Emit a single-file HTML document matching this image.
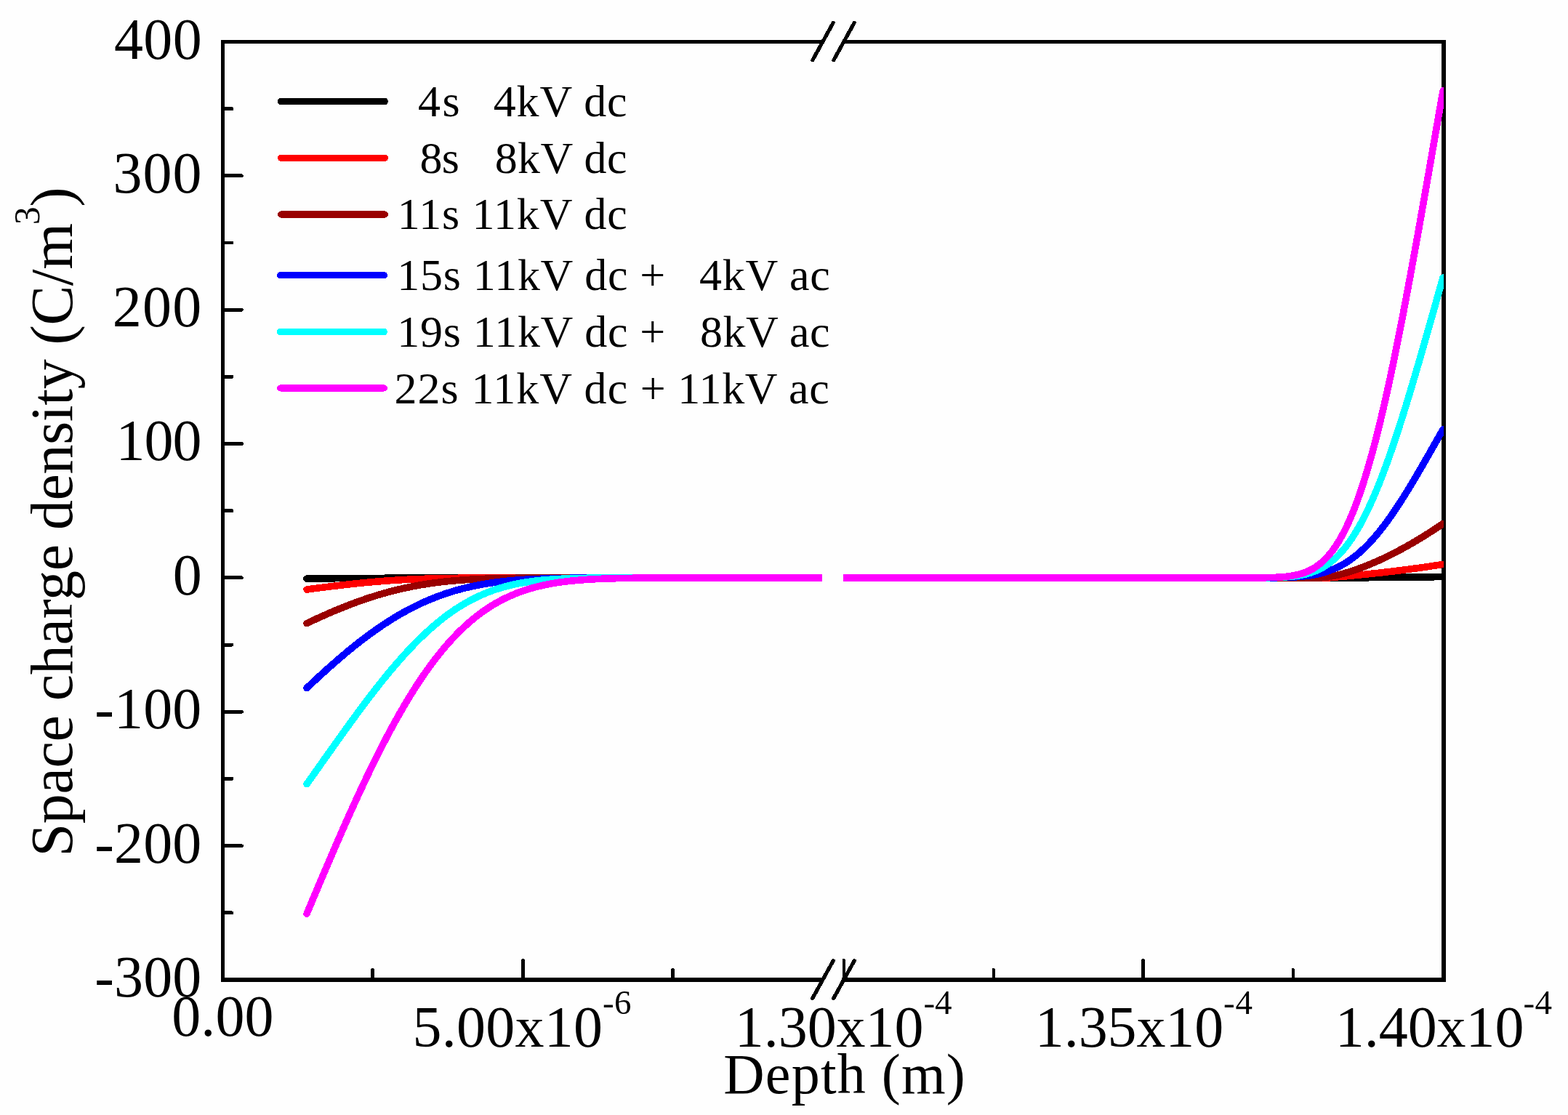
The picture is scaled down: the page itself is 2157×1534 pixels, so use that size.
<!DOCTYPE html>
<html><head><meta charset="utf-8"><title>Space charge density vs depth</title><style>
html,body{margin:0;padding:0;background:#fefefe;}
svg{display:block;}
text{font-family:"Liberation Serif","Times New Roman",serif;fill:#000;white-space:pre;}
</style></head><body>
<svg width="2157" height="1534" viewBox="0 0 2157 1534">
<rect x="0" y="0" width="2157" height="1534" fill="#fefefe"/>
<defs><clipPath id="cl"><rect x="300" y="0" width="831" height="1534"/></clipPath><clipPath id="cr"><rect x="1160" y="0" width="826" height="1534"/></clipPath></defs>
<g fill="#000" shape-rendering="crispEdges">
<rect x="304" y="55" width="5" height="1296"/>
<rect x="1983" y="55" width="6" height="1296"/>
<rect x="304" y="55" width="828" height="5"/>
<rect x="1160" y="55" width="829" height="5"/>
<rect x="304" y="1345" width="828" height="6"/>
<rect x="1158" y="1345" width="831" height="6"/>
</g>
<g stroke="#000" stroke-width="4.9" stroke-linecap="round" fill="none" shape-rendering="crispEdges">
<path d="M306.5 1255.82 H319.0"/>
<path d="M306.5 1163.64 H332.5"/>
<path d="M306.5 1071.46 H319.0"/>
<path d="M306.5 979.29 H332.5"/>
<path d="M306.5 887.11 H319.0"/>
<path d="M306.5 794.93 H332.5"/>
<path d="M306.5 702.75 H319.0"/>
<path d="M306.5 610.57 H332.5"/>
<path d="M306.5 518.39 H319.0"/>
<path d="M306.5 426.21 H332.5"/>
<path d="M306.5 334.04 H319.0"/>
<path d="M306.5 241.86 H332.5"/>
<path d="M306.5 149.68 H319.0"/>
<path d="M512.6 1348 V1334.5"/>
<path d="M719.6 1348 V1321.5"/>
<path d="M925.4 1348 V1334.5"/>
<path d="M1161 1348 V1321.5"/>
<path d="M1367 1348 V1334.5"/>
<path d="M1572.8 1348 V1321.5"/>
<path d="M1779 1348 V1334.5"/>
</g>
<g stroke="#000" stroke-width="5.2" stroke-linecap="round" fill="none" shape-rendering="crispEdges">
<path d="M1117.8 82.8 L1146.2 31.3 M1146.8 82.8 L1175.2 31.3"/>
<path d="M1117.8 1373.3 L1146.2 1321.8 M1146.8 1373.3 L1175.2 1321.8"/>
</g>
<g fill="none" stroke-width="9.6" stroke-linejoin="round" stroke-linecap="round" shape-rendering="crispEdges">
<path clip-path="url(#cl)" stroke="#000000" d="M422.0 796.13 L423.0 796.12 L424.0 796.10 L425.0 796.09 L426.0 796.08 L427.0 796.07 L428.0 796.05 L429.0 796.04 L430.0 796.03 L431.0 796.02 L432.0 796.00 L433.0 795.99 L434.0 795.98 L435.0 795.97 L436.0 795.96 L437.0 795.95 L438.0 795.93 L439.0 795.92 L440.0 795.91 L441.0 795.90 L442.0 795.89 L443.0 795.88 L444.0 795.87 L445.0 795.86 L446.0 795.85 L447.0 795.84 L448.0 795.83 L449.0 795.82 L450.0 795.81 L451.0 795.80 L452.0 795.79 L453.0 795.78 L454.0 795.77 L455.0 795.76 L456.0 795.75 L457.0 795.74 L458.0 795.73 L459.0 795.73 L460.0 795.72 L461.0 795.71 L462.0 795.70 L463.0 795.69 L464.0 795.68 L465.0 795.67 L466.0 795.67 L467.0 795.66 L468.0 795.65 L469.0 795.64 L470.0 795.63 L471.0 795.63 L472.0 795.62 L473.0 795.61 L474.0 795.60 L475.0 795.60 L476.0 795.59 L477.0 795.58 L478.0 795.57 L479.0 795.57 L480.0 795.56 L481.0 795.55 L482.0 795.55 L483.0 795.54 L484.0 795.53 L485.0 795.53 L486.0 795.52 L487.0 795.51 L488.0 795.51 L489.0 795.50 L490.0 795.49 L491.0 795.49 L492.0 795.48 L493.0 795.48 L494.0 795.47 L495.0 795.46 L496.0 795.46 L497.0 795.45 L498.0 795.45 L499.0 795.44 L500.0 795.43 L501.0 795.43 L502.0 795.42 L503.0 795.42 L504.0 795.41 L505.0 795.41 L506.0 795.40 L507.0 795.40 L508.0 795.39 L509.0 795.39 L510.0 795.38 L511.0 795.38 L512.0 795.37 L513.0 795.37 L514.0 795.36 L515.0 795.36 L516.0 795.35 L517.0 795.35 L518.0 795.34 L519.0 795.34 L520.0 795.33 L521.0 795.33 L522.0 795.33 L523.0 795.32 L524.0 795.32 L525.0 795.31 L526.0 795.31 L527.0 795.30 L528.0 795.30 L529.0 795.30 L530.0 795.29 L531.0 795.29 L532.0 795.28 L533.0 795.28 L534.0 795.28 L535.0 795.27 L536.0 795.27 L537.0 795.26 L538.0 795.26 L539.0 795.26 L540.0 795.25 L541.0 795.25 L542.0 795.25 L543.0 795.24 L544.0 795.24 L545.0 795.24 L546.0 795.23 L547.0 795.23 L548.0 795.23 L549.0 795.22 L550.0 795.22 L551.0 795.22 L552.0 795.21 L553.0 795.21 L554.0 795.21 L555.0 795.20 L556.0 795.20 L557.0 795.20 L558.0 795.19 L559.0 795.19 L560.0 795.19 L561.0 795.19 L562.0 795.18 L563.0 795.18 L564.0 795.18 L565.0 795.17 L566.0 795.17 L567.0 795.17 L568.0 795.17 L569.0 795.16 L570.0 795.16 L571.0 795.16 L572.0 795.16 L573.0 795.15 L574.0 795.15 L575.0 795.15 L576.0 795.15 L577.0 795.14 L578.0 795.14 L579.0 795.14 L580.0 795.14 L581.0 795.14 L582.0 795.13 L583.0 795.13 L584.0 795.13 L585.0 795.13 L586.0 795.12 L587.0 795.12 L588.0 795.12 L589.0 795.12 L590.0 795.12 L591.0 795.11 L592.0 795.11 L593.0 795.11 L594.0 795.11 L595.0 795.11 L596.0 795.10 L597.0 795.10 L598.0 795.10 L599.0 795.10 L600.0 795.10 L601.0 795.09 L602.0 795.09 L603.0 795.09 L604.0 795.09 L605.0 795.09 L606.0 795.09 L607.0 795.08 L608.0 795.08 L609.0 795.08 L610.0 795.08 L611.0 795.08 L612.0 795.08 L613.0 795.07 L614.0 795.07 L615.0 795.07 L616.0 795.07 L617.0 795.07 L618.0 795.07 L619.0 795.06 L620.0 795.06 L621.0 795.06 L622.0 795.06 L623.0 795.06 L624.0 795.06 L625.0 795.06 L626.0 795.05 L627.0 795.05 L628.0 795.05 L629.0 795.05 L630.0 795.05 L631.0 795.05 L632.0 795.05 L633.0 795.05 L634.0 795.04 L635.0 795.04 L636.0 795.04 L637.0 795.04 L638.0 795.04 L639.0 795.04 L640.0 795.04 L641.0 795.04 L642.0 795.03 L643.0 795.03 L644.0 795.03 L645.0 795.03 L646.0 795.03 L647.0 795.03 L648.0 795.03 L649.0 795.03 L650.0 795.03 L651.0 795.02 L652.0 795.02 L653.0 795.02 L654.0 795.02 L655.0 795.02 L656.0 795.02 L657.0 795.02 L658.0 795.02 L659.0 795.02 L660.0 795.02 L661.0 795.01 L662.0 795.01 L663.0 795.01 L664.0 795.01 L665.0 795.01 L666.0 795.01 L667.0 795.01 L668.0 795.01 L669.0 795.01 L670.0 795.01 L671.0 795.01 L672.0 795.00 L673.0 795.00 L674.0 795.00 L675.0 795.00 L676.0 795.00 L677.0 795.00 L678.0 795.00 L679.0 795.00 L680.0 795.00 L681.0 795.00 L682.0 795.00 L683.0 795.00 L684.0 795.00 L685.0 794.99 L686.0 794.99 L687.0 794.99 L688.0 794.99 L689.0 794.99 L690.0 794.99 L691.0 794.99 L692.0 794.99 L693.0 794.99 L694.0 794.99 L695.0 794.99 L696.0 794.99 L697.0 794.99 L698.0 794.99 L699.0 794.99 L700.0 794.98 L701.0 794.98 L702.0 794.98 L703.0 794.98 L704.0 794.98 L705.0 794.98 L706.0 794.98 L707.0 794.98 L708.0 794.98 L709.0 794.98 L710.0 794.98 L711.0 794.98 L712.0 794.98 L713.0 794.98 L714.0 794.98 L715.0 794.98 L716.0 794.98 L717.0 794.98 L718.0 794.97 L719.0 794.97 L720.0 794.97 L721.0 794.97 L722.0 794.97 L723.0 794.97 L724.0 794.97 L725.0 794.97 L726.0 794.97 L727.0 794.97 L728.0 794.97 L729.0 794.97 L730.0 794.97 L731.0 794.97 L732.0 794.97 L733.0 794.97 L734.0 794.97 L735.0 794.97 L736.0 794.97 L737.0 794.97 L738.0 794.97 L739.0 794.97 L740.0 794.97 L741.0 794.96 L742.0 794.96 L743.0 794.96 L744.0 794.96 L745.0 794.96 L746.0 794.96 L747.0 794.96 L748.0 794.96 L749.0 794.96 L750.0 794.96 L751.0 794.96 L752.0 794.96 L753.0 794.96 L754.0 794.96 L755.0 794.96 L756.0 794.96 L757.0 794.96 L758.0 794.96 L759.0 794.96 L760.0 794.96 L761.0 794.96 L762.0 794.96 L763.0 794.96 L764.0 794.96 L765.0 794.96 L766.0 794.96 L767.0 794.96 L768.0 794.96 L769.0 794.96 L770.0 794.96 L771.0 794.95 L772.0 794.95 L773.0 794.95 L774.0 794.95 L775.0 794.95 L776.0 794.95 L777.0 794.95 L778.0 794.95 L779.0 794.95 L780.0 794.95 L781.0 794.95 L782.0 794.95 L783.0 794.95 L784.0 794.95 L785.0 794.95 L786.0 794.95 L787.0 794.95 L788.0 794.95 L789.0 794.95 L790.0 794.95 L791.0 794.95 L792.0 794.95 L793.0 794.95 L794.0 794.95 L795.0 794.95 L796.0 794.95 L797.0 794.95 L798.0 794.95 L799.0 794.95 L800.0 794.95 L801.0 794.95 L802.0 794.95 L803.0 794.95 L804.0 794.95 L805.0 794.95 L806.0 794.95 L807.0 794.95 L808.0 794.95 L809.0 794.95 L810.0 794.95 L811.0 794.95 L812.0 794.95 L813.0 794.95 L814.0 794.95 L815.0 794.95 L816.0 794.95 L817.0 794.94 L818.0 794.94 L819.0 794.94 L820.0 794.94 L821.0 794.94 L822.0 794.94 L823.0 794.94 L824.0 794.94 L825.0 794.94 L826.0 794.94 L827.0 794.94 L828.0 794.94 L829.0 794.94 L830.0 794.94 L831.0 794.94 L832.0 794.94 L833.0 794.94 L834.0 794.94 L835.0 794.94 L836.0 794.94 L837.0 794.94 L838.0 794.94 L839.0 794.94 L840.0 794.94 L841.0 794.94 L842.0 794.94 L843.0 794.94 L844.0 794.94 L845.0 794.94 L846.0 794.94 L847.0 794.94 L848.0 794.94 L849.0 794.94 L850.0 794.94 L851.0 794.94 L852.0 794.94 L853.0 794.94 L854.0 794.94 L855.0 794.94 L856.0 794.94 L857.0 794.94 L858.0 794.94 L859.0 794.94 L860.0 794.94 L861.0 794.94 L862.0 794.94 L863.0 794.94 L864.0 794.94 L865.0 794.94 L866.0 794.94 L867.0 794.94 L868.0 794.94 L869.0 794.94 L870.0 794.94 L871.0 794.94 L872.0 794.94 L873.0 794.94 L874.0 794.94 L875.0 794.94 L876.0 794.94 L877.0 794.94 L878.0 794.94 L879.0 794.94 L880.0 794.94 L881.0 794.94 L882.0 794.94 L883.0 794.94 L884.0 794.94 L885.0 794.94 L886.0 794.94 L887.0 794.94 L888.0 794.94 L889.0 794.94 L890.0 794.94 L891.0 794.94 L892.0 794.94 L893.0 794.94 L894.0 794.94 L895.0 794.94 L896.0 794.94 L897.0 794.94 L898.0 794.94 L899.0 794.94 L900.0 794.94 L901.0 794.94 L902.0 794.94 L903.0 794.94 L904.0 794.94 L905.0 794.94 L906.0 794.94 L907.0 794.94 L908.0 794.94 L909.0 794.94 L910.0 794.94 L911.0 794.94 L912.0 794.94 L913.0 794.94 L914.0 794.94 L915.0 794.94 L916.0 794.93 L917.0 794.93 L918.0 794.93 L919.0 794.93 L920.0 794.93 L921.0 794.93 L922.0 794.93 L923.0 794.93 L924.0 794.93 L925.0 794.93 L926.0 794.93 L927.0 794.93 L928.0 794.93 L929.0 794.93 L930.0 794.93 L931.0 794.93 L932.0 794.93 L933.0 794.93 L934.0 794.93 L935.0 794.93 L936.0 794.93 L937.0 794.93 L938.0 794.93 L939.0 794.93 L940.0 794.93 L941.0 794.93 L942.0 794.93 L943.0 794.93 L944.0 794.93 L945.0 794.93 L946.0 794.93 L947.0 794.93 L948.0 794.93 L949.0 794.93 L950.0 794.93 L951.0 794.93 L952.0 794.93 L953.0 794.93 L954.0 794.93 L955.0 794.93 L956.0 794.93 L957.0 794.93 L958.0 794.93 L959.0 794.93 L960.0 794.93 L961.0 794.93 L962.0 794.93 L963.0 794.93 L964.0 794.93 L965.0 794.93 L966.0 794.93 L967.0 794.93 L968.0 794.93 L969.0 794.93 L970.0 794.93 L971.0 794.93 L972.0 794.93 L973.0 794.93 L974.0 794.93 L975.0 794.93 L976.0 794.93 L977.0 794.93 L978.0 794.93 L979.0 794.93 L980.0 794.93 L981.0 794.93 L982.0 794.93 L983.0 794.93 L984.0 794.93 L985.0 794.93 L986.0 794.93 L987.0 794.93 L988.0 794.93 L989.0 794.93 L990.0 794.93 L991.0 794.93 L992.0 794.93 L993.0 794.93 L994.0 794.93 L995.0 794.93 L996.0 794.93 L997.0 794.93 L998.0 794.93 L999.0 794.93 L1000.0 794.93 L1001.0 794.93 L1002.0 794.93 L1003.0 794.93 L1004.0 794.93 L1005.0 794.93 L1006.0 794.93 L1007.0 794.93 L1008.0 794.93 L1009.0 794.93 L1010.0 794.93 L1011.0 794.93 L1012.0 794.93 L1013.0 794.93 L1014.0 794.93 L1015.0 794.93 L1016.0 794.93 L1017.0 794.93 L1018.0 794.93 L1019.0 794.93 L1020.0 794.93 L1021.0 794.93 L1022.0 794.93 L1023.0 794.93 L1024.0 794.93 L1025.0 794.93 L1026.0 794.93 L1027.0 794.93 L1028.0 794.93 L1029.0 794.93 L1030.0 794.93 L1031.0 794.93 L1032.0 794.93 L1033.0 794.93 L1034.0 794.93 L1035.0 794.93 L1036.0 794.93 L1037.0 794.93 L1038.0 794.93 L1039.0 794.93 L1040.0 794.93 L1041.0 794.93 L1042.0 794.93 L1043.0 794.93 L1044.0 794.93 L1045.0 794.93 L1046.0 794.93 L1047.0 794.93 L1048.0 794.93 L1049.0 794.93 L1050.0 794.93 L1051.0 794.93 L1052.0 794.93 L1053.0 794.93 L1054.0 794.93 L1055.0 794.93 L1056.0 794.93 L1057.0 794.93 L1058.0 794.93 L1059.0 794.93 L1060.0 794.93 L1061.0 794.93 L1062.0 794.93 L1063.0 794.93 L1064.0 794.93 L1065.0 794.93 L1066.0 794.93 L1067.0 794.93 L1068.0 794.93 L1069.0 794.93 L1070.0 794.93 L1071.0 794.93 L1072.0 794.93 L1073.0 794.93 L1074.0 794.93 L1075.0 794.93 L1076.0 794.93 L1077.0 794.93 L1078.0 794.93 L1079.0 794.93 L1080.0 794.93 L1081.0 794.93 L1082.0 794.93 L1083.0 794.93 L1084.0 794.93 L1085.0 794.93 L1086.0 794.93 L1087.0 794.93 L1088.0 794.93 L1089.0 794.93 L1090.0 794.93 L1091.0 794.93 L1092.0 794.93 L1093.0 794.93 L1094.0 794.93 L1095.0 794.93 L1096.0 794.93 L1097.0 794.93 L1098.0 794.93 L1099.0 794.93 L1100.0 794.93 L1101.0 794.93 L1102.0 794.93 L1103.0 794.93 L1104.0 794.93 L1105.0 794.93 L1106.0 794.93 L1107.0 794.93 L1108.0 794.93 L1109.0 794.93 L1110.0 794.93 L1111.0 794.93 L1112.0 794.93 L1113.0 794.93 L1114.0 794.93 L1115.0 794.93 L1116.0 794.93 L1117.0 794.93 L1118.0 794.93 L1119.0 794.93 L1120.0 794.93 L1121.0 794.93 L1122.0 794.93 L1123.0 794.93 L1124.0 794.93 L1125.0 794.93 L1126.0 794.93 L1127.0 794.93 L1128.0 794.93 L1129.0 794.93 L1130.0 794.93 L1131.0 794.93 L1132.0 794.93 L1133.0 794.93 L1134.0 794.93 L1135.0 794.93 L1136.0 794.93 L1137.0 794.93 L1138.0 794.93 L1139.0 794.93 L1140.0 794.93"/>
<path clip-path="url(#cr)" stroke="#000000" d="M1150.0 794.93 L1151.0 794.93 L1152.0 794.93 L1153.0 794.93 L1154.0 794.93 L1155.0 794.93 L1156.0 794.93 L1157.0 794.93 L1158.0 794.93 L1159.0 794.93 L1160.0 794.93 L1161.0 794.93 L1162.0 794.93 L1163.0 794.93 L1164.0 794.93 L1165.0 794.93 L1166.0 794.93 L1167.0 794.93 L1168.0 794.93 L1169.0 794.93 L1170.0 794.93 L1171.0 794.93 L1172.0 794.93 L1173.0 794.93 L1174.0 794.93 L1175.0 794.93 L1176.0 794.93 L1177.0 794.93 L1178.0 794.93 L1179.0 794.93 L1180.0 794.93 L1181.0 794.93 L1182.0 794.93 L1183.0 794.93 L1184.0 794.93 L1185.0 794.93 L1186.0 794.93 L1187.0 794.93 L1188.0 794.93 L1189.0 794.93 L1190.0 794.93 L1191.0 794.93 L1192.0 794.93 L1193.0 794.93 L1194.0 794.93 L1195.0 794.93 L1196.0 794.93 L1197.0 794.93 L1198.0 794.93 L1199.0 794.93 L1200.0 794.93 L1201.0 794.93 L1202.0 794.93 L1203.0 794.93 L1204.0 794.93 L1205.0 794.93 L1206.0 794.93 L1207.0 794.93 L1208.0 794.93 L1209.0 794.93 L1210.0 794.93 L1211.0 794.93 L1212.0 794.93 L1213.0 794.93 L1214.0 794.93 L1215.0 794.93 L1216.0 794.93 L1217.0 794.93 L1218.0 794.93 L1219.0 794.93 L1220.0 794.93 L1221.0 794.93 L1222.0 794.93 L1223.0 794.93 L1224.0 794.93 L1225.0 794.93 L1226.0 794.93 L1227.0 794.93 L1228.0 794.93 L1229.0 794.93 L1230.0 794.93 L1231.0 794.93 L1232.0 794.93 L1233.0 794.93 L1234.0 794.93 L1235.0 794.93 L1236.0 794.93 L1237.0 794.93 L1238.0 794.93 L1239.0 794.93 L1240.0 794.93 L1241.0 794.93 L1242.0 794.93 L1243.0 794.93 L1244.0 794.93 L1245.0 794.93 L1246.0 794.93 L1247.0 794.93 L1248.0 794.93 L1249.0 794.93 L1250.0 794.93 L1251.0 794.93 L1252.0 794.93 L1253.0 794.93 L1254.0 794.93 L1255.0 794.93 L1256.0 794.93 L1257.0 794.93 L1258.0 794.93 L1259.0 794.93 L1260.0 794.93 L1261.0 794.93 L1262.0 794.93 L1263.0 794.93 L1264.0 794.93 L1265.0 794.93 L1266.0 794.93 L1267.0 794.93 L1268.0 794.93 L1269.0 794.93 L1270.0 794.93 L1271.0 794.93 L1272.0 794.93 L1273.0 794.93 L1274.0 794.93 L1275.0 794.93 L1276.0 794.93 L1277.0 794.93 L1278.0 794.93 L1279.0 794.93 L1280.0 794.93 L1281.0 794.93 L1282.0 794.93 L1283.0 794.93 L1284.0 794.93 L1285.0 794.93 L1286.0 794.93 L1287.0 794.93 L1288.0 794.93 L1289.0 794.93 L1290.0 794.93 L1291.0 794.93 L1292.0 794.93 L1293.0 794.93 L1294.0 794.93 L1295.0 794.93 L1296.0 794.93 L1297.0 794.93 L1298.0 794.93 L1299.0 794.93 L1300.0 794.93 L1301.0 794.93 L1302.0 794.93 L1303.0 794.93 L1304.0 794.93 L1305.0 794.93 L1306.0 794.93 L1307.0 794.93 L1308.0 794.93 L1309.0 794.93 L1310.0 794.93 L1311.0 794.93 L1312.0 794.93 L1313.0 794.93 L1314.0 794.93 L1315.0 794.93 L1316.0 794.93 L1317.0 794.93 L1318.0 794.93 L1319.0 794.93 L1320.0 794.93 L1321.0 794.93 L1322.0 794.93 L1323.0 794.93 L1324.0 794.93 L1325.0 794.93 L1326.0 794.93 L1327.0 794.93 L1328.0 794.93 L1329.0 794.93 L1330.0 794.93 L1331.0 794.93 L1332.0 794.93 L1333.0 794.93 L1334.0 794.93 L1335.0 794.93 L1336.0 794.93 L1337.0 794.93 L1338.0 794.93 L1339.0 794.93 L1340.0 794.93 L1341.0 794.93 L1342.0 794.93 L1343.0 794.93 L1344.0 794.93 L1345.0 794.93 L1346.0 794.93 L1347.0 794.93 L1348.0 794.93 L1349.0 794.93 L1350.0 794.93 L1351.0 794.93 L1352.0 794.93 L1353.0 794.93 L1354.0 794.93 L1355.0 794.93 L1356.0 794.93 L1357.0 794.93 L1358.0 794.93 L1359.0 794.93 L1360.0 794.93 L1361.0 794.93 L1362.0 794.93 L1363.0 794.93 L1364.0 794.93 L1365.0 794.93 L1366.0 794.93 L1367.0 794.93 L1368.0 794.93 L1369.0 794.93 L1370.0 794.93 L1371.0 794.93 L1372.0 794.93 L1373.0 794.93 L1374.0 794.93 L1375.0 794.93 L1376.0 794.93 L1377.0 794.93 L1378.0 794.93 L1379.0 794.93 L1380.0 794.93 L1381.0 794.93 L1382.0 794.93 L1383.0 794.93 L1384.0 794.93 L1385.0 794.93 L1386.0 794.93 L1387.0 794.93 L1388.0 794.93 L1389.0 794.93 L1390.0 794.93 L1391.0 794.93 L1392.0 794.93 L1393.0 794.93 L1394.0 794.93 L1395.0 794.93 L1396.0 794.93 L1397.0 794.93 L1398.0 794.93 L1399.0 794.93 L1400.0 794.93 L1401.0 794.93 L1402.0 794.93 L1403.0 794.93 L1404.0 794.93 L1405.0 794.93 L1406.0 794.93 L1407.0 794.93 L1408.0 794.93 L1409.0 794.93 L1410.0 794.93 L1411.0 794.93 L1412.0 794.93 L1413.0 794.93 L1414.0 794.93 L1415.0 794.93 L1416.0 794.93 L1417.0 794.93 L1418.0 794.93 L1419.0 794.93 L1420.0 794.93 L1421.0 794.93 L1422.0 794.93 L1423.0 794.93 L1424.0 794.93 L1425.0 794.93 L1426.0 794.93 L1427.0 794.93 L1428.0 794.93 L1429.0 794.93 L1430.0 794.93 L1431.0 794.93 L1432.0 794.93 L1433.0 794.93 L1434.0 794.93 L1435.0 794.93 L1436.0 794.93 L1437.0 794.93 L1438.0 794.93 L1439.0 794.93 L1440.0 794.93 L1441.0 794.93 L1442.0 794.93 L1443.0 794.93 L1444.0 794.93 L1445.0 794.93 L1446.0 794.93 L1447.0 794.93 L1448.0 794.93 L1449.0 794.93 L1450.0 794.93 L1451.0 794.93 L1452.0 794.93 L1453.0 794.93 L1454.0 794.93 L1455.0 794.93 L1456.0 794.93 L1457.0 794.93 L1458.0 794.93 L1459.0 794.93 L1460.0 794.93 L1461.0 794.93 L1462.0 794.93 L1463.0 794.93 L1464.0 794.93 L1465.0 794.93 L1466.0 794.93 L1467.0 794.93 L1468.0 794.93 L1469.0 794.93 L1470.0 794.93 L1471.0 794.93 L1472.0 794.93 L1473.0 794.93 L1474.0 794.93 L1475.0 794.93 L1476.0 794.93 L1477.0 794.93 L1478.0 794.93 L1479.0 794.93 L1480.0 794.93 L1481.0 794.93 L1482.0 794.93 L1483.0 794.93 L1484.0 794.93 L1485.0 794.93 L1486.0 794.93 L1487.0 794.93 L1488.0 794.93 L1489.0 794.93 L1490.0 794.93 L1491.0 794.93 L1492.0 794.93 L1493.0 794.93 L1494.0 794.93 L1495.0 794.93 L1496.0 794.93 L1497.0 794.93 L1498.0 794.93 L1499.0 794.93 L1500.0 794.93 L1501.0 794.93 L1502.0 794.93 L1503.0 794.93 L1504.0 794.93 L1505.0 794.93 L1506.0 794.93 L1507.0 794.93 L1508.0 794.93 L1509.0 794.93 L1510.0 794.93 L1511.0 794.93 L1512.0 794.93 L1513.0 794.93 L1514.0 794.93 L1515.0 794.93 L1516.0 794.93 L1517.0 794.93 L1518.0 794.93 L1519.0 794.93 L1520.0 794.93 L1521.0 794.93 L1522.0 794.93 L1523.0 794.93 L1524.0 794.93 L1525.0 794.93 L1526.0 794.93 L1527.0 794.93 L1528.0 794.93 L1529.0 794.93 L1530.0 794.93 L1531.0 794.93 L1532.0 794.93 L1533.0 794.93 L1534.0 794.93 L1535.0 794.93 L1536.0 794.93 L1537.0 794.93 L1538.0 794.93 L1539.0 794.93 L1540.0 794.93 L1541.0 794.93 L1542.0 794.93 L1543.0 794.93 L1544.0 794.93 L1545.0 794.93 L1546.0 794.93 L1547.0 794.93 L1548.0 794.93 L1549.0 794.93 L1550.0 794.93 L1551.0 794.93 L1552.0 794.93 L1553.0 794.93 L1554.0 794.93 L1555.0 794.93 L1556.0 794.93 L1557.0 794.93 L1558.0 794.93 L1559.0 794.93 L1560.0 794.93 L1561.0 794.93 L1562.0 794.93 L1563.0 794.93 L1564.0 794.93 L1565.0 794.93 L1566.0 794.93 L1567.0 794.93 L1568.0 794.93 L1569.0 794.93 L1570.0 794.93 L1571.0 794.93 L1572.0 794.93 L1573.0 794.93 L1574.0 794.93 L1575.0 794.93 L1576.0 794.93 L1577.0 794.93 L1578.0 794.93 L1579.0 794.93 L1580.0 794.93 L1581.0 794.93 L1582.0 794.93 L1583.0 794.93 L1584.0 794.93 L1585.0 794.93 L1586.0 794.93 L1587.0 794.93 L1588.0 794.93 L1589.0 794.93 L1590.0 794.93 L1591.0 794.93 L1592.0 794.93 L1593.0 794.93 L1594.0 794.93 L1595.0 794.93 L1596.0 794.93 L1597.0 794.93 L1598.0 794.93 L1599.0 794.93 L1600.0 794.93 L1601.0 794.93 L1602.0 794.93 L1603.0 794.93 L1604.0 794.93 L1605.0 794.93 L1606.0 794.93 L1607.0 794.93 L1608.0 794.93 L1609.0 794.93 L1610.0 794.93 L1611.0 794.93 L1612.0 794.93 L1613.0 794.93 L1614.0 794.93 L1615.0 794.93 L1616.0 794.93 L1617.0 794.93 L1618.0 794.93 L1619.0 794.93 L1620.0 794.93 L1621.0 794.93 L1622.0 794.93 L1623.0 794.93 L1624.0 794.93 L1625.0 794.93 L1626.0 794.93 L1627.0 794.93 L1628.0 794.93 L1629.0 794.93 L1630.0 794.93 L1631.0 794.93 L1632.0 794.93 L1633.0 794.93 L1634.0 794.93 L1635.0 794.93 L1636.0 794.93 L1637.0 794.93 L1638.0 794.93 L1639.0 794.93 L1640.0 794.93 L1641.0 794.93 L1642.0 794.93 L1643.0 794.93 L1644.0 794.93 L1645.0 794.93 L1646.0 794.93 L1647.0 794.93 L1648.0 794.93 L1649.0 794.93 L1650.0 794.93 L1651.0 794.93 L1652.0 794.93 L1653.0 794.93 L1654.0 794.93 L1655.0 794.93 L1656.0 794.93 L1657.0 794.93 L1658.0 794.93 L1659.0 794.93 L1660.0 794.93 L1661.0 794.93 L1662.0 794.93 L1663.0 794.93 L1664.0 794.93 L1665.0 794.93 L1666.0 794.93 L1667.0 794.93 L1668.0 794.93 L1669.0 794.93 L1670.0 794.93 L1671.0 794.93 L1672.0 794.93 L1673.0 794.93 L1674.0 794.93 L1675.0 794.93 L1676.0 794.93 L1677.0 794.93 L1678.0 794.93 L1679.0 794.93 L1680.0 794.93 L1681.0 794.93 L1682.0 794.93 L1683.0 794.93 L1684.0 794.93 L1685.0 794.93 L1686.0 794.93 L1687.0 794.93 L1688.0 794.93 L1689.0 794.93 L1690.0 794.93 L1691.0 794.93 L1692.0 794.93 L1693.0 794.93 L1694.0 794.93 L1695.0 794.93 L1696.0 794.93 L1697.0 794.93 L1698.0 794.93 L1699.0 794.93 L1700.0 794.93 L1701.0 794.93 L1702.0 794.93 L1703.0 794.93 L1704.0 794.93 L1705.0 794.93 L1706.0 794.93 L1707.0 794.93 L1708.0 794.93 L1709.0 794.93 L1710.0 794.93 L1711.0 794.93 L1712.0 794.93 L1713.0 794.93 L1714.0 794.93 L1715.0 794.93 L1716.0 794.93 L1717.0 794.93 L1718.0 794.93 L1719.0 794.93 L1720.0 794.93 L1721.0 794.93 L1722.0 794.93 L1723.0 794.93 L1724.0 794.93 L1725.0 794.93 L1726.0 794.93 L1727.0 794.93 L1728.0 794.93 L1729.0 794.93 L1730.0 794.93 L1731.0 794.93 L1732.0 794.93 L1733.0 794.93 L1734.0 794.93 L1735.0 794.93 L1736.0 794.93 L1737.0 794.93 L1738.0 794.93 L1739.0 794.93 L1740.0 794.93 L1741.0 794.93 L1742.0 794.93 L1743.0 794.93 L1744.0 794.93 L1745.0 794.93 L1746.0 794.93 L1747.0 794.93 L1748.0 794.93 L1749.0 794.93 L1750.0 794.93 L1751.0 794.93 L1752.0 794.93 L1753.0 794.93 L1754.0 794.93 L1755.0 794.93 L1756.0 794.93 L1757.0 794.93 L1758.0 794.93 L1759.0 794.93 L1760.0 794.93 L1761.0 794.93 L1762.0 794.93 L1763.0 794.93 L1764.0 794.93 L1765.0 794.93 L1766.0 794.93 L1767.0 794.93 L1768.0 794.93 L1769.0 794.93 L1770.0 794.93 L1771.0 794.93 L1772.0 794.93 L1773.0 794.93 L1774.0 794.93 L1775.0 794.93 L1776.0 794.93 L1777.0 794.93 L1778.0 794.93 L1779.0 794.93 L1780.0 794.93 L1781.0 794.93 L1782.0 794.93 L1783.0 794.93 L1784.0 794.93 L1785.0 794.93 L1786.0 794.93 L1787.0 794.93 L1788.0 794.93 L1789.0 794.93 L1790.0 794.93 L1791.0 794.93 L1792.0 794.93 L1793.0 794.93 L1794.0 794.93 L1795.0 794.93 L1796.0 794.93 L1797.0 794.93 L1798.0 794.93 L1799.0 794.93 L1800.0 794.93 L1801.0 794.93 L1802.0 794.93 L1803.0 794.93 L1804.0 794.93 L1805.0 794.93 L1806.0 794.93 L1807.0 794.93 L1808.0 794.93 L1809.0 794.93 L1810.0 794.93 L1811.0 794.93 L1812.0 794.93 L1813.0 794.93 L1814.0 794.93 L1815.0 794.93 L1816.0 794.93 L1817.0 794.93 L1818.0 794.93 L1819.0 794.93 L1820.0 794.93 L1821.0 794.93 L1822.0 794.93 L1823.0 794.93 L1824.0 794.93 L1825.0 794.93 L1826.0 794.93 L1827.0 794.93 L1828.0 794.93 L1829.0 794.93 L1830.0 794.93 L1831.0 794.93 L1832.0 794.93 L1833.0 794.93 L1834.0 794.93 L1835.0 794.93 L1836.0 794.93 L1837.0 794.93 L1838.0 794.93 L1839.0 794.93 L1840.0 794.93 L1841.0 794.93 L1842.0 794.93 L1843.0 794.93 L1844.0 794.92 L1845.0 794.92 L1846.0 794.92 L1847.0 794.92 L1848.0 794.91 L1849.0 794.91 L1850.0 794.90 L1851.0 794.90 L1852.0 794.90 L1853.0 794.89 L1854.0 794.89 L1855.0 794.88 L1856.0 794.88 L1857.0 794.87 L1858.0 794.87 L1859.0 794.86 L1860.0 794.86 L1861.0 794.85 L1862.0 794.85 L1863.0 794.84 L1864.0 794.84 L1865.0 794.83 L1866.0 794.82 L1867.0 794.82 L1868.0 794.81 L1869.0 794.81 L1870.0 794.80 L1871.0 794.79 L1872.0 794.79 L1873.0 794.78 L1874.0 794.77 L1875.0 794.77 L1876.0 794.76 L1877.0 794.75 L1878.0 794.74 L1879.0 794.74 L1880.0 794.73 L1881.0 794.72 L1882.0 794.71 L1883.0 794.71 L1884.0 794.70 L1885.0 794.69 L1886.0 794.68 L1887.0 794.67 L1888.0 794.67 L1889.0 794.66 L1890.0 794.65 L1891.0 794.64 L1892.0 794.63 L1893.0 794.62 L1894.0 794.62 L1895.0 794.61 L1896.0 794.60 L1897.0 794.59 L1898.0 794.58 L1899.0 794.57 L1900.0 794.56 L1901.0 794.55 L1902.0 794.54 L1903.0 794.53 L1904.0 794.52 L1905.0 794.51 L1906.0 794.50 L1907.0 794.49 L1908.0 794.48 L1909.0 794.48 L1910.0 794.47 L1911.0 794.46 L1912.0 794.45 L1913.0 794.44 L1914.0 794.42 L1915.0 794.41 L1916.0 794.40 L1917.0 794.39 L1918.0 794.38 L1919.0 794.37 L1920.0 794.36 L1921.0 794.35 L1922.0 794.34 L1923.0 794.33 L1924.0 794.32 L1925.0 794.31 L1926.0 794.30 L1927.0 794.29 L1928.0 794.27 L1929.0 794.26 L1930.0 794.25 L1931.0 794.24 L1932.0 794.23 L1933.0 794.22 L1934.0 794.21 L1935.0 794.20 L1936.0 794.18 L1937.0 794.17 L1938.0 794.16 L1939.0 794.15 L1940.0 794.14 L1941.0 794.12 L1942.0 794.11 L1943.0 794.10 L1944.0 794.09 L1945.0 794.08 L1946.0 794.06 L1947.0 794.05 L1948.0 794.04 L1949.0 794.03 L1950.0 794.01 L1951.0 794.00 L1952.0 793.99 L1953.0 793.98 L1954.0 793.96 L1955.0 793.95 L1956.0 793.94 L1957.0 793.93 L1958.0 793.91 L1959.0 793.90 L1960.0 793.89 L1961.0 793.87 L1962.0 793.86 L1963.0 793.85 L1964.0 793.83 L1965.0 793.82 L1966.0 793.81 L1967.0 793.79 L1968.0 793.78 L1969.0 793.77 L1970.0 793.75 L1971.0 793.74 L1972.0 793.73 L1973.0 793.71 L1974.0 793.70 L1975.0 793.69 L1976.0 793.67 L1977.0 793.66 L1978.0 793.64 L1979.0 793.63 L1980.0 793.62 L1981.0 793.60 L1982.0 793.59 L1983.0 793.57 L1984.0 793.56 L1985.0 793.54"/>
<path clip-path="url(#cl)" stroke="#ff0000" d="M422.0 811.01 L423.0 810.88 L424.0 810.75 L425.0 810.62 L426.0 810.50 L427.0 810.37 L428.0 810.24 L429.0 810.11 L430.0 809.98 L431.0 809.86 L432.0 809.73 L433.0 809.60 L434.0 809.47 L435.0 809.35 L436.0 809.22 L437.0 809.09 L438.0 808.97 L439.0 808.84 L440.0 808.71 L441.0 808.59 L442.0 808.46 L443.0 808.33 L444.0 808.21 L445.0 808.08 L446.0 807.96 L447.0 807.83 L448.0 807.71 L449.0 807.58 L450.0 807.46 L451.0 807.33 L452.0 807.21 L453.0 807.09 L454.0 806.96 L455.0 806.84 L456.0 806.72 L457.0 806.60 L458.0 806.48 L459.0 806.35 L460.0 806.23 L461.0 806.11 L462.0 805.99 L463.0 805.87 L464.0 805.75 L465.0 805.63 L466.0 805.51 L467.0 805.40 L468.0 805.28 L469.0 805.16 L470.0 805.05 L471.0 804.93 L472.0 804.81 L473.0 804.70 L474.0 804.58 L475.0 804.47 L476.0 804.36 L477.0 804.24 L478.0 804.13 L479.0 804.02 L480.0 803.91 L481.0 803.79 L482.0 803.68 L483.0 803.57 L484.0 803.47 L485.0 803.36 L486.0 803.25 L487.0 803.14 L488.0 803.03 L489.0 802.93 L490.0 802.82 L491.0 802.72 L492.0 802.61 L493.0 802.51 L494.0 802.41 L495.0 802.31 L496.0 802.20 L497.0 802.10 L498.0 802.00 L499.0 801.90 L500.0 801.81 L501.0 801.71 L502.0 801.61 L503.0 801.51 L504.0 801.42 L505.0 801.32 L506.0 801.23 L507.0 801.14 L508.0 801.04 L509.0 800.95 L510.0 800.86 L511.0 800.77 L512.0 800.68 L513.0 800.59 L514.0 800.50 L515.0 800.41 L516.0 800.33 L517.0 800.24 L518.0 800.16 L519.0 800.07 L520.0 799.99 L521.0 799.91 L522.0 799.82 L523.0 799.74 L524.0 799.66 L525.0 799.58 L526.0 799.51 L527.0 799.43 L528.0 799.35 L529.0 799.27 L530.0 799.20 L531.0 799.12 L532.0 799.05 L533.0 798.98 L534.0 798.91 L535.0 798.83 L536.0 798.76 L537.0 798.69 L538.0 798.63 L539.0 798.56 L540.0 798.49 L541.0 798.42 L542.0 798.36 L543.0 798.29 L544.0 798.23 L545.0 798.17 L546.0 798.10 L547.0 798.04 L548.0 797.98 L549.0 797.92 L550.0 797.86 L551.0 797.80 L552.0 797.75 L553.0 797.69 L554.0 797.63 L555.0 797.58 L556.0 797.52 L557.0 797.47 L558.0 797.42 L559.0 797.36 L560.0 797.31 L561.0 797.26 L562.0 797.21 L563.0 797.16 L564.0 797.12 L565.0 797.07 L566.0 797.02 L567.0 796.98 L568.0 796.93 L569.0 796.89 L570.0 796.84 L571.0 796.80 L572.0 796.76 L573.0 796.71 L574.0 796.67 L575.0 796.63 L576.0 796.59 L577.0 796.55 L578.0 796.52 L579.0 796.48 L580.0 796.44 L581.0 796.40 L582.0 796.37 L583.0 796.33 L584.0 796.30 L585.0 796.27 L586.0 796.23 L587.0 796.20 L588.0 796.17 L589.0 796.14 L590.0 796.11 L591.0 796.08 L592.0 796.05 L593.0 796.02 L594.0 795.99 L595.0 795.96 L596.0 795.93 L597.0 795.91 L598.0 795.88 L599.0 795.86 L600.0 795.83 L601.0 795.81 L602.0 795.78 L603.0 795.76 L604.0 795.74 L605.0 795.71 L606.0 795.69 L607.0 795.67 L608.0 795.65 L609.0 795.63 L610.0 795.61 L611.0 795.59 L612.0 795.57 L613.0 795.55 L614.0 795.53 L615.0 795.52 L616.0 795.50 L617.0 795.48 L618.0 795.47 L619.0 795.45 L620.0 795.43 L621.0 795.42 L622.0 795.40 L623.0 795.39 L624.0 795.37 L625.0 795.36 L626.0 795.35 L627.0 795.33 L628.0 795.32 L629.0 795.31 L630.0 795.30 L631.0 795.28 L632.0 795.27 L633.0 795.26 L634.0 795.25 L635.0 795.24 L636.0 795.23 L637.0 795.22 L638.0 795.21 L639.0 795.20 L640.0 795.19 L641.0 795.18 L642.0 795.17 L643.0 795.17 L644.0 795.16 L645.0 795.15 L646.0 795.14 L647.0 795.13 L648.0 795.13 L649.0 795.12 L650.0 795.11 L651.0 795.11 L652.0 795.10 L653.0 795.09 L654.0 795.09 L655.0 795.08 L656.0 795.08 L657.0 795.07 L658.0 795.07 L659.0 795.06 L660.0 795.06 L661.0 795.05 L662.0 795.05 L663.0 795.04 L664.0 795.04 L665.0 795.03 L666.0 795.03 L667.0 795.02 L668.0 795.02 L669.0 795.02 L670.0 795.01 L671.0 795.01 L672.0 795.01 L673.0 795.00 L674.0 795.00 L675.0 795.00 L676.0 795.00 L677.0 794.99 L678.0 794.99 L679.0 794.99 L680.0 794.98 L681.0 794.98 L682.0 794.98 L683.0 794.98 L684.0 794.98 L685.0 794.97 L686.0 794.97 L687.0 794.97 L688.0 794.97 L689.0 794.97 L690.0 794.97 L691.0 794.96 L692.0 794.96 L693.0 794.96 L694.0 794.96 L695.0 794.96 L696.0 794.96 L697.0 794.96 L698.0 794.95 L699.0 794.95 L700.0 794.95 L701.0 794.95 L702.0 794.95 L703.0 794.95 L704.0 794.95 L705.0 794.95 L706.0 794.95 L707.0 794.95 L708.0 794.94 L709.0 794.94 L710.0 794.94 L711.0 794.94 L712.0 794.94 L713.0 794.94 L714.0 794.94 L715.0 794.94 L716.0 794.94 L717.0 794.94 L718.0 794.94 L719.0 794.94 L720.0 794.94 L721.0 794.94 L722.0 794.94 L723.0 794.94 L724.0 794.94 L725.0 794.94 L726.0 794.94 L727.0 794.94 L728.0 794.94 L729.0 794.93 L730.0 794.93 L731.0 794.93 L732.0 794.93 L733.0 794.93 L734.0 794.93 L735.0 794.93 L736.0 794.93 L737.0 794.93 L738.0 794.93 L739.0 794.93 L740.0 794.93 L741.0 794.93 L742.0 794.93 L743.0 794.93 L744.0 794.93 L745.0 794.93 L746.0 794.93 L747.0 794.93 L748.0 794.93 L749.0 794.93 L750.0 794.93 L751.0 794.93 L752.0 794.93 L753.0 794.93 L754.0 794.93 L755.0 794.93 L756.0 794.93 L757.0 794.93 L758.0 794.93 L759.0 794.93 L760.0 794.93 L761.0 794.93 L762.0 794.93 L763.0 794.93 L764.0 794.93 L765.0 794.93 L766.0 794.93 L767.0 794.93 L768.0 794.93 L769.0 794.93 L770.0 794.93 L771.0 794.93 L772.0 794.93 L773.0 794.93 L774.0 794.93 L775.0 794.93 L776.0 794.93 L777.0 794.93 L778.0 794.93 L779.0 794.93 L780.0 794.93 L781.0 794.93 L782.0 794.93 L783.0 794.93 L784.0 794.93 L785.0 794.93 L786.0 794.93 L787.0 794.93 L788.0 794.93 L789.0 794.93 L790.0 794.93 L791.0 794.93 L792.0 794.93 L793.0 794.93 L794.0 794.93 L795.0 794.93 L796.0 794.93 L797.0 794.93 L798.0 794.93 L799.0 794.93 L800.0 794.93 L801.0 794.93 L802.0 794.93 L803.0 794.93 L804.0 794.93 L805.0 794.93 L806.0 794.93 L807.0 794.93 L808.0 794.93 L809.0 794.93 L810.0 794.93 L811.0 794.93 L812.0 794.93 L813.0 794.93 L814.0 794.93 L815.0 794.93 L816.0 794.93 L817.0 794.93 L818.0 794.93 L819.0 794.93 L820.0 794.93 L821.0 794.93 L822.0 794.93 L823.0 794.93 L824.0 794.93 L825.0 794.93 L826.0 794.93 L827.0 794.93 L828.0 794.93 L829.0 794.93 L830.0 794.93 L831.0 794.93 L832.0 794.93 L833.0 794.93 L834.0 794.93 L835.0 794.93 L836.0 794.93 L837.0 794.93 L838.0 794.93 L839.0 794.93 L840.0 794.93 L841.0 794.93 L842.0 794.93 L843.0 794.93 L844.0 794.93 L845.0 794.93 L846.0 794.93 L847.0 794.93 L848.0 794.93 L849.0 794.93 L850.0 794.93 L851.0 794.93 L852.0 794.93 L853.0 794.93 L854.0 794.93 L855.0 794.93 L856.0 794.93 L857.0 794.93 L858.0 794.93 L859.0 794.93 L860.0 794.93 L861.0 794.93 L862.0 794.93 L863.0 794.93 L864.0 794.93 L865.0 794.93 L866.0 794.93 L867.0 794.93 L868.0 794.93 L869.0 794.93 L870.0 794.93 L871.0 794.93 L872.0 794.93 L873.0 794.93 L874.0 794.93 L875.0 794.93 L876.0 794.93 L877.0 794.93 L878.0 794.93 L879.0 794.93 L880.0 794.93 L881.0 794.93 L882.0 794.93 L883.0 794.93 L884.0 794.93 L885.0 794.93 L886.0 794.93 L887.0 794.93 L888.0 794.93 L889.0 794.93 L890.0 794.93 L891.0 794.93 L892.0 794.93 L893.0 794.93 L894.0 794.93 L895.0 794.93 L896.0 794.93 L897.0 794.93 L898.0 794.93 L899.0 794.93 L900.0 794.93 L901.0 794.93 L902.0 794.93 L903.0 794.93 L904.0 794.93 L905.0 794.93 L906.0 794.93 L907.0 794.93 L908.0 794.93 L909.0 794.93 L910.0 794.93 L911.0 794.93 L912.0 794.93 L913.0 794.93 L914.0 794.93 L915.0 794.93 L916.0 794.93 L917.0 794.93 L918.0 794.93 L919.0 794.93 L920.0 794.93 L921.0 794.93 L922.0 794.93 L923.0 794.93 L924.0 794.93 L925.0 794.93 L926.0 794.93 L927.0 794.93 L928.0 794.93 L929.0 794.93 L930.0 794.93 L931.0 794.93 L932.0 794.93 L933.0 794.93 L934.0 794.93 L935.0 794.93 L936.0 794.93 L937.0 794.93 L938.0 794.93 L939.0 794.93 L940.0 794.93 L941.0 794.93 L942.0 794.93 L943.0 794.93 L944.0 794.93 L945.0 794.93 L946.0 794.93 L947.0 794.93 L948.0 794.93 L949.0 794.93 L950.0 794.93 L951.0 794.93 L952.0 794.93 L953.0 794.93 L954.0 794.93 L955.0 794.93 L956.0 794.93 L957.0 794.93 L958.0 794.93 L959.0 794.93 L960.0 794.93 L961.0 794.93 L962.0 794.93 L963.0 794.93 L964.0 794.93 L965.0 794.93 L966.0 794.93 L967.0 794.93 L968.0 794.93 L969.0 794.93 L970.0 794.93 L971.0 794.93 L972.0 794.93 L973.0 794.93 L974.0 794.93 L975.0 794.93 L976.0 794.93 L977.0 794.93 L978.0 794.93 L979.0 794.93 L980.0 794.93 L981.0 794.93 L982.0 794.93 L983.0 794.93 L984.0 794.93 L985.0 794.93 L986.0 794.93 L987.0 794.93 L988.0 794.93 L989.0 794.93 L990.0 794.93 L991.0 794.93 L992.0 794.93 L993.0 794.93 L994.0 794.93 L995.0 794.93 L996.0 794.93 L997.0 794.93 L998.0 794.93 L999.0 794.93 L1000.0 794.93 L1001.0 794.93 L1002.0 794.93 L1003.0 794.93 L1004.0 794.93 L1005.0 794.93 L1006.0 794.93 L1007.0 794.93 L1008.0 794.93 L1009.0 794.93 L1010.0 794.93 L1011.0 794.93 L1012.0 794.93 L1013.0 794.93 L1014.0 794.93 L1015.0 794.93 L1016.0 794.93 L1017.0 794.93 L1018.0 794.93 L1019.0 794.93 L1020.0 794.93 L1021.0 794.93 L1022.0 794.93 L1023.0 794.93 L1024.0 794.93 L1025.0 794.93 L1026.0 794.93 L1027.0 794.93 L1028.0 794.93 L1029.0 794.93 L1030.0 794.93 L1031.0 794.93 L1032.0 794.93 L1033.0 794.93 L1034.0 794.93 L1035.0 794.93 L1036.0 794.93 L1037.0 794.93 L1038.0 794.93 L1039.0 794.93 L1040.0 794.93 L1041.0 794.93 L1042.0 794.93 L1043.0 794.93 L1044.0 794.93 L1045.0 794.93 L1046.0 794.93 L1047.0 794.93 L1048.0 794.93 L1049.0 794.93 L1050.0 794.93 L1051.0 794.93 L1052.0 794.93 L1053.0 794.93 L1054.0 794.93 L1055.0 794.93 L1056.0 794.93 L1057.0 794.93 L1058.0 794.93 L1059.0 794.93 L1060.0 794.93 L1061.0 794.93 L1062.0 794.93 L1063.0 794.93 L1064.0 794.93 L1065.0 794.93 L1066.0 794.93 L1067.0 794.93 L1068.0 794.93 L1069.0 794.93 L1070.0 794.93 L1071.0 794.93 L1072.0 794.93 L1073.0 794.93 L1074.0 794.93 L1075.0 794.93 L1076.0 794.93 L1077.0 794.93 L1078.0 794.93 L1079.0 794.93 L1080.0 794.93 L1081.0 794.93 L1082.0 794.93 L1083.0 794.93 L1084.0 794.93 L1085.0 794.93 L1086.0 794.93 L1087.0 794.93 L1088.0 794.93 L1089.0 794.93 L1090.0 794.93 L1091.0 794.93 L1092.0 794.93 L1093.0 794.93 L1094.0 794.93 L1095.0 794.93 L1096.0 794.93 L1097.0 794.93 L1098.0 794.93 L1099.0 794.93 L1100.0 794.93 L1101.0 794.93 L1102.0 794.93 L1103.0 794.93 L1104.0 794.93 L1105.0 794.93 L1106.0 794.93 L1107.0 794.93 L1108.0 794.93 L1109.0 794.93 L1110.0 794.93 L1111.0 794.93 L1112.0 794.93 L1113.0 794.93 L1114.0 794.93 L1115.0 794.93 L1116.0 794.93 L1117.0 794.93 L1118.0 794.93 L1119.0 794.93 L1120.0 794.93 L1121.0 794.93 L1122.0 794.93 L1123.0 794.93 L1124.0 794.93 L1125.0 794.93 L1126.0 794.93 L1127.0 794.93 L1128.0 794.93 L1129.0 794.93 L1130.0 794.93 L1131.0 794.93 L1132.0 794.93 L1133.0 794.93 L1134.0 794.93 L1135.0 794.93 L1136.0 794.93 L1137.0 794.93 L1138.0 794.93 L1139.0 794.93 L1140.0 794.93"/>
<path clip-path="url(#cr)" stroke="#ff0000" d="M1150.0 794.93 L1151.0 794.93 L1152.0 794.93 L1153.0 794.93 L1154.0 794.93 L1155.0 794.93 L1156.0 794.93 L1157.0 794.93 L1158.0 794.93 L1159.0 794.93 L1160.0 794.93 L1161.0 794.93 L1162.0 794.93 L1163.0 794.93 L1164.0 794.93 L1165.0 794.93 L1166.0 794.93 L1167.0 794.93 L1168.0 794.93 L1169.0 794.93 L1170.0 794.93 L1171.0 794.93 L1172.0 794.93 L1173.0 794.93 L1174.0 794.93 L1175.0 794.93 L1176.0 794.93 L1177.0 794.93 L1178.0 794.93 L1179.0 794.93 L1180.0 794.93 L1181.0 794.93 L1182.0 794.93 L1183.0 794.93 L1184.0 794.93 L1185.0 794.93 L1186.0 794.93 L1187.0 794.93 L1188.0 794.93 L1189.0 794.93 L1190.0 794.93 L1191.0 794.93 L1192.0 794.93 L1193.0 794.93 L1194.0 794.93 L1195.0 794.93 L1196.0 794.93 L1197.0 794.93 L1198.0 794.93 L1199.0 794.93 L1200.0 794.93 L1201.0 794.93 L1202.0 794.93 L1203.0 794.93 L1204.0 794.93 L1205.0 794.93 L1206.0 794.93 L1207.0 794.93 L1208.0 794.93 L1209.0 794.93 L1210.0 794.93 L1211.0 794.93 L1212.0 794.93 L1213.0 794.93 L1214.0 794.93 L1215.0 794.93 L1216.0 794.93 L1217.0 794.93 L1218.0 794.93 L1219.0 794.93 L1220.0 794.93 L1221.0 794.93 L1222.0 794.93 L1223.0 794.93 L1224.0 794.93 L1225.0 794.93 L1226.0 794.93 L1227.0 794.93 L1228.0 794.93 L1229.0 794.93 L1230.0 794.93 L1231.0 794.93 L1232.0 794.93 L1233.0 794.93 L1234.0 794.93 L1235.0 794.93 L1236.0 794.93 L1237.0 794.93 L1238.0 794.93 L1239.0 794.93 L1240.0 794.93 L1241.0 794.93 L1242.0 794.93 L1243.0 794.93 L1244.0 794.93 L1245.0 794.93 L1246.0 794.93 L1247.0 794.93 L1248.0 794.93 L1249.0 794.93 L1250.0 794.93 L1251.0 794.93 L1252.0 794.93 L1253.0 794.93 L1254.0 794.93 L1255.0 794.93 L1256.0 794.93 L1257.0 794.93 L1258.0 794.93 L1259.0 794.93 L1260.0 794.93 L1261.0 794.93 L1262.0 794.93 L1263.0 794.93 L1264.0 794.93 L1265.0 794.93 L1266.0 794.93 L1267.0 794.93 L1268.0 794.93 L1269.0 794.93 L1270.0 794.93 L1271.0 794.93 L1272.0 794.93 L1273.0 794.93 L1274.0 794.93 L1275.0 794.93 L1276.0 794.93 L1277.0 794.93 L1278.0 794.93 L1279.0 794.93 L1280.0 794.93 L1281.0 794.93 L1282.0 794.93 L1283.0 794.93 L1284.0 794.93 L1285.0 794.93 L1286.0 794.93 L1287.0 794.93 L1288.0 794.93 L1289.0 794.93 L1290.0 794.93 L1291.0 794.93 L1292.0 794.93 L1293.0 794.93 L1294.0 794.93 L1295.0 794.93 L1296.0 794.93 L1297.0 794.93 L1298.0 794.93 L1299.0 794.93 L1300.0 794.93 L1301.0 794.93 L1302.0 794.93 L1303.0 794.93 L1304.0 794.93 L1305.0 794.93 L1306.0 794.93 L1307.0 794.93 L1308.0 794.93 L1309.0 794.93 L1310.0 794.93 L1311.0 794.93 L1312.0 794.93 L1313.0 794.93 L1314.0 794.93 L1315.0 794.93 L1316.0 794.93 L1317.0 794.93 L1318.0 794.93 L1319.0 794.93 L1320.0 794.93 L1321.0 794.93 L1322.0 794.93 L1323.0 794.93 L1324.0 794.93 L1325.0 794.93 L1326.0 794.93 L1327.0 794.93 L1328.0 794.93 L1329.0 794.93 L1330.0 794.93 L1331.0 794.93 L1332.0 794.93 L1333.0 794.93 L1334.0 794.93 L1335.0 794.93 L1336.0 794.93 L1337.0 794.93 L1338.0 794.93 L1339.0 794.93 L1340.0 794.93 L1341.0 794.93 L1342.0 794.93 L1343.0 794.93 L1344.0 794.93 L1345.0 794.93 L1346.0 794.93 L1347.0 794.93 L1348.0 794.93 L1349.0 794.93 L1350.0 794.93 L1351.0 794.93 L1352.0 794.93 L1353.0 794.93 L1354.0 794.93 L1355.0 794.93 L1356.0 794.93 L1357.0 794.93 L1358.0 794.93 L1359.0 794.93 L1360.0 794.93 L1361.0 794.93 L1362.0 794.93 L1363.0 794.93 L1364.0 794.93 L1365.0 794.93 L1366.0 794.93 L1367.0 794.93 L1368.0 794.93 L1369.0 794.93 L1370.0 794.93 L1371.0 794.93 L1372.0 794.93 L1373.0 794.93 L1374.0 794.93 L1375.0 794.93 L1376.0 794.93 L1377.0 794.93 L1378.0 794.93 L1379.0 794.93 L1380.0 794.93 L1381.0 794.93 L1382.0 794.93 L1383.0 794.93 L1384.0 794.93 L1385.0 794.93 L1386.0 794.93 L1387.0 794.93 L1388.0 794.93 L1389.0 794.93 L1390.0 794.93 L1391.0 794.93 L1392.0 794.93 L1393.0 794.93 L1394.0 794.93 L1395.0 794.93 L1396.0 794.93 L1397.0 794.93 L1398.0 794.93 L1399.0 794.93 L1400.0 794.93 L1401.0 794.93 L1402.0 794.93 L1403.0 794.93 L1404.0 794.93 L1405.0 794.93 L1406.0 794.93 L1407.0 794.93 L1408.0 794.93 L1409.0 794.93 L1410.0 794.93 L1411.0 794.93 L1412.0 794.93 L1413.0 794.93 L1414.0 794.93 L1415.0 794.93 L1416.0 794.93 L1417.0 794.93 L1418.0 794.93 L1419.0 794.93 L1420.0 794.93 L1421.0 794.93 L1422.0 794.93 L1423.0 794.93 L1424.0 794.93 L1425.0 794.93 L1426.0 794.93 L1427.0 794.93 L1428.0 794.93 L1429.0 794.93 L1430.0 794.93 L1431.0 794.93 L1432.0 794.93 L1433.0 794.93 L1434.0 794.93 L1435.0 794.93 L1436.0 794.93 L1437.0 794.93 L1438.0 794.93 L1439.0 794.93 L1440.0 794.93 L1441.0 794.93 L1442.0 794.93 L1443.0 794.93 L1444.0 794.93 L1445.0 794.93 L1446.0 794.93 L1447.0 794.93 L1448.0 794.93 L1449.0 794.93 L1450.0 794.93 L1451.0 794.93 L1452.0 794.93 L1453.0 794.93 L1454.0 794.93 L1455.0 794.93 L1456.0 794.93 L1457.0 794.93 L1458.0 794.93 L1459.0 794.93 L1460.0 794.93 L1461.0 794.93 L1462.0 794.93 L1463.0 794.93 L1464.0 794.93 L1465.0 794.93 L1466.0 794.93 L1467.0 794.93 L1468.0 794.93 L1469.0 794.93 L1470.0 794.93 L1471.0 794.93 L1472.0 794.93 L1473.0 794.93 L1474.0 794.93 L1475.0 794.93 L1476.0 794.93 L1477.0 794.93 L1478.0 794.93 L1479.0 794.93 L1480.0 794.93 L1481.0 794.93 L1482.0 794.93 L1483.0 794.93 L1484.0 794.93 L1485.0 794.93 L1486.0 794.93 L1487.0 794.93 L1488.0 794.93 L1489.0 794.93 L1490.0 794.93 L1491.0 794.93 L1492.0 794.93 L1493.0 794.93 L1494.0 794.93 L1495.0 794.93 L1496.0 794.93 L1497.0 794.93 L1498.0 794.93 L1499.0 794.93 L1500.0 794.93 L1501.0 794.93 L1502.0 794.93 L1503.0 794.93 L1504.0 794.93 L1505.0 794.93 L1506.0 794.93 L1507.0 794.93 L1508.0 794.93 L1509.0 794.93 L1510.0 794.93 L1511.0 794.93 L1512.0 794.93 L1513.0 794.93 L1514.0 794.93 L1515.0 794.93 L1516.0 794.93 L1517.0 794.93 L1518.0 794.93 L1519.0 794.93 L1520.0 794.93 L1521.0 794.93 L1522.0 794.93 L1523.0 794.93 L1524.0 794.93 L1525.0 794.93 L1526.0 794.93 L1527.0 794.93 L1528.0 794.93 L1529.0 794.93 L1530.0 794.93 L1531.0 794.93 L1532.0 794.93 L1533.0 794.93 L1534.0 794.93 L1535.0 794.93 L1536.0 794.93 L1537.0 794.93 L1538.0 794.93 L1539.0 794.93 L1540.0 794.93 L1541.0 794.93 L1542.0 794.93 L1543.0 794.93 L1544.0 794.93 L1545.0 794.93 L1546.0 794.93 L1547.0 794.93 L1548.0 794.93 L1549.0 794.93 L1550.0 794.93 L1551.0 794.93 L1552.0 794.93 L1553.0 794.93 L1554.0 794.93 L1555.0 794.93 L1556.0 794.93 L1557.0 794.93 L1558.0 794.93 L1559.0 794.93 L1560.0 794.93 L1561.0 794.93 L1562.0 794.93 L1563.0 794.93 L1564.0 794.93 L1565.0 794.93 L1566.0 794.93 L1567.0 794.93 L1568.0 794.93 L1569.0 794.93 L1570.0 794.93 L1571.0 794.93 L1572.0 794.93 L1573.0 794.93 L1574.0 794.93 L1575.0 794.93 L1576.0 794.93 L1577.0 794.93 L1578.0 794.93 L1579.0 794.93 L1580.0 794.93 L1581.0 794.93 L1582.0 794.93 L1583.0 794.93 L1584.0 794.93 L1585.0 794.93 L1586.0 794.93 L1587.0 794.93 L1588.0 794.93 L1589.0 794.93 L1590.0 794.93 L1591.0 794.93 L1592.0 794.93 L1593.0 794.93 L1594.0 794.93 L1595.0 794.93 L1596.0 794.93 L1597.0 794.93 L1598.0 794.93 L1599.0 794.93 L1600.0 794.93 L1601.0 794.93 L1602.0 794.93 L1603.0 794.93 L1604.0 794.93 L1605.0 794.93 L1606.0 794.93 L1607.0 794.93 L1608.0 794.93 L1609.0 794.93 L1610.0 794.93 L1611.0 794.93 L1612.0 794.93 L1613.0 794.93 L1614.0 794.93 L1615.0 794.93 L1616.0 794.93 L1617.0 794.93 L1618.0 794.93 L1619.0 794.93 L1620.0 794.93 L1621.0 794.93 L1622.0 794.93 L1623.0 794.93 L1624.0 794.93 L1625.0 794.93 L1626.0 794.93 L1627.0 794.93 L1628.0 794.93 L1629.0 794.93 L1630.0 794.93 L1631.0 794.93 L1632.0 794.93 L1633.0 794.93 L1634.0 794.93 L1635.0 794.93 L1636.0 794.93 L1637.0 794.93 L1638.0 794.93 L1639.0 794.93 L1640.0 794.93 L1641.0 794.93 L1642.0 794.93 L1643.0 794.93 L1644.0 794.93 L1645.0 794.93 L1646.0 794.93 L1647.0 794.93 L1648.0 794.93 L1649.0 794.93 L1650.0 794.93 L1651.0 794.93 L1652.0 794.93 L1653.0 794.93 L1654.0 794.93 L1655.0 794.93 L1656.0 794.93 L1657.0 794.93 L1658.0 794.93 L1659.0 794.93 L1660.0 794.93 L1661.0 794.93 L1662.0 794.93 L1663.0 794.93 L1664.0 794.93 L1665.0 794.93 L1666.0 794.93 L1667.0 794.93 L1668.0 794.93 L1669.0 794.93 L1670.0 794.93 L1671.0 794.93 L1672.0 794.93 L1673.0 794.93 L1674.0 794.93 L1675.0 794.93 L1676.0 794.93 L1677.0 794.93 L1678.0 794.93 L1679.0 794.93 L1680.0 794.93 L1681.0 794.93 L1682.0 794.93 L1683.0 794.93 L1684.0 794.93 L1685.0 794.93 L1686.0 794.93 L1687.0 794.93 L1688.0 794.93 L1689.0 794.93 L1690.0 794.93 L1691.0 794.93 L1692.0 794.93 L1693.0 794.93 L1694.0 794.93 L1695.0 794.93 L1696.0 794.93 L1697.0 794.93 L1698.0 794.93 L1699.0 794.93 L1700.0 794.93 L1701.0 794.93 L1702.0 794.93 L1703.0 794.93 L1704.0 794.93 L1705.0 794.93 L1706.0 794.93 L1707.0 794.93 L1708.0 794.93 L1709.0 794.93 L1710.0 794.93 L1711.0 794.93 L1712.0 794.93 L1713.0 794.93 L1714.0 794.93 L1715.0 794.93 L1716.0 794.93 L1717.0 794.93 L1718.0 794.93 L1719.0 794.93 L1720.0 794.93 L1721.0 794.93 L1722.0 794.93 L1723.0 794.93 L1724.0 794.93 L1725.0 794.93 L1726.0 794.93 L1727.0 794.93 L1728.0 794.93 L1729.0 794.93 L1730.0 794.93 L1731.0 794.93 L1732.0 794.93 L1733.0 794.93 L1734.0 794.93 L1735.0 794.93 L1736.0 794.93 L1737.0 794.93 L1738.0 794.93 L1739.0 794.93 L1740.0 794.93 L1741.0 794.93 L1742.0 794.93 L1743.0 794.93 L1744.0 794.93 L1745.0 794.93 L1746.0 794.93 L1747.0 794.93 L1748.0 794.93 L1749.0 794.93 L1750.0 794.93 L1751.0 794.93 L1752.0 794.93 L1753.0 794.93 L1754.0 794.93 L1755.0 794.93 L1756.0 794.93 L1757.0 794.93 L1758.0 794.93 L1759.0 794.93 L1760.0 794.93 L1761.0 794.93 L1762.0 794.93 L1763.0 794.93 L1764.0 794.93 L1765.0 794.93 L1766.0 794.93 L1767.0 794.93 L1768.0 794.93 L1769.0 794.93 L1770.0 794.93 L1771.0 794.93 L1772.0 794.93 L1773.0 794.93 L1774.0 794.93 L1775.0 794.93 L1776.0 794.93 L1777.0 794.93 L1778.0 794.93 L1779.0 794.93 L1780.0 794.93 L1781.0 794.93 L1782.0 794.93 L1783.0 794.93 L1784.0 794.93 L1785.0 794.93 L1786.0 794.93 L1787.0 794.93 L1788.0 794.93 L1789.0 794.93 L1790.0 794.93 L1791.0 794.93 L1792.0 794.93 L1793.0 794.93 L1794.0 794.93 L1795.0 794.93 L1796.0 794.93 L1797.0 794.93 L1798.0 794.93 L1799.0 794.93 L1800.0 794.93 L1801.0 794.93 L1802.0 794.93 L1803.0 794.93 L1804.0 794.93 L1805.0 794.93 L1806.0 794.93 L1807.0 794.93 L1808.0 794.93 L1809.0 794.93 L1810.0 794.93 L1811.0 794.93 L1812.0 794.93 L1813.0 794.93 L1814.0 794.93 L1815.0 794.93 L1816.0 794.93 L1817.0 794.93 L1818.0 794.93 L1819.0 794.93 L1820.0 794.93 L1821.0 794.93 L1822.0 794.93 L1823.0 794.93 L1824.0 794.93 L1825.0 794.93 L1826.0 794.93 L1827.0 794.93 L1828.0 794.85 L1829.0 794.76 L1830.0 794.68 L1831.0 794.60 L1832.0 794.51 L1833.0 794.43 L1834.0 794.34 L1835.0 794.25 L1836.0 794.17 L1837.0 794.08 L1838.0 793.99 L1839.0 793.91 L1840.0 793.82 L1841.0 793.73 L1842.0 793.64 L1843.0 793.55 L1844.0 793.46 L1845.0 793.38 L1846.0 793.29 L1847.0 793.20 L1848.0 793.10 L1849.0 793.01 L1850.0 792.92 L1851.0 792.83 L1852.0 792.74 L1853.0 792.65 L1854.0 792.55 L1855.0 792.46 L1856.0 792.37 L1857.0 792.27 L1858.0 792.18 L1859.0 792.08 L1860.0 791.99 L1861.0 791.89 L1862.0 791.80 L1863.0 791.70 L1864.0 791.60 L1865.0 791.51 L1866.0 791.41 L1867.0 791.31 L1868.0 791.21 L1869.0 791.11 L1870.0 791.01 L1871.0 790.91 L1872.0 790.81 L1873.0 790.71 L1874.0 790.61 L1875.0 790.51 L1876.0 790.41 L1877.0 790.31 L1878.0 790.21 L1879.0 790.10 L1880.0 790.00 L1881.0 789.90 L1882.0 789.79 L1883.0 789.69 L1884.0 789.58 L1885.0 789.48 L1886.0 789.37 L1887.0 789.26 L1888.0 789.16 L1889.0 789.05 L1890.0 788.94 L1891.0 788.83 L1892.0 788.73 L1893.0 788.62 L1894.0 788.51 L1895.0 788.40 L1896.0 788.29 L1897.0 788.18 L1898.0 788.07 L1899.0 787.95 L1900.0 787.84 L1901.0 787.73 L1902.0 787.62 L1903.0 787.50 L1904.0 787.39 L1905.0 787.27 L1906.0 787.16 L1907.0 787.04 L1908.0 786.93 L1909.0 786.81 L1910.0 786.69 L1911.0 786.58 L1912.0 786.46 L1913.0 786.34 L1914.0 786.22 L1915.0 786.10 L1916.0 785.98 L1917.0 785.86 L1918.0 785.74 L1919.0 785.62 L1920.0 785.50 L1921.0 785.38 L1922.0 785.25 L1923.0 785.13 L1924.0 785.01 L1925.0 784.88 L1926.0 784.76 L1927.0 784.63 L1928.0 784.51 L1929.0 784.38 L1930.0 784.25 L1931.0 784.12 L1932.0 784.00 L1933.0 783.87 L1934.0 783.74 L1935.0 783.61 L1936.0 783.48 L1937.0 783.35 L1938.0 783.22 L1939.0 783.09 L1940.0 782.95 L1941.0 782.82 L1942.0 782.69 L1943.0 782.55 L1944.0 782.42 L1945.0 782.28 L1946.0 782.15 L1947.0 782.01 L1948.0 781.88 L1949.0 781.74 L1950.0 781.60 L1951.0 781.46 L1952.0 781.32 L1953.0 781.18 L1954.0 781.04 L1955.0 780.90 L1956.0 780.76 L1957.0 780.62 L1958.0 780.48 L1959.0 780.34 L1960.0 780.19 L1961.0 780.05 L1962.0 779.90 L1963.0 779.76 L1964.0 779.61 L1965.0 779.47 L1966.0 779.32 L1967.0 779.17 L1968.0 779.02 L1969.0 778.87 L1970.0 778.72 L1971.0 778.57 L1972.0 778.42 L1973.0 778.27 L1974.0 778.12 L1975.0 777.97 L1976.0 777.81 L1977.0 777.66 L1978.0 777.51 L1979.0 777.35 L1980.0 777.19 L1981.0 777.04 L1982.0 776.88 L1983.0 776.72 L1984.0 776.56 L1985.0 776.41"/>
<path clip-path="url(#cl)" stroke="#990000" d="M422.0 857.59 L423.0 857.12 L424.0 856.65 L425.0 856.17 L426.0 855.70 L427.0 855.24 L428.0 854.77 L429.0 854.30 L430.0 853.84 L431.0 853.37 L432.0 852.91 L433.0 852.45 L434.0 851.99 L435.0 851.53 L436.0 851.07 L437.0 850.61 L438.0 850.16 L439.0 849.70 L440.0 849.25 L441.0 848.80 L442.0 848.35 L443.0 847.90 L444.0 847.45 L445.0 847.01 L446.0 846.56 L447.0 846.12 L448.0 845.68 L449.0 845.24 L450.0 844.80 L451.0 844.36 L452.0 843.92 L453.0 843.49 L454.0 843.06 L455.0 842.63 L456.0 842.20 L457.0 841.77 L458.0 841.34 L459.0 840.92 L460.0 840.50 L461.0 840.08 L462.0 839.66 L463.0 839.24 L464.0 838.82 L465.0 838.41 L466.0 838.00 L467.0 837.58 L468.0 837.18 L469.0 836.77 L470.0 836.36 L471.0 835.96 L472.0 835.56 L473.0 835.16 L474.0 834.76 L475.0 834.36 L476.0 833.97 L477.0 833.57 L478.0 833.18 L479.0 832.79 L480.0 832.41 L481.0 832.02 L482.0 831.64 L483.0 831.26 L484.0 830.88 L485.0 830.50 L486.0 830.12 L487.0 829.75 L488.0 829.38 L489.0 829.01 L490.0 828.64 L491.0 828.28 L492.0 827.91 L493.0 827.55 L494.0 827.19 L495.0 826.84 L496.0 826.48 L497.0 826.13 L498.0 825.78 L499.0 825.43 L500.0 825.08 L501.0 824.74 L502.0 824.40 L503.0 824.06 L504.0 823.72 L505.0 823.38 L506.0 823.05 L507.0 822.72 L508.0 822.39 L509.0 822.06 L510.0 821.73 L511.0 821.41 L512.0 821.09 L513.0 820.77 L514.0 820.46 L515.0 820.14 L516.0 819.83 L517.0 819.52 L518.0 819.21 L519.0 818.91 L520.0 818.60 L521.0 818.30 L522.0 818.00 L523.0 817.71 L524.0 817.41 L525.0 817.12 L526.0 816.83 L527.0 816.55 L528.0 816.26 L529.0 815.98 L530.0 815.70 L531.0 815.42 L532.0 815.14 L533.0 814.87 L534.0 814.60 L535.0 814.33 L536.0 814.06 L537.0 813.80 L538.0 813.54 L539.0 813.28 L540.0 813.02 L541.0 812.76 L542.0 812.51 L543.0 812.26 L544.0 812.01 L545.0 811.76 L546.0 811.52 L547.0 811.28 L548.0 811.04 L549.0 810.80 L550.0 810.57 L551.0 810.33 L552.0 810.10 L553.0 809.88 L554.0 809.65 L555.0 809.43 L556.0 809.20 L557.0 808.98 L558.0 808.77 L559.0 808.55 L560.0 808.34 L561.0 808.13 L562.0 807.92 L563.0 807.72 L564.0 807.51 L565.0 807.31 L566.0 807.11 L567.0 806.91 L568.0 806.72 L569.0 806.53 L570.0 806.33 L571.0 806.15 L572.0 805.96 L573.0 805.77 L574.0 805.59 L575.0 805.41 L576.0 805.23 L577.0 805.06 L578.0 804.88 L579.0 804.71 L580.0 804.54 L581.0 804.38 L582.0 804.21 L583.0 804.05 L584.0 803.88 L585.0 803.73 L586.0 803.57 L587.0 803.41 L588.0 803.26 L589.0 803.11 L590.0 802.96 L591.0 802.81 L592.0 802.66 L593.0 802.52 L594.0 802.38 L595.0 802.24 L596.0 802.10 L597.0 801.97 L598.0 801.83 L599.0 801.70 L600.0 801.57 L601.0 801.44 L602.0 801.31 L603.0 801.19 L604.0 801.07 L605.0 800.94 L606.0 800.82 L607.0 800.71 L608.0 800.59 L609.0 800.48 L610.0 800.36 L611.0 800.25 L612.0 800.14 L613.0 800.04 L614.0 799.93 L615.0 799.83 L616.0 799.72 L617.0 799.62 L618.0 799.52 L619.0 799.42 L620.0 799.33 L621.0 799.23 L622.0 799.14 L623.0 799.05 L624.0 798.96 L625.0 798.87 L626.0 798.78 L627.0 798.70 L628.0 798.61 L629.0 798.53 L630.0 798.45 L631.0 798.37 L632.0 798.29 L633.0 798.21 L634.0 798.14 L635.0 798.06 L636.0 797.99 L637.0 797.92 L638.0 797.85 L639.0 797.78 L640.0 797.71 L641.0 797.65 L642.0 797.58 L643.0 797.52 L644.0 797.45 L645.0 797.39 L646.0 797.33 L647.0 797.27 L648.0 797.21 L649.0 797.16 L650.0 797.10 L651.0 797.05 L652.0 796.99 L653.0 796.94 L654.0 796.89 L655.0 796.84 L656.0 796.79 L657.0 796.74 L658.0 796.69 L659.0 796.65 L660.0 796.60 L661.0 796.56 L662.0 796.51 L663.0 796.47 L664.0 796.43 L665.0 796.39 L666.0 796.35 L667.0 796.31 L668.0 796.27 L669.0 796.24 L670.0 796.20 L671.0 796.16 L672.0 796.13 L673.0 796.10 L674.0 796.06 L675.0 796.03 L676.0 796.00 L677.0 795.97 L678.0 795.94 L679.0 795.91 L680.0 795.88 L681.0 795.85 L682.0 795.82 L683.0 795.80 L684.0 795.77 L685.0 795.75 L686.0 795.72 L687.0 795.70 L688.0 795.67 L689.0 795.65 L690.0 795.63 L691.0 795.61 L692.0 795.59 L693.0 795.57 L694.0 795.55 L695.0 795.53 L696.0 795.51 L697.0 795.49 L698.0 795.47 L699.0 795.45 L700.0 795.44 L701.0 795.42 L702.0 795.40 L703.0 795.39 L704.0 795.37 L705.0 795.36 L706.0 795.34 L707.0 795.33 L708.0 795.32 L709.0 795.30 L710.0 795.29 L711.0 795.28 L712.0 795.27 L713.0 795.25 L714.0 795.24 L715.0 795.23 L716.0 795.22 L717.0 795.21 L718.0 795.20 L719.0 795.19 L720.0 795.18 L721.0 795.17 L722.0 795.16 L723.0 795.15 L724.0 795.15 L725.0 795.14 L726.0 795.13 L727.0 795.12 L728.0 795.12 L729.0 795.11 L730.0 795.10 L731.0 795.10 L732.0 795.09 L733.0 795.08 L734.0 795.08 L735.0 795.07 L736.0 795.07 L737.0 795.06 L738.0 795.06 L739.0 795.05 L740.0 795.05 L741.0 795.04 L742.0 795.04 L743.0 795.03 L744.0 795.03 L745.0 795.02 L746.0 795.02 L747.0 795.02 L748.0 795.01 L749.0 795.01 L750.0 795.01 L751.0 795.00 L752.0 795.00 L753.0 795.00 L754.0 794.99 L755.0 794.99 L756.0 794.99 L757.0 794.99 L758.0 794.98 L759.0 794.98 L760.0 794.98 L761.0 794.98 L762.0 794.97 L763.0 794.97 L764.0 794.97 L765.0 794.97 L766.0 794.97 L767.0 794.97 L768.0 794.96 L769.0 794.96 L770.0 794.96 L771.0 794.96 L772.0 794.96 L773.0 794.96 L774.0 794.96 L775.0 794.95 L776.0 794.95 L777.0 794.95 L778.0 794.95 L779.0 794.95 L780.0 794.95 L781.0 794.95 L782.0 794.95 L783.0 794.95 L784.0 794.95 L785.0 794.94 L786.0 794.94 L787.0 794.94 L788.0 794.94 L789.0 794.94 L790.0 794.94 L791.0 794.94 L792.0 794.94 L793.0 794.94 L794.0 794.94 L795.0 794.94 L796.0 794.94 L797.0 794.94 L798.0 794.94 L799.0 794.94 L800.0 794.94 L801.0 794.94 L802.0 794.94 L803.0 794.94 L804.0 794.94 L805.0 794.93 L806.0 794.93 L807.0 794.93 L808.0 794.93 L809.0 794.93 L810.0 794.93 L811.0 794.93 L812.0 794.93 L813.0 794.93 L814.0 794.93 L815.0 794.93 L816.0 794.93 L817.0 794.93 L818.0 794.93 L819.0 794.93 L820.0 794.93 L821.0 794.93 L822.0 794.93 L823.0 794.93 L824.0 794.93 L825.0 794.93 L826.0 794.93 L827.0 794.93 L828.0 794.93 L829.0 794.93 L830.0 794.93 L831.0 794.93 L832.0 794.93 L833.0 794.93 L834.0 794.93 L835.0 794.93 L836.0 794.93 L837.0 794.93 L838.0 794.93 L839.0 794.93 L840.0 794.93 L841.0 794.93 L842.0 794.93 L843.0 794.93 L844.0 794.93 L845.0 794.93 L846.0 794.93 L847.0 794.93 L848.0 794.93 L849.0 794.93 L850.0 794.93 L851.0 794.93 L852.0 794.93 L853.0 794.93 L854.0 794.93 L855.0 794.93 L856.0 794.93 L857.0 794.93 L858.0 794.93 L859.0 794.93 L860.0 794.93 L861.0 794.93 L862.0 794.93 L863.0 794.93 L864.0 794.93 L865.0 794.93 L866.0 794.93 L867.0 794.93 L868.0 794.93 L869.0 794.93 L870.0 794.93 L871.0 794.93 L872.0 794.93 L873.0 794.93 L874.0 794.93 L875.0 794.93 L876.0 794.93 L877.0 794.93 L878.0 794.93 L879.0 794.93 L880.0 794.93 L881.0 794.93 L882.0 794.93 L883.0 794.93 L884.0 794.93 L885.0 794.93 L886.0 794.93 L887.0 794.93 L888.0 794.93 L889.0 794.93 L890.0 794.93 L891.0 794.93 L892.0 794.93 L893.0 794.93 L894.0 794.93 L895.0 794.93 L896.0 794.93 L897.0 794.93 L898.0 794.93 L899.0 794.93 L900.0 794.93 L901.0 794.93 L902.0 794.93 L903.0 794.93 L904.0 794.93 L905.0 794.93 L906.0 794.93 L907.0 794.93 L908.0 794.93 L909.0 794.93 L910.0 794.93 L911.0 794.93 L912.0 794.93 L913.0 794.93 L914.0 794.93 L915.0 794.93 L916.0 794.93 L917.0 794.93 L918.0 794.93 L919.0 794.93 L920.0 794.93 L921.0 794.93 L922.0 794.93 L923.0 794.93 L924.0 794.93 L925.0 794.93 L926.0 794.93 L927.0 794.93 L928.0 794.93 L929.0 794.93 L930.0 794.93 L931.0 794.93 L932.0 794.93 L933.0 794.93 L934.0 794.93 L935.0 794.93 L936.0 794.93 L937.0 794.93 L938.0 794.93 L939.0 794.93 L940.0 794.93 L941.0 794.93 L942.0 794.93 L943.0 794.93 L944.0 794.93 L945.0 794.93 L946.0 794.93 L947.0 794.93 L948.0 794.93 L949.0 794.93 L950.0 794.93 L951.0 794.93 L952.0 794.93 L953.0 794.93 L954.0 794.93 L955.0 794.93 L956.0 794.93 L957.0 794.93 L958.0 794.93 L959.0 794.93 L960.0 794.93 L961.0 794.93 L962.0 794.93 L963.0 794.93 L964.0 794.93 L965.0 794.93 L966.0 794.93 L967.0 794.93 L968.0 794.93 L969.0 794.93 L970.0 794.93 L971.0 794.93 L972.0 794.93 L973.0 794.93 L974.0 794.93 L975.0 794.93 L976.0 794.93 L977.0 794.93 L978.0 794.93 L979.0 794.93 L980.0 794.93 L981.0 794.93 L982.0 794.93 L983.0 794.93 L984.0 794.93 L985.0 794.93 L986.0 794.93 L987.0 794.93 L988.0 794.93 L989.0 794.93 L990.0 794.93 L991.0 794.93 L992.0 794.93 L993.0 794.93 L994.0 794.93 L995.0 794.93 L996.0 794.93 L997.0 794.93 L998.0 794.93 L999.0 794.93 L1000.0 794.93 L1001.0 794.93 L1002.0 794.93 L1003.0 794.93 L1004.0 794.93 L1005.0 794.93 L1006.0 794.93 L1007.0 794.93 L1008.0 794.93 L1009.0 794.93 L1010.0 794.93 L1011.0 794.93 L1012.0 794.93 L1013.0 794.93 L1014.0 794.93 L1015.0 794.93 L1016.0 794.93 L1017.0 794.93 L1018.0 794.93 L1019.0 794.93 L1020.0 794.93 L1021.0 794.93 L1022.0 794.93 L1023.0 794.93 L1024.0 794.93 L1025.0 794.93 L1026.0 794.93 L1027.0 794.93 L1028.0 794.93 L1029.0 794.93 L1030.0 794.93 L1031.0 794.93 L1032.0 794.93 L1033.0 794.93 L1034.0 794.93 L1035.0 794.93 L1036.0 794.93 L1037.0 794.93 L1038.0 794.93 L1039.0 794.93 L1040.0 794.93 L1041.0 794.93 L1042.0 794.93 L1043.0 794.93 L1044.0 794.93 L1045.0 794.93 L1046.0 794.93 L1047.0 794.93 L1048.0 794.93 L1049.0 794.93 L1050.0 794.93 L1051.0 794.93 L1052.0 794.93 L1053.0 794.93 L1054.0 794.93 L1055.0 794.93 L1056.0 794.93 L1057.0 794.93 L1058.0 794.93 L1059.0 794.93 L1060.0 794.93 L1061.0 794.93 L1062.0 794.93 L1063.0 794.93 L1064.0 794.93 L1065.0 794.93 L1066.0 794.93 L1067.0 794.93 L1068.0 794.93 L1069.0 794.93 L1070.0 794.93 L1071.0 794.93 L1072.0 794.93 L1073.0 794.93 L1074.0 794.93 L1075.0 794.93 L1076.0 794.93 L1077.0 794.93 L1078.0 794.93 L1079.0 794.93 L1080.0 794.93 L1081.0 794.93 L1082.0 794.93 L1083.0 794.93 L1084.0 794.93 L1085.0 794.93 L1086.0 794.93 L1087.0 794.93 L1088.0 794.93 L1089.0 794.93 L1090.0 794.93 L1091.0 794.93 L1092.0 794.93 L1093.0 794.93 L1094.0 794.93 L1095.0 794.93 L1096.0 794.93 L1097.0 794.93 L1098.0 794.93 L1099.0 794.93 L1100.0 794.93 L1101.0 794.93 L1102.0 794.93 L1103.0 794.93 L1104.0 794.93 L1105.0 794.93 L1106.0 794.93 L1107.0 794.93 L1108.0 794.93 L1109.0 794.93 L1110.0 794.93 L1111.0 794.93 L1112.0 794.93 L1113.0 794.93 L1114.0 794.93 L1115.0 794.93 L1116.0 794.93 L1117.0 794.93 L1118.0 794.93 L1119.0 794.93 L1120.0 794.93 L1121.0 794.93 L1122.0 794.93 L1123.0 794.93 L1124.0 794.93 L1125.0 794.93 L1126.0 794.93 L1127.0 794.93 L1128.0 794.93 L1129.0 794.93 L1130.0 794.93 L1131.0 794.93 L1132.0 794.93 L1133.0 794.93 L1134.0 794.93 L1135.0 794.93 L1136.0 794.93 L1137.0 794.93 L1138.0 794.93 L1139.0 794.93 L1140.0 794.93"/>
<path clip-path="url(#cr)" stroke="#990000" d="M1150.0 794.93 L1151.0 794.93 L1152.0 794.93 L1153.0 794.93 L1154.0 794.93 L1155.0 794.93 L1156.0 794.93 L1157.0 794.93 L1158.0 794.93 L1159.0 794.93 L1160.0 794.93 L1161.0 794.93 L1162.0 794.93 L1163.0 794.93 L1164.0 794.93 L1165.0 794.93 L1166.0 794.93 L1167.0 794.93 L1168.0 794.93 L1169.0 794.93 L1170.0 794.93 L1171.0 794.93 L1172.0 794.93 L1173.0 794.93 L1174.0 794.93 L1175.0 794.93 L1176.0 794.93 L1177.0 794.93 L1178.0 794.93 L1179.0 794.93 L1180.0 794.93 L1181.0 794.93 L1182.0 794.93 L1183.0 794.93 L1184.0 794.93 L1185.0 794.93 L1186.0 794.93 L1187.0 794.93 L1188.0 794.93 L1189.0 794.93 L1190.0 794.93 L1191.0 794.93 L1192.0 794.93 L1193.0 794.93 L1194.0 794.93 L1195.0 794.93 L1196.0 794.93 L1197.0 794.93 L1198.0 794.93 L1199.0 794.93 L1200.0 794.93 L1201.0 794.93 L1202.0 794.93 L1203.0 794.93 L1204.0 794.93 L1205.0 794.93 L1206.0 794.93 L1207.0 794.93 L1208.0 794.93 L1209.0 794.93 L1210.0 794.93 L1211.0 794.93 L1212.0 794.93 L1213.0 794.93 L1214.0 794.93 L1215.0 794.93 L1216.0 794.93 L1217.0 794.93 L1218.0 794.93 L1219.0 794.93 L1220.0 794.93 L1221.0 794.93 L1222.0 794.93 L1223.0 794.93 L1224.0 794.93 L1225.0 794.93 L1226.0 794.93 L1227.0 794.93 L1228.0 794.93 L1229.0 794.93 L1230.0 794.93 L1231.0 794.93 L1232.0 794.93 L1233.0 794.93 L1234.0 794.93 L1235.0 794.93 L1236.0 794.93 L1237.0 794.93 L1238.0 794.93 L1239.0 794.93 L1240.0 794.93 L1241.0 794.93 L1242.0 794.93 L1243.0 794.93 L1244.0 794.93 L1245.0 794.93 L1246.0 794.93 L1247.0 794.93 L1248.0 794.93 L1249.0 794.93 L1250.0 794.93 L1251.0 794.93 L1252.0 794.93 L1253.0 794.93 L1254.0 794.93 L1255.0 794.93 L1256.0 794.93 L1257.0 794.93 L1258.0 794.93 L1259.0 794.93 L1260.0 794.93 L1261.0 794.93 L1262.0 794.93 L1263.0 794.93 L1264.0 794.93 L1265.0 794.93 L1266.0 794.93 L1267.0 794.93 L1268.0 794.93 L1269.0 794.93 L1270.0 794.93 L1271.0 794.93 L1272.0 794.93 L1273.0 794.93 L1274.0 794.93 L1275.0 794.93 L1276.0 794.93 L1277.0 794.93 L1278.0 794.93 L1279.0 794.93 L1280.0 794.93 L1281.0 794.93 L1282.0 794.93 L1283.0 794.93 L1284.0 794.93 L1285.0 794.93 L1286.0 794.93 L1287.0 794.93 L1288.0 794.93 L1289.0 794.93 L1290.0 794.93 L1291.0 794.93 L1292.0 794.93 L1293.0 794.93 L1294.0 794.93 L1295.0 794.93 L1296.0 794.93 L1297.0 794.93 L1298.0 794.93 L1299.0 794.93 L1300.0 794.93 L1301.0 794.93 L1302.0 794.93 L1303.0 794.93 L1304.0 794.93 L1305.0 794.93 L1306.0 794.93 L1307.0 794.93 L1308.0 794.93 L1309.0 794.93 L1310.0 794.93 L1311.0 794.93 L1312.0 794.93 L1313.0 794.93 L1314.0 794.93 L1315.0 794.93 L1316.0 794.93 L1317.0 794.93 L1318.0 794.93 L1319.0 794.93 L1320.0 794.93 L1321.0 794.93 L1322.0 794.93 L1323.0 794.93 L1324.0 794.93 L1325.0 794.93 L1326.0 794.93 L1327.0 794.93 L1328.0 794.93 L1329.0 794.93 L1330.0 794.93 L1331.0 794.93 L1332.0 794.93 L1333.0 794.93 L1334.0 794.93 L1335.0 794.93 L1336.0 794.93 L1337.0 794.93 L1338.0 794.93 L1339.0 794.93 L1340.0 794.93 L1341.0 794.93 L1342.0 794.93 L1343.0 794.93 L1344.0 794.93 L1345.0 794.93 L1346.0 794.93 L1347.0 794.93 L1348.0 794.93 L1349.0 794.93 L1350.0 794.93 L1351.0 794.93 L1352.0 794.93 L1353.0 794.93 L1354.0 794.93 L1355.0 794.93 L1356.0 794.93 L1357.0 794.93 L1358.0 794.93 L1359.0 794.93 L1360.0 794.93 L1361.0 794.93 L1362.0 794.93 L1363.0 794.93 L1364.0 794.93 L1365.0 794.93 L1366.0 794.93 L1367.0 794.93 L1368.0 794.93 L1369.0 794.93 L1370.0 794.93 L1371.0 794.93 L1372.0 794.93 L1373.0 794.93 L1374.0 794.93 L1375.0 794.93 L1376.0 794.93 L1377.0 794.93 L1378.0 794.93 L1379.0 794.93 L1380.0 794.93 L1381.0 794.93 L1382.0 794.93 L1383.0 794.93 L1384.0 794.93 L1385.0 794.93 L1386.0 794.93 L1387.0 794.93 L1388.0 794.93 L1389.0 794.93 L1390.0 794.93 L1391.0 794.93 L1392.0 794.93 L1393.0 794.93 L1394.0 794.93 L1395.0 794.93 L1396.0 794.93 L1397.0 794.93 L1398.0 794.93 L1399.0 794.93 L1400.0 794.93 L1401.0 794.93 L1402.0 794.93 L1403.0 794.93 L1404.0 794.93 L1405.0 794.93 L1406.0 794.93 L1407.0 794.93 L1408.0 794.93 L1409.0 794.93 L1410.0 794.93 L1411.0 794.93 L1412.0 794.93 L1413.0 794.93 L1414.0 794.93 L1415.0 794.93 L1416.0 794.93 L1417.0 794.93 L1418.0 794.93 L1419.0 794.93 L1420.0 794.93 L1421.0 794.93 L1422.0 794.93 L1423.0 794.93 L1424.0 794.93 L1425.0 794.93 L1426.0 794.93 L1427.0 794.93 L1428.0 794.93 L1429.0 794.93 L1430.0 794.93 L1431.0 794.93 L1432.0 794.93 L1433.0 794.93 L1434.0 794.93 L1435.0 794.93 L1436.0 794.93 L1437.0 794.93 L1438.0 794.93 L1439.0 794.93 L1440.0 794.93 L1441.0 794.93 L1442.0 794.93 L1443.0 794.93 L1444.0 794.93 L1445.0 794.93 L1446.0 794.93 L1447.0 794.93 L1448.0 794.93 L1449.0 794.93 L1450.0 794.93 L1451.0 794.93 L1452.0 794.93 L1453.0 794.93 L1454.0 794.93 L1455.0 794.93 L1456.0 794.93 L1457.0 794.93 L1458.0 794.93 L1459.0 794.93 L1460.0 794.93 L1461.0 794.93 L1462.0 794.93 L1463.0 794.93 L1464.0 794.93 L1465.0 794.93 L1466.0 794.93 L1467.0 794.93 L1468.0 794.93 L1469.0 794.93 L1470.0 794.93 L1471.0 794.93 L1472.0 794.93 L1473.0 794.93 L1474.0 794.93 L1475.0 794.93 L1476.0 794.93 L1477.0 794.93 L1478.0 794.93 L1479.0 794.93 L1480.0 794.93 L1481.0 794.93 L1482.0 794.93 L1483.0 794.93 L1484.0 794.93 L1485.0 794.93 L1486.0 794.93 L1487.0 794.93 L1488.0 794.93 L1489.0 794.93 L1490.0 794.93 L1491.0 794.93 L1492.0 794.93 L1493.0 794.93 L1494.0 794.93 L1495.0 794.93 L1496.0 794.93 L1497.0 794.93 L1498.0 794.93 L1499.0 794.93 L1500.0 794.93 L1501.0 794.93 L1502.0 794.93 L1503.0 794.93 L1504.0 794.93 L1505.0 794.93 L1506.0 794.93 L1507.0 794.93 L1508.0 794.93 L1509.0 794.93 L1510.0 794.93 L1511.0 794.93 L1512.0 794.93 L1513.0 794.93 L1514.0 794.93 L1515.0 794.93 L1516.0 794.93 L1517.0 794.93 L1518.0 794.93 L1519.0 794.93 L1520.0 794.93 L1521.0 794.93 L1522.0 794.93 L1523.0 794.93 L1524.0 794.93 L1525.0 794.93 L1526.0 794.93 L1527.0 794.93 L1528.0 794.93 L1529.0 794.93 L1530.0 794.93 L1531.0 794.93 L1532.0 794.93 L1533.0 794.93 L1534.0 794.93 L1535.0 794.93 L1536.0 794.93 L1537.0 794.93 L1538.0 794.93 L1539.0 794.93 L1540.0 794.93 L1541.0 794.93 L1542.0 794.93 L1543.0 794.93 L1544.0 794.93 L1545.0 794.93 L1546.0 794.93 L1547.0 794.93 L1548.0 794.93 L1549.0 794.93 L1550.0 794.93 L1551.0 794.93 L1552.0 794.93 L1553.0 794.93 L1554.0 794.93 L1555.0 794.93 L1556.0 794.93 L1557.0 794.93 L1558.0 794.93 L1559.0 794.93 L1560.0 794.93 L1561.0 794.93 L1562.0 794.93 L1563.0 794.93 L1564.0 794.93 L1565.0 794.93 L1566.0 794.93 L1567.0 794.93 L1568.0 794.93 L1569.0 794.93 L1570.0 794.93 L1571.0 794.93 L1572.0 794.93 L1573.0 794.93 L1574.0 794.93 L1575.0 794.93 L1576.0 794.93 L1577.0 794.93 L1578.0 794.93 L1579.0 794.93 L1580.0 794.93 L1581.0 794.93 L1582.0 794.93 L1583.0 794.93 L1584.0 794.93 L1585.0 794.93 L1586.0 794.93 L1587.0 794.93 L1588.0 794.93 L1589.0 794.93 L1590.0 794.93 L1591.0 794.93 L1592.0 794.93 L1593.0 794.93 L1594.0 794.93 L1595.0 794.93 L1596.0 794.93 L1597.0 794.93 L1598.0 794.93 L1599.0 794.93 L1600.0 794.93 L1601.0 794.93 L1602.0 794.93 L1603.0 794.93 L1604.0 794.93 L1605.0 794.93 L1606.0 794.93 L1607.0 794.93 L1608.0 794.93 L1609.0 794.93 L1610.0 794.93 L1611.0 794.93 L1612.0 794.93 L1613.0 794.93 L1614.0 794.93 L1615.0 794.93 L1616.0 794.93 L1617.0 794.93 L1618.0 794.93 L1619.0 794.93 L1620.0 794.93 L1621.0 794.93 L1622.0 794.93 L1623.0 794.93 L1624.0 794.93 L1625.0 794.93 L1626.0 794.93 L1627.0 794.93 L1628.0 794.93 L1629.0 794.93 L1630.0 794.93 L1631.0 794.93 L1632.0 794.93 L1633.0 794.93 L1634.0 794.93 L1635.0 794.93 L1636.0 794.93 L1637.0 794.93 L1638.0 794.93 L1639.0 794.93 L1640.0 794.93 L1641.0 794.93 L1642.0 794.93 L1643.0 794.93 L1644.0 794.93 L1645.0 794.93 L1646.0 794.93 L1647.0 794.93 L1648.0 794.93 L1649.0 794.93 L1650.0 794.93 L1651.0 794.93 L1652.0 794.93 L1653.0 794.93 L1654.0 794.93 L1655.0 794.93 L1656.0 794.93 L1657.0 794.93 L1658.0 794.93 L1659.0 794.93 L1660.0 794.93 L1661.0 794.93 L1662.0 794.93 L1663.0 794.93 L1664.0 794.93 L1665.0 794.93 L1666.0 794.93 L1667.0 794.93 L1668.0 794.93 L1669.0 794.93 L1670.0 794.93 L1671.0 794.93 L1672.0 794.93 L1673.0 794.93 L1674.0 794.93 L1675.0 794.93 L1676.0 794.93 L1677.0 794.93 L1678.0 794.93 L1679.0 794.93 L1680.0 794.93 L1681.0 794.93 L1682.0 794.93 L1683.0 794.93 L1684.0 794.93 L1685.0 794.93 L1686.0 794.93 L1687.0 794.93 L1688.0 794.93 L1689.0 794.93 L1690.0 794.93 L1691.0 794.93 L1692.0 794.93 L1693.0 794.93 L1694.0 794.93 L1695.0 794.93 L1696.0 794.93 L1697.0 794.93 L1698.0 794.93 L1699.0 794.93 L1700.0 794.93 L1701.0 794.93 L1702.0 794.93 L1703.0 794.93 L1704.0 794.93 L1705.0 794.93 L1706.0 794.93 L1707.0 794.93 L1708.0 794.93 L1709.0 794.93 L1710.0 794.93 L1711.0 794.93 L1712.0 794.93 L1713.0 794.93 L1714.0 794.93 L1715.0 794.93 L1716.0 794.93 L1717.0 794.93 L1718.0 794.93 L1719.0 794.93 L1720.0 794.93 L1721.0 794.93 L1722.0 794.93 L1723.0 794.93 L1724.0 794.93 L1725.0 794.93 L1726.0 794.93 L1727.0 794.93 L1728.0 794.93 L1729.0 794.93 L1730.0 794.93 L1731.0 794.93 L1732.0 794.93 L1733.0 794.93 L1734.0 794.93 L1735.0 794.93 L1736.0 794.93 L1737.0 794.93 L1738.0 794.93 L1739.0 794.93 L1740.0 794.93 L1741.0 794.93 L1742.0 794.93 L1743.0 794.93 L1744.0 794.93 L1745.0 794.93 L1746.0 794.93 L1747.0 794.93 L1748.0 794.93 L1749.0 794.93 L1750.0 794.93 L1751.0 794.93 L1752.0 794.93 L1753.0 794.93 L1754.0 794.93 L1755.0 794.93 L1756.0 794.93 L1757.0 794.93 L1758.0 794.93 L1759.0 794.93 L1760.0 794.93 L1761.0 794.93 L1762.0 794.93 L1763.0 794.93 L1764.0 794.93 L1765.0 794.93 L1766.0 794.93 L1767.0 794.93 L1768.0 794.93 L1769.0 794.93 L1770.0 794.93 L1771.0 794.93 L1772.0 794.93 L1773.0 794.93 L1774.0 794.93 L1775.0 794.93 L1776.0 794.93 L1777.0 794.93 L1778.0 794.93 L1779.0 794.93 L1780.0 794.93 L1781.0 794.93 L1782.0 794.93 L1783.0 794.93 L1784.0 794.93 L1785.0 794.93 L1786.0 794.93 L1787.0 794.93 L1788.0 794.93 L1789.0 794.93 L1790.0 794.93 L1791.0 794.93 L1792.0 794.93 L1793.0 794.93 L1794.0 794.93 L1795.0 794.93 L1796.0 794.93 L1797.0 794.93 L1798.0 794.93 L1799.0 794.93 L1800.0 794.93 L1801.0 794.93 L1802.0 794.93 L1803.0 794.93 L1804.0 794.93 L1805.0 794.93 L1806.0 794.93 L1807.0 794.93 L1808.0 794.93 L1809.0 794.93 L1810.0 794.93 L1811.0 794.93 L1812.0 794.93 L1813.0 794.93 L1814.0 794.93 L1815.0 794.93 L1816.0 794.92 L1817.0 794.87 L1818.0 794.81 L1819.0 794.73 L1820.0 794.65 L1821.0 794.55 L1822.0 794.44 L1823.0 794.32 L1824.0 794.19 L1825.0 794.05 L1826.0 793.91 L1827.0 793.75 L1828.0 793.60 L1829.0 793.43 L1830.0 793.25 L1831.0 793.07 L1832.0 792.89 L1833.0 792.69 L1834.0 792.50 L1835.0 792.29 L1836.0 792.08 L1837.0 791.86 L1838.0 791.64 L1839.0 791.41 L1840.0 791.18 L1841.0 790.94 L1842.0 790.70 L1843.0 790.45 L1844.0 790.20 L1845.0 789.94 L1846.0 789.68 L1847.0 789.41 L1848.0 789.14 L1849.0 788.86 L1850.0 788.58 L1851.0 788.29 L1852.0 788.00 L1853.0 787.70 L1854.0 787.41 L1855.0 787.10 L1856.0 786.79 L1857.0 786.48 L1858.0 786.17 L1859.0 785.84 L1860.0 785.52 L1861.0 785.19 L1862.0 784.86 L1863.0 784.52 L1864.0 784.18 L1865.0 783.84 L1866.0 783.49 L1867.0 783.14 L1868.0 782.78 L1869.0 782.43 L1870.0 782.06 L1871.0 781.70 L1872.0 781.33 L1873.0 780.95 L1874.0 780.57 L1875.0 780.19 L1876.0 779.81 L1877.0 779.42 L1878.0 779.03 L1879.0 778.64 L1880.0 778.24 L1881.0 777.84 L1882.0 777.43 L1883.0 777.02 L1884.0 776.61 L1885.0 776.20 L1886.0 775.78 L1887.0 775.36 L1888.0 774.93 L1889.0 774.50 L1890.0 774.07 L1891.0 773.64 L1892.0 773.20 L1893.0 772.76 L1894.0 772.32 L1895.0 771.87 L1896.0 771.42 L1897.0 770.97 L1898.0 770.51 L1899.0 770.05 L1900.0 769.59 L1901.0 769.12 L1902.0 768.66 L1903.0 768.18 L1904.0 767.71 L1905.0 767.23 L1906.0 766.75 L1907.0 766.27 L1908.0 765.79 L1909.0 765.30 L1910.0 764.80 L1911.0 764.31 L1912.0 763.81 L1913.0 763.31 L1914.0 762.81 L1915.0 762.30 L1916.0 761.80 L1917.0 761.28 L1918.0 760.77 L1919.0 760.25 L1920.0 759.73 L1921.0 759.21 L1922.0 758.69 L1923.0 758.16 L1924.0 757.63 L1925.0 757.10 L1926.0 756.56 L1927.0 756.02 L1928.0 755.48 L1929.0 754.94 L1930.0 754.39 L1931.0 753.84 L1932.0 753.29 L1933.0 752.74 L1934.0 752.18 L1935.0 751.62 L1936.0 751.06 L1937.0 750.49 L1938.0 749.93 L1939.0 749.36 L1940.0 748.78 L1941.0 748.21 L1942.0 747.63 L1943.0 747.05 L1944.0 746.47 L1945.0 745.89 L1946.0 745.30 L1947.0 744.71 L1948.0 744.12 L1949.0 743.52 L1950.0 742.93 L1951.0 742.33 L1952.0 741.72 L1953.0 741.12 L1954.0 740.51 L1955.0 739.90 L1956.0 739.29 L1957.0 738.68 L1958.0 738.06 L1959.0 737.44 L1960.0 736.82 L1961.0 736.20 L1962.0 735.57 L1963.0 734.95 L1964.0 734.32 L1965.0 733.68 L1966.0 733.05 L1967.0 732.41 L1968.0 731.77 L1969.0 731.13 L1970.0 730.48 L1971.0 729.84 L1972.0 729.19 L1973.0 728.54 L1974.0 727.88 L1975.0 727.23 L1976.0 726.57 L1977.0 725.91 L1978.0 725.25 L1979.0 724.58 L1980.0 723.92 L1981.0 723.25 L1982.0 722.58 L1983.0 721.90 L1984.0 721.23 L1985.0 720.55"/>
<path clip-path="url(#cl)" stroke="#0000ff" d="M422.0 946.60 L423.0 945.66 L424.0 944.71 L425.0 943.76 L426.0 942.82 L427.0 941.88 L428.0 940.94 L429.0 940.00 L430.0 939.06 L431.0 938.13 L432.0 937.20 L433.0 936.26 L434.0 935.33 L435.0 934.40 L436.0 933.48 L437.0 932.55 L438.0 931.63 L439.0 930.71 L440.0 929.79 L441.0 928.87 L442.0 927.96 L443.0 927.04 L444.0 926.13 L445.0 925.22 L446.0 924.32 L447.0 923.41 L448.0 922.51 L449.0 921.61 L450.0 920.71 L451.0 919.81 L452.0 918.91 L453.0 918.02 L454.0 917.13 L455.0 916.24 L456.0 915.36 L457.0 914.47 L458.0 913.59 L459.0 912.72 L460.0 911.84 L461.0 910.97 L462.0 910.09 L463.0 909.22 L464.0 908.36 L465.0 907.49 L466.0 906.63 L467.0 905.77 L468.0 904.92 L469.0 904.06 L470.0 903.21 L471.0 902.36 L472.0 901.52 L473.0 900.68 L474.0 899.83 L475.0 899.00 L476.0 898.16 L477.0 897.33 L478.0 896.50 L479.0 895.67 L480.0 894.85 L481.0 894.03 L482.0 893.21 L483.0 892.40 L484.0 891.59 L485.0 890.78 L486.0 889.97 L487.0 889.17 L488.0 888.37 L489.0 887.57 L490.0 886.78 L491.0 885.99 L492.0 885.20 L493.0 884.41 L494.0 883.63 L495.0 882.85 L496.0 882.08 L497.0 881.31 L498.0 880.54 L499.0 879.77 L500.0 879.01 L501.0 878.25 L502.0 877.50 L503.0 876.74 L504.0 876.00 L505.0 875.25 L506.0 874.51 L507.0 873.77 L508.0 873.03 L509.0 872.30 L510.0 871.57 L511.0 870.85 L512.0 870.13 L513.0 869.41 L514.0 868.69 L515.0 867.98 L516.0 867.28 L517.0 866.57 L518.0 865.87 L519.0 865.17 L520.0 864.48 L521.0 863.79 L522.0 863.11 L523.0 862.42 L524.0 861.74 L525.0 861.07 L526.0 860.40 L527.0 859.73 L528.0 859.07 L529.0 858.41 L530.0 857.75 L531.0 857.10 L532.0 856.45 L533.0 855.80 L534.0 855.16 L535.0 854.52 L536.0 853.89 L537.0 853.26 L538.0 852.63 L539.0 852.01 L540.0 851.39 L541.0 850.78 L542.0 850.16 L543.0 849.56 L544.0 848.95 L545.0 848.35 L546.0 847.76 L547.0 847.17 L548.0 846.58 L549.0 845.99 L550.0 845.41 L551.0 844.84 L552.0 844.26 L553.0 843.70 L554.0 843.13 L555.0 842.57 L556.0 842.01 L557.0 841.46 L558.0 840.91 L559.0 840.37 L560.0 839.83 L561.0 839.29 L562.0 838.76 L563.0 838.23 L564.0 837.70 L565.0 837.18 L566.0 836.66 L567.0 836.15 L568.0 835.64 L569.0 835.13 L570.0 834.63 L571.0 834.13 L572.0 833.64 L573.0 833.15 L574.0 832.66 L575.0 832.18 L576.0 831.70 L577.0 831.23 L578.0 830.76 L579.0 830.29 L580.0 829.83 L581.0 829.37 L582.0 828.91 L583.0 828.46 L584.0 828.02 L585.0 827.57 L586.0 827.13 L587.0 826.70 L588.0 826.27 L589.0 825.84 L590.0 825.42 L591.0 825.00 L592.0 824.58 L593.0 824.17 L594.0 823.76 L595.0 823.35 L596.0 822.95 L597.0 822.56 L598.0 822.16 L599.0 821.77 L600.0 821.39 L601.0 821.01 L602.0 820.63 L603.0 820.25 L604.0 819.88 L605.0 819.51 L606.0 819.15 L607.0 818.79 L608.0 818.44 L609.0 818.08 L610.0 817.73 L611.0 817.39 L612.0 817.05 L613.0 816.71 L614.0 816.38 L615.0 816.05 L616.0 815.72 L617.0 815.40 L618.0 815.08 L619.0 814.76 L620.0 814.45 L621.0 814.14 L622.0 813.83 L623.0 813.53 L624.0 813.23 L625.0 812.93 L626.0 812.64 L627.0 812.35 L628.0 812.07 L629.0 811.78 L630.0 811.51 L631.0 811.23 L632.0 810.96 L633.0 810.69 L634.0 810.42 L635.0 810.16 L636.0 809.90 L637.0 809.65 L638.0 809.39 L639.0 809.14 L640.0 808.90 L641.0 808.65 L642.0 808.41 L643.0 808.18 L644.0 807.94 L645.0 807.71 L646.0 807.48 L647.0 807.26 L648.0 807.04 L649.0 806.82 L650.0 806.60 L651.0 806.39 L652.0 806.18 L653.0 805.97 L654.0 805.77 L655.0 805.57 L656.0 805.37 L657.0 805.17 L658.0 804.98 L659.0 804.79 L660.0 804.60 L661.0 804.42 L662.0 804.23 L663.0 804.05 L664.0 803.88 L665.0 803.70 L666.0 803.53 L667.0 803.36 L668.0 803.20 L669.0 803.03 L670.0 802.87 L671.0 802.71 L672.0 802.55 L673.0 802.40 L674.0 802.25 L675.0 802.10 L676.0 801.95 L677.0 801.81 L678.0 801.67 L679.0 801.53 L680.0 801.39 L681.0 801.25 L682.0 801.12 L683.0 800.99 L684.0 800.86 L685.0 800.73 L686.0 800.61 L687.0 800.48 L688.0 800.36 L689.0 800.25 L690.0 800.13 L691.0 800.01 L692.0 799.90 L693.0 799.79 L694.0 799.68 L695.0 799.58 L696.0 799.47 L697.0 799.37 L698.0 799.27 L699.0 799.17 L700.0 799.07 L701.0 798.98 L702.0 798.88 L703.0 798.79 L704.0 798.70 L705.0 798.61 L706.0 798.53 L707.0 798.44 L708.0 798.36 L709.0 798.27 L710.0 798.19 L711.0 798.12 L712.0 798.04 L713.0 797.96 L714.0 797.89 L715.0 797.82 L716.0 797.74 L717.0 797.67 L718.0 797.61 L719.0 797.54 L720.0 797.47 L721.0 797.41 L722.0 797.35 L723.0 797.28 L724.0 797.22 L725.0 797.16 L726.0 797.11 L727.0 797.05 L728.0 796.99 L729.0 796.94 L730.0 796.89 L731.0 796.84 L732.0 796.78 L733.0 796.74 L734.0 796.69 L735.0 796.64 L736.0 796.59 L737.0 796.55 L738.0 796.50 L739.0 796.46 L740.0 796.42 L741.0 796.38 L742.0 796.34 L743.0 796.30 L744.0 796.26 L745.0 796.22 L746.0 796.18 L747.0 796.15 L748.0 796.11 L749.0 796.08 L750.0 796.05 L751.0 796.01 L752.0 795.98 L753.0 795.95 L754.0 795.92 L755.0 795.89 L756.0 795.86 L757.0 795.83 L758.0 795.81 L759.0 795.78 L760.0 795.76 L761.0 795.73 L762.0 795.71 L763.0 795.68 L764.0 795.66 L765.0 795.64 L766.0 795.61 L767.0 795.59 L768.0 795.57 L769.0 795.55 L770.0 795.53 L771.0 795.51 L772.0 795.49 L773.0 795.48 L774.0 795.46 L775.0 795.44 L776.0 795.42 L777.0 795.41 L778.0 795.39 L779.0 795.38 L780.0 795.36 L781.0 795.35 L782.0 795.33 L783.0 795.32 L784.0 795.31 L785.0 795.29 L786.0 795.28 L787.0 795.27 L788.0 795.26 L789.0 795.25 L790.0 795.24 L791.0 795.22 L792.0 795.21 L793.0 795.20 L794.0 795.19 L795.0 795.18 L796.0 795.18 L797.0 795.17 L798.0 795.16 L799.0 795.15 L800.0 795.14 L801.0 795.13 L802.0 795.13 L803.0 795.12 L804.0 795.11 L805.0 795.11 L806.0 795.10 L807.0 795.09 L808.0 795.09 L809.0 795.08 L810.0 795.07 L811.0 795.07 L812.0 795.06 L813.0 795.06 L814.0 795.05 L815.0 795.05 L816.0 795.04 L817.0 795.04 L818.0 795.04 L819.0 795.03 L820.0 795.03 L821.0 795.02 L822.0 795.02 L823.0 795.02 L824.0 795.01 L825.0 795.01 L826.0 795.01 L827.0 795.00 L828.0 795.00 L829.0 795.00 L830.0 794.99 L831.0 794.99 L832.0 794.99 L833.0 794.99 L834.0 794.98 L835.0 794.98 L836.0 794.98 L837.0 794.98 L838.0 794.97 L839.0 794.97 L840.0 794.97 L841.0 794.97 L842.0 794.97 L843.0 794.97 L844.0 794.96 L845.0 794.96 L846.0 794.96 L847.0 794.96 L848.0 794.96 L849.0 794.96 L850.0 794.96 L851.0 794.95 L852.0 794.95 L853.0 794.95 L854.0 794.95 L855.0 794.95 L856.0 794.95 L857.0 794.95 L858.0 794.95 L859.0 794.95 L860.0 794.95 L861.0 794.95 L862.0 794.94 L863.0 794.94 L864.0 794.94 L865.0 794.94 L866.0 794.94 L867.0 794.94 L868.0 794.94 L869.0 794.94 L870.0 794.94 L871.0 794.94 L872.0 794.94 L873.0 794.94 L874.0 794.94 L875.0 794.94 L876.0 794.94 L877.0 794.94 L878.0 794.94 L879.0 794.94 L880.0 794.94 L881.0 794.94 L882.0 794.94 L883.0 794.93 L884.0 794.93 L885.0 794.93 L886.0 794.93 L887.0 794.93 L888.0 794.93 L889.0 794.93 L890.0 794.93 L891.0 794.93 L892.0 794.93 L893.0 794.93 L894.0 794.93 L895.0 794.93 L896.0 794.93 L897.0 794.93 L898.0 794.93 L899.0 794.93 L900.0 794.93 L901.0 794.93 L902.0 794.93 L903.0 794.93 L904.0 794.93 L905.0 794.93 L906.0 794.93 L907.0 794.93 L908.0 794.93 L909.0 794.93 L910.0 794.93 L911.0 794.93 L912.0 794.93 L913.0 794.93 L914.0 794.93 L915.0 794.93 L916.0 794.93 L917.0 794.93 L918.0 794.93 L919.0 794.93 L920.0 794.93 L921.0 794.93 L922.0 794.93 L923.0 794.93 L924.0 794.93 L925.0 794.93 L926.0 794.93 L927.0 794.93 L928.0 794.93 L929.0 794.93 L930.0 794.93 L931.0 794.93 L932.0 794.93 L933.0 794.93 L934.0 794.93 L935.0 794.93 L936.0 794.93 L937.0 794.93 L938.0 794.93 L939.0 794.93 L940.0 794.93 L941.0 794.93 L942.0 794.93 L943.0 794.93 L944.0 794.93 L945.0 794.93 L946.0 794.93 L947.0 794.93 L948.0 794.93 L949.0 794.93 L950.0 794.93 L951.0 794.93 L952.0 794.93 L953.0 794.93 L954.0 794.93 L955.0 794.93 L956.0 794.93 L957.0 794.93 L958.0 794.93 L959.0 794.93 L960.0 794.93 L961.0 794.93 L962.0 794.93 L963.0 794.93 L964.0 794.93 L965.0 794.93 L966.0 794.93 L967.0 794.93 L968.0 794.93 L969.0 794.93 L970.0 794.93 L971.0 794.93 L972.0 794.93 L973.0 794.93 L974.0 794.93 L975.0 794.93 L976.0 794.93 L977.0 794.93 L978.0 794.93 L979.0 794.93 L980.0 794.93 L981.0 794.93 L982.0 794.93 L983.0 794.93 L984.0 794.93 L985.0 794.93 L986.0 794.93 L987.0 794.93 L988.0 794.93 L989.0 794.93 L990.0 794.93 L991.0 794.93 L992.0 794.93 L993.0 794.93 L994.0 794.93 L995.0 794.93 L996.0 794.93 L997.0 794.93 L998.0 794.93 L999.0 794.93 L1000.0 794.93 L1001.0 794.93 L1002.0 794.93 L1003.0 794.93 L1004.0 794.93 L1005.0 794.93 L1006.0 794.93 L1007.0 794.93 L1008.0 794.93 L1009.0 794.93 L1010.0 794.93 L1011.0 794.93 L1012.0 794.93 L1013.0 794.93 L1014.0 794.93 L1015.0 794.93 L1016.0 794.93 L1017.0 794.93 L1018.0 794.93 L1019.0 794.93 L1020.0 794.93 L1021.0 794.93 L1022.0 794.93 L1023.0 794.93 L1024.0 794.93 L1025.0 794.93 L1026.0 794.93 L1027.0 794.93 L1028.0 794.93 L1029.0 794.93 L1030.0 794.93 L1031.0 794.93 L1032.0 794.93 L1033.0 794.93 L1034.0 794.93 L1035.0 794.93 L1036.0 794.93 L1037.0 794.93 L1038.0 794.93 L1039.0 794.93 L1040.0 794.93 L1041.0 794.93 L1042.0 794.93 L1043.0 794.93 L1044.0 794.93 L1045.0 794.93 L1046.0 794.93 L1047.0 794.93 L1048.0 794.93 L1049.0 794.93 L1050.0 794.93 L1051.0 794.93 L1052.0 794.93 L1053.0 794.93 L1054.0 794.93 L1055.0 794.93 L1056.0 794.93 L1057.0 794.93 L1058.0 794.93 L1059.0 794.93 L1060.0 794.93 L1061.0 794.93 L1062.0 794.93 L1063.0 794.93 L1064.0 794.93 L1065.0 794.93 L1066.0 794.93 L1067.0 794.93 L1068.0 794.93 L1069.0 794.93 L1070.0 794.93 L1071.0 794.93 L1072.0 794.93 L1073.0 794.93 L1074.0 794.93 L1075.0 794.93 L1076.0 794.93 L1077.0 794.93 L1078.0 794.93 L1079.0 794.93 L1080.0 794.93 L1081.0 794.93 L1082.0 794.93 L1083.0 794.93 L1084.0 794.93 L1085.0 794.93 L1086.0 794.93 L1087.0 794.93 L1088.0 794.93 L1089.0 794.93 L1090.0 794.93 L1091.0 794.93 L1092.0 794.93 L1093.0 794.93 L1094.0 794.93 L1095.0 794.93 L1096.0 794.93 L1097.0 794.93 L1098.0 794.93 L1099.0 794.93 L1100.0 794.93 L1101.0 794.93 L1102.0 794.93 L1103.0 794.93 L1104.0 794.93 L1105.0 794.93 L1106.0 794.93 L1107.0 794.93 L1108.0 794.93 L1109.0 794.93 L1110.0 794.93 L1111.0 794.93 L1112.0 794.93 L1113.0 794.93 L1114.0 794.93 L1115.0 794.93 L1116.0 794.93 L1117.0 794.93 L1118.0 794.93 L1119.0 794.93 L1120.0 794.93 L1121.0 794.93 L1122.0 794.93 L1123.0 794.93 L1124.0 794.93 L1125.0 794.93 L1126.0 794.93 L1127.0 794.93 L1128.0 794.93 L1129.0 794.93 L1130.0 794.93 L1131.0 794.93 L1132.0 794.93 L1133.0 794.93 L1134.0 794.93 L1135.0 794.93 L1136.0 794.93 L1137.0 794.93 L1138.0 794.93 L1139.0 794.93 L1140.0 794.93"/>
<path clip-path="url(#cr)" stroke="#0000ff" d="M1150.0 794.93 L1151.0 794.93 L1152.0 794.93 L1153.0 794.93 L1154.0 794.93 L1155.0 794.93 L1156.0 794.93 L1157.0 794.93 L1158.0 794.93 L1159.0 794.93 L1160.0 794.93 L1161.0 794.93 L1162.0 794.93 L1163.0 794.93 L1164.0 794.93 L1165.0 794.93 L1166.0 794.93 L1167.0 794.93 L1168.0 794.93 L1169.0 794.93 L1170.0 794.93 L1171.0 794.93 L1172.0 794.93 L1173.0 794.93 L1174.0 794.93 L1175.0 794.93 L1176.0 794.93 L1177.0 794.93 L1178.0 794.93 L1179.0 794.93 L1180.0 794.93 L1181.0 794.93 L1182.0 794.93 L1183.0 794.93 L1184.0 794.93 L1185.0 794.93 L1186.0 794.93 L1187.0 794.93 L1188.0 794.93 L1189.0 794.93 L1190.0 794.93 L1191.0 794.93 L1192.0 794.93 L1193.0 794.93 L1194.0 794.93 L1195.0 794.93 L1196.0 794.93 L1197.0 794.93 L1198.0 794.93 L1199.0 794.93 L1200.0 794.93 L1201.0 794.93 L1202.0 794.93 L1203.0 794.93 L1204.0 794.93 L1205.0 794.93 L1206.0 794.93 L1207.0 794.93 L1208.0 794.93 L1209.0 794.93 L1210.0 794.93 L1211.0 794.93 L1212.0 794.93 L1213.0 794.93 L1214.0 794.93 L1215.0 794.93 L1216.0 794.93 L1217.0 794.93 L1218.0 794.93 L1219.0 794.93 L1220.0 794.93 L1221.0 794.93 L1222.0 794.93 L1223.0 794.93 L1224.0 794.93 L1225.0 794.93 L1226.0 794.93 L1227.0 794.93 L1228.0 794.93 L1229.0 794.93 L1230.0 794.93 L1231.0 794.93 L1232.0 794.93 L1233.0 794.93 L1234.0 794.93 L1235.0 794.93 L1236.0 794.93 L1237.0 794.93 L1238.0 794.93 L1239.0 794.93 L1240.0 794.93 L1241.0 794.93 L1242.0 794.93 L1243.0 794.93 L1244.0 794.93 L1245.0 794.93 L1246.0 794.93 L1247.0 794.93 L1248.0 794.93 L1249.0 794.93 L1250.0 794.93 L1251.0 794.93 L1252.0 794.93 L1253.0 794.93 L1254.0 794.93 L1255.0 794.93 L1256.0 794.93 L1257.0 794.93 L1258.0 794.93 L1259.0 794.93 L1260.0 794.93 L1261.0 794.93 L1262.0 794.93 L1263.0 794.93 L1264.0 794.93 L1265.0 794.93 L1266.0 794.93 L1267.0 794.93 L1268.0 794.93 L1269.0 794.93 L1270.0 794.93 L1271.0 794.93 L1272.0 794.93 L1273.0 794.93 L1274.0 794.93 L1275.0 794.93 L1276.0 794.93 L1277.0 794.93 L1278.0 794.93 L1279.0 794.93 L1280.0 794.93 L1281.0 794.93 L1282.0 794.93 L1283.0 794.93 L1284.0 794.93 L1285.0 794.93 L1286.0 794.93 L1287.0 794.93 L1288.0 794.93 L1289.0 794.93 L1290.0 794.93 L1291.0 794.93 L1292.0 794.93 L1293.0 794.93 L1294.0 794.93 L1295.0 794.93 L1296.0 794.93 L1297.0 794.93 L1298.0 794.93 L1299.0 794.93 L1300.0 794.93 L1301.0 794.93 L1302.0 794.93 L1303.0 794.93 L1304.0 794.93 L1305.0 794.93 L1306.0 794.93 L1307.0 794.93 L1308.0 794.93 L1309.0 794.93 L1310.0 794.93 L1311.0 794.93 L1312.0 794.93 L1313.0 794.93 L1314.0 794.93 L1315.0 794.93 L1316.0 794.93 L1317.0 794.93 L1318.0 794.93 L1319.0 794.93 L1320.0 794.93 L1321.0 794.93 L1322.0 794.93 L1323.0 794.93 L1324.0 794.93 L1325.0 794.93 L1326.0 794.93 L1327.0 794.93 L1328.0 794.93 L1329.0 794.93 L1330.0 794.93 L1331.0 794.93 L1332.0 794.93 L1333.0 794.93 L1334.0 794.93 L1335.0 794.93 L1336.0 794.93 L1337.0 794.93 L1338.0 794.93 L1339.0 794.93 L1340.0 794.93 L1341.0 794.93 L1342.0 794.93 L1343.0 794.93 L1344.0 794.93 L1345.0 794.93 L1346.0 794.93 L1347.0 794.93 L1348.0 794.93 L1349.0 794.93 L1350.0 794.93 L1351.0 794.93 L1352.0 794.93 L1353.0 794.93 L1354.0 794.93 L1355.0 794.93 L1356.0 794.93 L1357.0 794.93 L1358.0 794.93 L1359.0 794.93 L1360.0 794.93 L1361.0 794.93 L1362.0 794.93 L1363.0 794.93 L1364.0 794.93 L1365.0 794.93 L1366.0 794.93 L1367.0 794.93 L1368.0 794.93 L1369.0 794.93 L1370.0 794.93 L1371.0 794.93 L1372.0 794.93 L1373.0 794.93 L1374.0 794.93 L1375.0 794.93 L1376.0 794.93 L1377.0 794.93 L1378.0 794.93 L1379.0 794.93 L1380.0 794.93 L1381.0 794.93 L1382.0 794.93 L1383.0 794.93 L1384.0 794.93 L1385.0 794.93 L1386.0 794.93 L1387.0 794.93 L1388.0 794.93 L1389.0 794.93 L1390.0 794.93 L1391.0 794.93 L1392.0 794.93 L1393.0 794.93 L1394.0 794.93 L1395.0 794.93 L1396.0 794.93 L1397.0 794.93 L1398.0 794.93 L1399.0 794.93 L1400.0 794.93 L1401.0 794.93 L1402.0 794.93 L1403.0 794.93 L1404.0 794.93 L1405.0 794.93 L1406.0 794.93 L1407.0 794.93 L1408.0 794.93 L1409.0 794.93 L1410.0 794.93 L1411.0 794.93 L1412.0 794.93 L1413.0 794.93 L1414.0 794.93 L1415.0 794.93 L1416.0 794.93 L1417.0 794.93 L1418.0 794.93 L1419.0 794.93 L1420.0 794.93 L1421.0 794.93 L1422.0 794.93 L1423.0 794.93 L1424.0 794.93 L1425.0 794.93 L1426.0 794.93 L1427.0 794.93 L1428.0 794.93 L1429.0 794.93 L1430.0 794.93 L1431.0 794.93 L1432.0 794.93 L1433.0 794.93 L1434.0 794.93 L1435.0 794.93 L1436.0 794.93 L1437.0 794.93 L1438.0 794.93 L1439.0 794.93 L1440.0 794.93 L1441.0 794.93 L1442.0 794.93 L1443.0 794.93 L1444.0 794.93 L1445.0 794.93 L1446.0 794.93 L1447.0 794.93 L1448.0 794.93 L1449.0 794.93 L1450.0 794.93 L1451.0 794.93 L1452.0 794.93 L1453.0 794.93 L1454.0 794.93 L1455.0 794.93 L1456.0 794.93 L1457.0 794.93 L1458.0 794.93 L1459.0 794.93 L1460.0 794.93 L1461.0 794.93 L1462.0 794.93 L1463.0 794.93 L1464.0 794.93 L1465.0 794.93 L1466.0 794.93 L1467.0 794.93 L1468.0 794.93 L1469.0 794.93 L1470.0 794.93 L1471.0 794.93 L1472.0 794.93 L1473.0 794.93 L1474.0 794.93 L1475.0 794.93 L1476.0 794.93 L1477.0 794.93 L1478.0 794.93 L1479.0 794.93 L1480.0 794.93 L1481.0 794.93 L1482.0 794.93 L1483.0 794.93 L1484.0 794.93 L1485.0 794.93 L1486.0 794.93 L1487.0 794.93 L1488.0 794.93 L1489.0 794.93 L1490.0 794.93 L1491.0 794.93 L1492.0 794.93 L1493.0 794.93 L1494.0 794.93 L1495.0 794.93 L1496.0 794.93 L1497.0 794.93 L1498.0 794.93 L1499.0 794.93 L1500.0 794.93 L1501.0 794.93 L1502.0 794.93 L1503.0 794.93 L1504.0 794.93 L1505.0 794.93 L1506.0 794.93 L1507.0 794.93 L1508.0 794.93 L1509.0 794.93 L1510.0 794.93 L1511.0 794.93 L1512.0 794.93 L1513.0 794.93 L1514.0 794.93 L1515.0 794.93 L1516.0 794.93 L1517.0 794.93 L1518.0 794.93 L1519.0 794.93 L1520.0 794.93 L1521.0 794.93 L1522.0 794.93 L1523.0 794.93 L1524.0 794.93 L1525.0 794.93 L1526.0 794.93 L1527.0 794.93 L1528.0 794.93 L1529.0 794.93 L1530.0 794.93 L1531.0 794.93 L1532.0 794.93 L1533.0 794.93 L1534.0 794.93 L1535.0 794.93 L1536.0 794.93 L1537.0 794.93 L1538.0 794.93 L1539.0 794.93 L1540.0 794.93 L1541.0 794.93 L1542.0 794.93 L1543.0 794.93 L1544.0 794.93 L1545.0 794.93 L1546.0 794.93 L1547.0 794.93 L1548.0 794.93 L1549.0 794.93 L1550.0 794.93 L1551.0 794.93 L1552.0 794.93 L1553.0 794.93 L1554.0 794.93 L1555.0 794.93 L1556.0 794.93 L1557.0 794.93 L1558.0 794.93 L1559.0 794.93 L1560.0 794.93 L1561.0 794.93 L1562.0 794.93 L1563.0 794.93 L1564.0 794.93 L1565.0 794.93 L1566.0 794.93 L1567.0 794.93 L1568.0 794.93 L1569.0 794.93 L1570.0 794.93 L1571.0 794.93 L1572.0 794.93 L1573.0 794.93 L1574.0 794.93 L1575.0 794.93 L1576.0 794.93 L1577.0 794.93 L1578.0 794.93 L1579.0 794.93 L1580.0 794.93 L1581.0 794.93 L1582.0 794.93 L1583.0 794.93 L1584.0 794.93 L1585.0 794.93 L1586.0 794.93 L1587.0 794.93 L1588.0 794.93 L1589.0 794.93 L1590.0 794.93 L1591.0 794.93 L1592.0 794.93 L1593.0 794.93 L1594.0 794.93 L1595.0 794.93 L1596.0 794.93 L1597.0 794.93 L1598.0 794.93 L1599.0 794.93 L1600.0 794.93 L1601.0 794.93 L1602.0 794.93 L1603.0 794.93 L1604.0 794.93 L1605.0 794.93 L1606.0 794.93 L1607.0 794.93 L1608.0 794.93 L1609.0 794.93 L1610.0 794.93 L1611.0 794.93 L1612.0 794.93 L1613.0 794.93 L1614.0 794.93 L1615.0 794.93 L1616.0 794.93 L1617.0 794.93 L1618.0 794.93 L1619.0 794.93 L1620.0 794.93 L1621.0 794.93 L1622.0 794.93 L1623.0 794.93 L1624.0 794.93 L1625.0 794.93 L1626.0 794.93 L1627.0 794.93 L1628.0 794.93 L1629.0 794.93 L1630.0 794.93 L1631.0 794.93 L1632.0 794.93 L1633.0 794.93 L1634.0 794.93 L1635.0 794.93 L1636.0 794.93 L1637.0 794.93 L1638.0 794.93 L1639.0 794.93 L1640.0 794.93 L1641.0 794.93 L1642.0 794.93 L1643.0 794.93 L1644.0 794.93 L1645.0 794.93 L1646.0 794.93 L1647.0 794.93 L1648.0 794.93 L1649.0 794.93 L1650.0 794.93 L1651.0 794.93 L1652.0 794.93 L1653.0 794.93 L1654.0 794.93 L1655.0 794.93 L1656.0 794.93 L1657.0 794.93 L1658.0 794.93 L1659.0 794.93 L1660.0 794.93 L1661.0 794.93 L1662.0 794.93 L1663.0 794.93 L1664.0 794.93 L1665.0 794.93 L1666.0 794.93 L1667.0 794.93 L1668.0 794.93 L1669.0 794.93 L1670.0 794.93 L1671.0 794.93 L1672.0 794.93 L1673.0 794.93 L1674.0 794.93 L1675.0 794.93 L1676.0 794.93 L1677.0 794.93 L1678.0 794.93 L1679.0 794.93 L1680.0 794.93 L1681.0 794.93 L1682.0 794.93 L1683.0 794.93 L1684.0 794.93 L1685.0 794.93 L1686.0 794.93 L1687.0 794.93 L1688.0 794.93 L1689.0 794.93 L1690.0 794.93 L1691.0 794.93 L1692.0 794.93 L1693.0 794.93 L1694.0 794.93 L1695.0 794.93 L1696.0 794.93 L1697.0 794.93 L1698.0 794.93 L1699.0 794.93 L1700.0 794.93 L1701.0 794.93 L1702.0 794.93 L1703.0 794.93 L1704.0 794.93 L1705.0 794.93 L1706.0 794.93 L1707.0 794.93 L1708.0 794.93 L1709.0 794.93 L1710.0 794.93 L1711.0 794.93 L1712.0 794.93 L1713.0 794.93 L1714.0 794.93 L1715.0 794.92 L1716.0 794.92 L1717.0 794.92 L1718.0 794.92 L1719.0 794.92 L1720.0 794.92 L1721.0 794.92 L1722.0 794.92 L1723.0 794.92 L1724.0 794.92 L1725.0 794.91 L1726.0 794.91 L1727.0 794.91 L1728.0 794.91 L1729.0 794.91 L1730.0 794.91 L1731.0 794.90 L1732.0 794.90 L1733.0 794.90 L1734.0 794.89 L1735.0 794.89 L1736.0 794.89 L1737.0 794.88 L1738.0 794.88 L1739.0 794.88 L1740.0 794.87 L1741.0 794.87 L1742.0 794.86 L1743.0 794.85 L1744.0 794.85 L1745.0 794.84 L1746.0 794.83 L1747.0 794.82 L1748.0 794.82 L1749.0 794.81 L1750.0 794.80 L1751.0 794.79 L1752.0 794.77 L1753.0 794.76 L1754.0 794.75 L1755.0 794.74 L1756.0 794.72 L1757.0 794.70 L1758.0 794.69 L1759.0 794.67 L1760.0 794.65 L1761.0 794.63 L1762.0 794.61 L1763.0 794.59 L1764.0 794.56 L1765.0 794.54 L1766.0 794.51 L1767.0 794.48 L1768.0 794.45 L1769.0 794.42 L1770.0 794.39 L1771.0 794.35 L1772.0 794.31 L1773.0 794.27 L1774.0 794.23 L1775.0 794.19 L1776.0 794.14 L1777.0 794.09 L1778.0 794.04 L1779.0 793.99 L1780.0 793.93 L1781.0 793.87 L1782.0 793.81 L1783.0 793.74 L1784.0 793.67 L1785.0 793.60 L1786.0 793.53 L1787.0 793.45 L1788.0 793.36 L1789.0 793.28 L1790.0 793.19 L1791.0 793.09 L1792.0 793.00 L1793.0 792.89 L1794.0 792.79 L1795.0 792.67 L1796.0 792.56 L1797.0 792.44 L1798.0 792.31 L1799.0 792.18 L1800.0 792.04 L1801.0 791.90 L1802.0 791.75 L1803.0 791.60 L1804.0 791.44 L1805.0 791.27 L1806.0 791.10 L1807.0 790.92 L1808.0 790.74 L1809.0 790.55 L1810.0 790.35 L1811.0 790.14 L1812.0 789.93 L1813.0 789.71 L1814.0 789.49 L1815.0 789.25 L1816.0 789.01 L1817.0 788.76 L1818.0 788.50 L1819.0 788.23 L1820.0 787.96 L1821.0 787.67 L1822.0 787.38 L1823.0 787.08 L1824.0 786.77 L1825.0 786.45 L1826.0 786.12 L1827.0 785.78 L1828.0 785.43 L1829.0 785.08 L1830.0 784.71 L1831.0 784.33 L1832.0 783.94 L1833.0 783.54 L1834.0 783.13 L1835.0 782.71 L1836.0 782.28 L1837.0 781.84 L1838.0 781.38 L1839.0 780.92 L1840.0 780.44 L1841.0 779.96 L1842.0 779.46 L1843.0 778.95 L1844.0 778.42 L1845.0 777.89 L1846.0 777.34 L1847.0 776.78 L1848.0 776.21 L1849.0 775.63 L1850.0 775.03 L1851.0 774.42 L1852.0 773.80 L1853.0 773.16 L1854.0 772.51 L1855.0 771.85 L1856.0 771.18 L1857.0 770.49 L1858.0 769.79 L1859.0 769.08 L1860.0 768.35 L1861.0 767.61 L1862.0 766.86 L1863.0 766.09 L1864.0 765.31 L1865.0 764.51 L1866.0 763.70 L1867.0 762.88 L1868.0 762.04 L1869.0 761.20 L1870.0 760.33 L1871.0 759.45 L1872.0 758.56 L1873.0 757.66 L1874.0 756.74 L1875.0 755.81 L1876.0 754.86 L1877.0 753.90 L1878.0 752.93 L1879.0 751.94 L1880.0 750.94 L1881.0 749.92 L1882.0 748.90 L1883.0 747.85 L1884.0 746.80 L1885.0 745.73 L1886.0 744.65 L1887.0 743.55 L1888.0 742.44 L1889.0 741.32 L1890.0 740.18 L1891.0 739.03 L1892.0 737.87 L1893.0 736.69 L1894.0 735.50 L1895.0 734.30 L1896.0 733.09 L1897.0 731.86 L1898.0 730.62 L1899.0 729.37 L1900.0 728.10 L1901.0 726.83 L1902.0 725.54 L1903.0 724.24 L1904.0 722.92 L1905.0 721.60 L1906.0 720.26 L1907.0 718.91 L1908.0 717.55 L1909.0 716.18 L1910.0 714.80 L1911.0 713.40 L1912.0 712.00 L1913.0 710.58 L1914.0 709.16 L1915.0 707.72 L1916.0 706.27 L1917.0 704.82 L1918.0 703.35 L1919.0 701.87 L1920.0 700.38 L1921.0 698.89 L1922.0 697.38 L1923.0 695.86 L1924.0 694.34 L1925.0 692.81 L1926.0 691.26 L1927.0 689.71 L1928.0 688.15 L1929.0 686.58 L1930.0 685.01 L1931.0 683.42 L1932.0 681.83 L1933.0 680.23 L1934.0 678.62 L1935.0 677.01 L1936.0 675.39 L1937.0 673.76 L1938.0 672.12 L1939.0 670.48 L1940.0 668.83 L1941.0 667.18 L1942.0 665.52 L1943.0 663.85 L1944.0 662.18 L1945.0 660.50 L1946.0 658.82 L1947.0 657.13 L1948.0 655.44 L1949.0 653.74 L1950.0 652.04 L1951.0 650.33 L1952.0 648.62 L1953.0 646.91 L1954.0 645.19 L1955.0 643.47 L1956.0 641.74 L1957.0 640.01 L1958.0 638.28 L1959.0 636.54 L1960.0 634.80 L1961.0 633.06 L1962.0 631.32 L1963.0 629.57 L1964.0 627.82 L1965.0 626.07 L1966.0 624.32 L1967.0 622.57 L1968.0 620.81 L1969.0 619.05 L1970.0 617.30 L1971.0 615.54 L1972.0 613.78 L1973.0 612.02 L1974.0 610.26 L1975.0 608.50 L1976.0 606.74 L1977.0 604.97 L1978.0 603.21 L1979.0 601.45 L1980.0 599.69 L1981.0 597.93 L1982.0 596.17 L1983.0 594.41 L1984.0 592.66 L1985.0 590.90"/>
<path clip-path="url(#cl)" stroke="#00ffff" d="M422.0 1078.73 L423.0 1077.33 L424.0 1075.92 L425.0 1074.52 L426.0 1073.11 L427.0 1071.70 L428.0 1070.29 L429.0 1068.88 L430.0 1067.47 L431.0 1066.06 L432.0 1064.65 L433.0 1063.24 L434.0 1061.83 L435.0 1060.42 L436.0 1059.01 L437.0 1057.59 L438.0 1056.18 L439.0 1054.77 L440.0 1053.36 L441.0 1051.94 L442.0 1050.53 L443.0 1049.12 L444.0 1047.70 L445.0 1046.29 L446.0 1044.88 L447.0 1043.46 L448.0 1042.05 L449.0 1040.64 L450.0 1039.23 L451.0 1037.82 L452.0 1036.40 L453.0 1034.99 L454.0 1033.58 L455.0 1032.17 L456.0 1030.76 L457.0 1029.36 L458.0 1027.95 L459.0 1026.54 L460.0 1025.13 L461.0 1023.73 L462.0 1022.32 L463.0 1020.92 L464.0 1019.52 L465.0 1018.11 L466.0 1016.71 L467.0 1015.31 L468.0 1013.92 L469.0 1012.52 L470.0 1011.12 L471.0 1009.73 L472.0 1008.33 L473.0 1006.94 L474.0 1005.55 L475.0 1004.16 L476.0 1002.77 L477.0 1001.39 L478.0 1000.00 L479.0 998.62 L480.0 997.24 L481.0 995.86 L482.0 994.48 L483.0 993.10 L484.0 991.73 L485.0 990.36 L486.0 988.99 L487.0 987.62 L488.0 986.25 L489.0 984.89 L490.0 983.53 L491.0 982.17 L492.0 980.81 L493.0 979.46 L494.0 978.11 L495.0 976.76 L496.0 975.41 L497.0 974.07 L498.0 972.73 L499.0 971.39 L500.0 970.05 L501.0 968.72 L502.0 967.39 L503.0 966.06 L504.0 964.73 L505.0 963.41 L506.0 962.09 L507.0 960.78 L508.0 959.47 L509.0 958.16 L510.0 956.85 L511.0 955.55 L512.0 954.25 L513.0 952.95 L514.0 951.66 L515.0 950.37 L516.0 949.08 L517.0 947.80 L518.0 946.52 L519.0 945.25 L520.0 943.98 L521.0 942.71 L522.0 941.45 L523.0 940.19 L524.0 938.93 L525.0 937.68 L526.0 936.43 L527.0 935.19 L528.0 933.95 L529.0 932.72 L530.0 931.48 L531.0 930.26 L532.0 929.04 L533.0 927.82 L534.0 926.60 L535.0 925.39 L536.0 924.19 L537.0 922.99 L538.0 921.79 L539.0 920.60 L540.0 919.42 L541.0 918.24 L542.0 917.06 L543.0 915.89 L544.0 914.72 L545.0 913.56 L546.0 912.40 L547.0 911.25 L548.0 910.10 L549.0 908.96 L550.0 907.82 L551.0 906.69 L552.0 905.56 L553.0 904.44 L554.0 903.32 L555.0 902.21 L556.0 901.10 L557.0 900.00 L558.0 898.91 L559.0 897.82 L560.0 896.73 L561.0 895.66 L562.0 894.58 L563.0 893.52 L564.0 892.45 L565.0 891.40 L566.0 890.35 L567.0 889.30 L568.0 888.26 L569.0 887.23 L570.0 886.20 L571.0 885.18 L572.0 884.16 L573.0 883.15 L574.0 882.15 L575.0 881.15 L576.0 880.16 L577.0 879.17 L578.0 878.19 L579.0 877.22 L580.0 876.25 L581.0 875.29 L582.0 874.33 L583.0 873.38 L584.0 872.44 L585.0 871.50 L586.0 870.57 L587.0 869.65 L588.0 868.73 L589.0 867.82 L590.0 866.91 L591.0 866.01 L592.0 865.12 L593.0 864.23 L594.0 863.35 L595.0 862.48 L596.0 861.61 L597.0 860.75 L598.0 859.89 L599.0 859.04 L600.0 858.20 L601.0 857.37 L602.0 856.54 L603.0 855.71 L604.0 854.90 L605.0 854.09 L606.0 853.29 L607.0 852.49 L608.0 851.70 L609.0 850.92 L610.0 850.14 L611.0 849.37 L612.0 848.61 L613.0 847.85 L614.0 847.10 L615.0 846.36 L616.0 845.62 L617.0 844.89 L618.0 844.16 L619.0 843.45 L620.0 842.74 L621.0 842.03 L622.0 841.33 L623.0 840.64 L624.0 839.96 L625.0 839.28 L626.0 838.61 L627.0 837.94 L628.0 837.28 L629.0 836.63 L630.0 835.99 L631.0 835.35 L632.0 834.71 L633.0 834.09 L634.0 833.47 L635.0 832.85 L636.0 832.25 L637.0 831.65 L638.0 831.05 L639.0 830.47 L640.0 829.88 L641.0 829.31 L642.0 828.74 L643.0 828.18 L644.0 827.62 L645.0 827.07 L646.0 826.53 L647.0 825.99 L648.0 825.46 L649.0 824.94 L650.0 824.42 L651.0 823.91 L652.0 823.40 L653.0 822.90 L654.0 822.41 L655.0 821.92 L656.0 821.44 L657.0 820.96 L658.0 820.49 L659.0 820.03 L660.0 819.57 L661.0 819.12 L662.0 818.67 L663.0 818.23 L664.0 817.80 L665.0 817.37 L666.0 816.95 L667.0 816.53 L668.0 816.12 L669.0 815.71 L670.0 815.31 L671.0 814.91 L672.0 814.52 L673.0 814.14 L674.0 813.76 L675.0 813.39 L676.0 813.02 L677.0 812.66 L678.0 812.30 L679.0 811.95 L680.0 811.60 L681.0 811.26 L682.0 810.93 L683.0 810.60 L684.0 810.27 L685.0 809.95 L686.0 809.63 L687.0 809.32 L688.0 809.02 L689.0 808.71 L690.0 808.42 L691.0 808.13 L692.0 807.84 L693.0 807.56 L694.0 807.28 L695.0 807.01 L696.0 806.74 L697.0 806.47 L698.0 806.22 L699.0 805.96 L700.0 805.71 L701.0 805.46 L702.0 805.22 L703.0 804.98 L704.0 804.75 L705.0 804.52 L706.0 804.30 L707.0 804.08 L708.0 803.86 L709.0 803.65 L710.0 803.44 L711.0 803.23 L712.0 803.03 L713.0 802.83 L714.0 802.64 L715.0 802.45 L716.0 802.26 L717.0 802.08 L718.0 801.90 L719.0 801.73 L720.0 801.55 L721.0 801.38 L722.0 801.22 L723.0 801.06 L724.0 800.90 L725.0 800.74 L726.0 800.59 L727.0 800.44 L728.0 800.30 L729.0 800.15 L730.0 800.01 L731.0 799.88 L732.0 799.74 L733.0 799.61 L734.0 799.48 L735.0 799.36 L736.0 799.24 L737.0 799.12 L738.0 799.00 L739.0 798.89 L740.0 798.77 L741.0 798.67 L742.0 798.56 L743.0 798.45 L744.0 798.35 L745.0 798.25 L746.0 798.16 L747.0 798.06 L748.0 797.97 L749.0 797.88 L750.0 797.79 L751.0 797.71 L752.0 797.62 L753.0 797.54 L754.0 797.46 L755.0 797.38 L756.0 797.31 L757.0 797.23 L758.0 797.16 L759.0 797.09 L760.0 797.02 L761.0 796.96 L762.0 796.89 L763.0 796.83 L764.0 796.77 L765.0 796.71 L766.0 796.65 L767.0 796.60 L768.0 796.54 L769.0 796.49 L770.0 796.44 L771.0 796.39 L772.0 796.34 L773.0 796.29 L774.0 796.24 L775.0 796.20 L776.0 796.15 L777.0 796.11 L778.0 796.07 L779.0 796.03 L780.0 795.99 L781.0 795.95 L782.0 795.92 L783.0 795.88 L784.0 795.85 L785.0 795.82 L786.0 795.78 L787.0 795.75 L788.0 795.72 L789.0 795.69 L790.0 795.67 L791.0 795.64 L792.0 795.61 L793.0 795.59 L794.0 795.56 L795.0 795.54 L796.0 795.51 L797.0 795.49 L798.0 795.47 L799.0 795.45 L800.0 795.43 L801.0 795.41 L802.0 795.39 L803.0 795.37 L804.0 795.35 L805.0 795.34 L806.0 795.32 L807.0 795.30 L808.0 795.29 L809.0 795.27 L810.0 795.26 L811.0 795.25 L812.0 795.23 L813.0 795.22 L814.0 795.21 L815.0 795.20 L816.0 795.19 L817.0 795.17 L818.0 795.16 L819.0 795.15 L820.0 795.14 L821.0 795.13 L822.0 795.13 L823.0 795.12 L824.0 795.11 L825.0 795.10 L826.0 795.09 L827.0 795.09 L828.0 795.08 L829.0 795.07 L830.0 795.07 L831.0 795.06 L832.0 795.05 L833.0 795.05 L834.0 795.04 L835.0 795.04 L836.0 795.03 L837.0 795.03 L838.0 795.02 L839.0 795.02 L840.0 795.01 L841.0 795.01 L842.0 795.01 L843.0 795.00 L844.0 795.00 L845.0 794.99 L846.0 794.99 L847.0 794.99 L848.0 794.99 L849.0 794.98 L850.0 794.98 L851.0 794.98 L852.0 794.97 L853.0 794.97 L854.0 794.97 L855.0 794.97 L856.0 794.97 L857.0 794.96 L858.0 794.96 L859.0 794.96 L860.0 794.96 L861.0 794.96 L862.0 794.96 L863.0 794.95 L864.0 794.95 L865.0 794.95 L866.0 794.95 L867.0 794.95 L868.0 794.95 L869.0 794.95 L870.0 794.95 L871.0 794.95 L872.0 794.94 L873.0 794.94 L874.0 794.94 L875.0 794.94 L876.0 794.94 L877.0 794.94 L878.0 794.94 L879.0 794.94 L880.0 794.94 L881.0 794.94 L882.0 794.94 L883.0 794.94 L884.0 794.94 L885.0 794.94 L886.0 794.94 L887.0 794.94 L888.0 794.94 L889.0 794.94 L890.0 794.93 L891.0 794.93 L892.0 794.93 L893.0 794.93 L894.0 794.93 L895.0 794.93 L896.0 794.93 L897.0 794.93 L898.0 794.93 L899.0 794.93 L900.0 794.93 L901.0 794.93 L902.0 794.93 L903.0 794.93 L904.0 794.93 L905.0 794.93 L906.0 794.93 L907.0 794.93 L908.0 794.93 L909.0 794.93 L910.0 794.93 L911.0 794.93 L912.0 794.93 L913.0 794.93 L914.0 794.93 L915.0 794.93 L916.0 794.93 L917.0 794.93 L918.0 794.93 L919.0 794.93 L920.0 794.93 L921.0 794.93 L922.0 794.93 L923.0 794.93 L924.0 794.93 L925.0 794.93 L926.0 794.93 L927.0 794.93 L928.0 794.93 L929.0 794.93 L930.0 794.93 L931.0 794.93 L932.0 794.93 L933.0 794.93 L934.0 794.93 L935.0 794.93 L936.0 794.93 L937.0 794.93 L938.0 794.93 L939.0 794.93 L940.0 794.93 L941.0 794.93 L942.0 794.93 L943.0 794.93 L944.0 794.93 L945.0 794.93 L946.0 794.93 L947.0 794.93 L948.0 794.93 L949.0 794.93 L950.0 794.93 L951.0 794.93 L952.0 794.93 L953.0 794.93 L954.0 794.93 L955.0 794.93 L956.0 794.93 L957.0 794.93 L958.0 794.93 L959.0 794.93 L960.0 794.93 L961.0 794.93 L962.0 794.93 L963.0 794.93 L964.0 794.93 L965.0 794.93 L966.0 794.93 L967.0 794.93 L968.0 794.93 L969.0 794.93 L970.0 794.93 L971.0 794.93 L972.0 794.93 L973.0 794.93 L974.0 794.93 L975.0 794.93 L976.0 794.93 L977.0 794.93 L978.0 794.93 L979.0 794.93 L980.0 794.93 L981.0 794.93 L982.0 794.93 L983.0 794.93 L984.0 794.93 L985.0 794.93 L986.0 794.93 L987.0 794.93 L988.0 794.93 L989.0 794.93 L990.0 794.93 L991.0 794.93 L992.0 794.93 L993.0 794.93 L994.0 794.93 L995.0 794.93 L996.0 794.93 L997.0 794.93 L998.0 794.93 L999.0 794.93 L1000.0 794.93 L1001.0 794.93 L1002.0 794.93 L1003.0 794.93 L1004.0 794.93 L1005.0 794.93 L1006.0 794.93 L1007.0 794.93 L1008.0 794.93 L1009.0 794.93 L1010.0 794.93 L1011.0 794.93 L1012.0 794.93 L1013.0 794.93 L1014.0 794.93 L1015.0 794.93 L1016.0 794.93 L1017.0 794.93 L1018.0 794.93 L1019.0 794.93 L1020.0 794.93 L1021.0 794.93 L1022.0 794.93 L1023.0 794.93 L1024.0 794.93 L1025.0 794.93 L1026.0 794.93 L1027.0 794.93 L1028.0 794.93 L1029.0 794.93 L1030.0 794.93 L1031.0 794.93 L1032.0 794.93 L1033.0 794.93 L1034.0 794.93 L1035.0 794.93 L1036.0 794.93 L1037.0 794.93 L1038.0 794.93 L1039.0 794.93 L1040.0 794.93 L1041.0 794.93 L1042.0 794.93 L1043.0 794.93 L1044.0 794.93 L1045.0 794.93 L1046.0 794.93 L1047.0 794.93 L1048.0 794.93 L1049.0 794.93 L1050.0 794.93 L1051.0 794.93 L1052.0 794.93 L1053.0 794.93 L1054.0 794.93 L1055.0 794.93 L1056.0 794.93 L1057.0 794.93 L1058.0 794.93 L1059.0 794.93 L1060.0 794.93 L1061.0 794.93 L1062.0 794.93 L1063.0 794.93 L1064.0 794.93 L1065.0 794.93 L1066.0 794.93 L1067.0 794.93 L1068.0 794.93 L1069.0 794.93 L1070.0 794.93 L1071.0 794.93 L1072.0 794.93 L1073.0 794.93 L1074.0 794.93 L1075.0 794.93 L1076.0 794.93 L1077.0 794.93 L1078.0 794.93 L1079.0 794.93 L1080.0 794.93 L1081.0 794.93 L1082.0 794.93 L1083.0 794.93 L1084.0 794.93 L1085.0 794.93 L1086.0 794.93 L1087.0 794.93 L1088.0 794.93 L1089.0 794.93 L1090.0 794.93 L1091.0 794.93 L1092.0 794.93 L1093.0 794.93 L1094.0 794.93 L1095.0 794.93 L1096.0 794.93 L1097.0 794.93 L1098.0 794.93 L1099.0 794.93 L1100.0 794.93 L1101.0 794.93 L1102.0 794.93 L1103.0 794.93 L1104.0 794.93 L1105.0 794.93 L1106.0 794.93 L1107.0 794.93 L1108.0 794.93 L1109.0 794.93 L1110.0 794.93 L1111.0 794.93 L1112.0 794.93 L1113.0 794.93 L1114.0 794.93 L1115.0 794.93 L1116.0 794.93 L1117.0 794.93 L1118.0 794.93 L1119.0 794.93 L1120.0 794.93 L1121.0 794.93 L1122.0 794.93 L1123.0 794.93 L1124.0 794.93 L1125.0 794.93 L1126.0 794.93 L1127.0 794.93 L1128.0 794.93 L1129.0 794.93 L1130.0 794.93 L1131.0 794.93 L1132.0 794.93 L1133.0 794.93 L1134.0 794.93 L1135.0 794.93 L1136.0 794.93 L1137.0 794.93 L1138.0 794.93 L1139.0 794.93 L1140.0 794.93"/>
<path clip-path="url(#cr)" stroke="#00ffff" d="M1150.0 794.93 L1151.0 794.93 L1152.0 794.93 L1153.0 794.93 L1154.0 794.93 L1155.0 794.93 L1156.0 794.93 L1157.0 794.93 L1158.0 794.93 L1159.0 794.93 L1160.0 794.93 L1161.0 794.93 L1162.0 794.93 L1163.0 794.93 L1164.0 794.93 L1165.0 794.93 L1166.0 794.93 L1167.0 794.93 L1168.0 794.93 L1169.0 794.93 L1170.0 794.93 L1171.0 794.93 L1172.0 794.93 L1173.0 794.93 L1174.0 794.93 L1175.0 794.93 L1176.0 794.93 L1177.0 794.93 L1178.0 794.93 L1179.0 794.93 L1180.0 794.93 L1181.0 794.93 L1182.0 794.93 L1183.0 794.93 L1184.0 794.93 L1185.0 794.93 L1186.0 794.93 L1187.0 794.93 L1188.0 794.93 L1189.0 794.93 L1190.0 794.93 L1191.0 794.93 L1192.0 794.93 L1193.0 794.93 L1194.0 794.93 L1195.0 794.93 L1196.0 794.93 L1197.0 794.93 L1198.0 794.93 L1199.0 794.93 L1200.0 794.93 L1201.0 794.93 L1202.0 794.93 L1203.0 794.93 L1204.0 794.93 L1205.0 794.93 L1206.0 794.93 L1207.0 794.93 L1208.0 794.93 L1209.0 794.93 L1210.0 794.93 L1211.0 794.93 L1212.0 794.93 L1213.0 794.93 L1214.0 794.93 L1215.0 794.93 L1216.0 794.93 L1217.0 794.93 L1218.0 794.93 L1219.0 794.93 L1220.0 794.93 L1221.0 794.93 L1222.0 794.93 L1223.0 794.93 L1224.0 794.93 L1225.0 794.93 L1226.0 794.93 L1227.0 794.93 L1228.0 794.93 L1229.0 794.93 L1230.0 794.93 L1231.0 794.93 L1232.0 794.93 L1233.0 794.93 L1234.0 794.93 L1235.0 794.93 L1236.0 794.93 L1237.0 794.93 L1238.0 794.93 L1239.0 794.93 L1240.0 794.93 L1241.0 794.93 L1242.0 794.93 L1243.0 794.93 L1244.0 794.93 L1245.0 794.93 L1246.0 794.93 L1247.0 794.93 L1248.0 794.93 L1249.0 794.93 L1250.0 794.93 L1251.0 794.93 L1252.0 794.93 L1253.0 794.93 L1254.0 794.93 L1255.0 794.93 L1256.0 794.93 L1257.0 794.93 L1258.0 794.93 L1259.0 794.93 L1260.0 794.93 L1261.0 794.93 L1262.0 794.93 L1263.0 794.93 L1264.0 794.93 L1265.0 794.93 L1266.0 794.93 L1267.0 794.93 L1268.0 794.93 L1269.0 794.93 L1270.0 794.93 L1271.0 794.93 L1272.0 794.93 L1273.0 794.93 L1274.0 794.93 L1275.0 794.93 L1276.0 794.93 L1277.0 794.93 L1278.0 794.93 L1279.0 794.93 L1280.0 794.93 L1281.0 794.93 L1282.0 794.93 L1283.0 794.93 L1284.0 794.93 L1285.0 794.93 L1286.0 794.93 L1287.0 794.93 L1288.0 794.93 L1289.0 794.93 L1290.0 794.93 L1291.0 794.93 L1292.0 794.93 L1293.0 794.93 L1294.0 794.93 L1295.0 794.93 L1296.0 794.93 L1297.0 794.93 L1298.0 794.93 L1299.0 794.93 L1300.0 794.93 L1301.0 794.93 L1302.0 794.93 L1303.0 794.93 L1304.0 794.93 L1305.0 794.93 L1306.0 794.93 L1307.0 794.93 L1308.0 794.93 L1309.0 794.93 L1310.0 794.93 L1311.0 794.93 L1312.0 794.93 L1313.0 794.93 L1314.0 794.93 L1315.0 794.93 L1316.0 794.93 L1317.0 794.93 L1318.0 794.93 L1319.0 794.93 L1320.0 794.93 L1321.0 794.93 L1322.0 794.93 L1323.0 794.93 L1324.0 794.93 L1325.0 794.93 L1326.0 794.93 L1327.0 794.93 L1328.0 794.93 L1329.0 794.93 L1330.0 794.93 L1331.0 794.93 L1332.0 794.93 L1333.0 794.93 L1334.0 794.93 L1335.0 794.93 L1336.0 794.93 L1337.0 794.93 L1338.0 794.93 L1339.0 794.93 L1340.0 794.93 L1341.0 794.93 L1342.0 794.93 L1343.0 794.93 L1344.0 794.93 L1345.0 794.93 L1346.0 794.93 L1347.0 794.93 L1348.0 794.93 L1349.0 794.93 L1350.0 794.93 L1351.0 794.93 L1352.0 794.93 L1353.0 794.93 L1354.0 794.93 L1355.0 794.93 L1356.0 794.93 L1357.0 794.93 L1358.0 794.93 L1359.0 794.93 L1360.0 794.93 L1361.0 794.93 L1362.0 794.93 L1363.0 794.93 L1364.0 794.93 L1365.0 794.93 L1366.0 794.93 L1367.0 794.93 L1368.0 794.93 L1369.0 794.93 L1370.0 794.93 L1371.0 794.93 L1372.0 794.93 L1373.0 794.93 L1374.0 794.93 L1375.0 794.93 L1376.0 794.93 L1377.0 794.93 L1378.0 794.93 L1379.0 794.93 L1380.0 794.93 L1381.0 794.93 L1382.0 794.93 L1383.0 794.93 L1384.0 794.93 L1385.0 794.93 L1386.0 794.93 L1387.0 794.93 L1388.0 794.93 L1389.0 794.93 L1390.0 794.93 L1391.0 794.93 L1392.0 794.93 L1393.0 794.93 L1394.0 794.93 L1395.0 794.93 L1396.0 794.93 L1397.0 794.93 L1398.0 794.93 L1399.0 794.93 L1400.0 794.93 L1401.0 794.93 L1402.0 794.93 L1403.0 794.93 L1404.0 794.93 L1405.0 794.93 L1406.0 794.93 L1407.0 794.93 L1408.0 794.93 L1409.0 794.93 L1410.0 794.93 L1411.0 794.93 L1412.0 794.93 L1413.0 794.93 L1414.0 794.93 L1415.0 794.93 L1416.0 794.93 L1417.0 794.93 L1418.0 794.93 L1419.0 794.93 L1420.0 794.93 L1421.0 794.93 L1422.0 794.93 L1423.0 794.93 L1424.0 794.93 L1425.0 794.93 L1426.0 794.93 L1427.0 794.93 L1428.0 794.93 L1429.0 794.93 L1430.0 794.93 L1431.0 794.93 L1432.0 794.93 L1433.0 794.93 L1434.0 794.93 L1435.0 794.93 L1436.0 794.93 L1437.0 794.93 L1438.0 794.93 L1439.0 794.93 L1440.0 794.93 L1441.0 794.93 L1442.0 794.93 L1443.0 794.93 L1444.0 794.93 L1445.0 794.93 L1446.0 794.93 L1447.0 794.93 L1448.0 794.93 L1449.0 794.93 L1450.0 794.93 L1451.0 794.93 L1452.0 794.93 L1453.0 794.93 L1454.0 794.93 L1455.0 794.93 L1456.0 794.93 L1457.0 794.93 L1458.0 794.93 L1459.0 794.93 L1460.0 794.93 L1461.0 794.93 L1462.0 794.93 L1463.0 794.93 L1464.0 794.93 L1465.0 794.93 L1466.0 794.93 L1467.0 794.93 L1468.0 794.93 L1469.0 794.93 L1470.0 794.93 L1471.0 794.93 L1472.0 794.93 L1473.0 794.93 L1474.0 794.93 L1475.0 794.93 L1476.0 794.93 L1477.0 794.93 L1478.0 794.93 L1479.0 794.93 L1480.0 794.93 L1481.0 794.93 L1482.0 794.93 L1483.0 794.93 L1484.0 794.93 L1485.0 794.93 L1486.0 794.93 L1487.0 794.93 L1488.0 794.93 L1489.0 794.93 L1490.0 794.93 L1491.0 794.93 L1492.0 794.93 L1493.0 794.93 L1494.0 794.93 L1495.0 794.93 L1496.0 794.93 L1497.0 794.93 L1498.0 794.93 L1499.0 794.93 L1500.0 794.93 L1501.0 794.93 L1502.0 794.93 L1503.0 794.93 L1504.0 794.93 L1505.0 794.93 L1506.0 794.93 L1507.0 794.93 L1508.0 794.93 L1509.0 794.93 L1510.0 794.93 L1511.0 794.93 L1512.0 794.93 L1513.0 794.93 L1514.0 794.93 L1515.0 794.93 L1516.0 794.93 L1517.0 794.93 L1518.0 794.93 L1519.0 794.93 L1520.0 794.93 L1521.0 794.93 L1522.0 794.93 L1523.0 794.93 L1524.0 794.93 L1525.0 794.93 L1526.0 794.93 L1527.0 794.93 L1528.0 794.93 L1529.0 794.93 L1530.0 794.93 L1531.0 794.93 L1532.0 794.93 L1533.0 794.93 L1534.0 794.93 L1535.0 794.93 L1536.0 794.93 L1537.0 794.93 L1538.0 794.93 L1539.0 794.93 L1540.0 794.93 L1541.0 794.93 L1542.0 794.93 L1543.0 794.93 L1544.0 794.93 L1545.0 794.93 L1546.0 794.93 L1547.0 794.93 L1548.0 794.93 L1549.0 794.93 L1550.0 794.93 L1551.0 794.93 L1552.0 794.93 L1553.0 794.93 L1554.0 794.93 L1555.0 794.93 L1556.0 794.93 L1557.0 794.93 L1558.0 794.93 L1559.0 794.93 L1560.0 794.93 L1561.0 794.93 L1562.0 794.93 L1563.0 794.93 L1564.0 794.93 L1565.0 794.93 L1566.0 794.93 L1567.0 794.93 L1568.0 794.93 L1569.0 794.93 L1570.0 794.93 L1571.0 794.93 L1572.0 794.93 L1573.0 794.93 L1574.0 794.93 L1575.0 794.93 L1576.0 794.93 L1577.0 794.93 L1578.0 794.93 L1579.0 794.93 L1580.0 794.93 L1581.0 794.93 L1582.0 794.93 L1583.0 794.93 L1584.0 794.93 L1585.0 794.93 L1586.0 794.93 L1587.0 794.93 L1588.0 794.93 L1589.0 794.93 L1590.0 794.93 L1591.0 794.93 L1592.0 794.93 L1593.0 794.93 L1594.0 794.93 L1595.0 794.93 L1596.0 794.93 L1597.0 794.93 L1598.0 794.93 L1599.0 794.93 L1600.0 794.93 L1601.0 794.93 L1602.0 794.93 L1603.0 794.93 L1604.0 794.93 L1605.0 794.93 L1606.0 794.93 L1607.0 794.93 L1608.0 794.93 L1609.0 794.93 L1610.0 794.93 L1611.0 794.93 L1612.0 794.93 L1613.0 794.93 L1614.0 794.93 L1615.0 794.93 L1616.0 794.93 L1617.0 794.93 L1618.0 794.93 L1619.0 794.93 L1620.0 794.93 L1621.0 794.93 L1622.0 794.93 L1623.0 794.93 L1624.0 794.93 L1625.0 794.93 L1626.0 794.93 L1627.0 794.93 L1628.0 794.93 L1629.0 794.93 L1630.0 794.93 L1631.0 794.93 L1632.0 794.93 L1633.0 794.93 L1634.0 794.93 L1635.0 794.93 L1636.0 794.93 L1637.0 794.93 L1638.0 794.93 L1639.0 794.93 L1640.0 794.93 L1641.0 794.93 L1642.0 794.93 L1643.0 794.93 L1644.0 794.93 L1645.0 794.93 L1646.0 794.93 L1647.0 794.93 L1648.0 794.93 L1649.0 794.93 L1650.0 794.93 L1651.0 794.93 L1652.0 794.93 L1653.0 794.93 L1654.0 794.93 L1655.0 794.93 L1656.0 794.93 L1657.0 794.93 L1658.0 794.93 L1659.0 794.93 L1660.0 794.93 L1661.0 794.93 L1662.0 794.93 L1663.0 794.93 L1664.0 794.93 L1665.0 794.93 L1666.0 794.93 L1667.0 794.93 L1668.0 794.93 L1669.0 794.93 L1670.0 794.93 L1671.0 794.93 L1672.0 794.93 L1673.0 794.93 L1674.0 794.93 L1675.0 794.93 L1676.0 794.93 L1677.0 794.93 L1678.0 794.93 L1679.0 794.93 L1680.0 794.93 L1681.0 794.93 L1682.0 794.93 L1683.0 794.93 L1684.0 794.93 L1685.0 794.93 L1686.0 794.93 L1687.0 794.93 L1688.0 794.93 L1689.0 794.93 L1690.0 794.93 L1691.0 794.93 L1692.0 794.93 L1693.0 794.93 L1694.0 794.93 L1695.0 794.93 L1696.0 794.93 L1697.0 794.93 L1698.0 794.93 L1699.0 794.93 L1700.0 794.93 L1701.0 794.93 L1702.0 794.93 L1703.0 794.93 L1704.0 794.93 L1705.0 794.93 L1706.0 794.93 L1707.0 794.92 L1708.0 794.92 L1709.0 794.92 L1710.0 794.92 L1711.0 794.92 L1712.0 794.92 L1713.0 794.92 L1714.0 794.92 L1715.0 794.92 L1716.0 794.92 L1717.0 794.92 L1718.0 794.91 L1719.0 794.91 L1720.0 794.91 L1721.0 794.91 L1722.0 794.91 L1723.0 794.90 L1724.0 794.90 L1725.0 794.90 L1726.0 794.89 L1727.0 794.89 L1728.0 794.89 L1729.0 794.88 L1730.0 794.88 L1731.0 794.87 L1732.0 794.87 L1733.0 794.86 L1734.0 794.85 L1735.0 794.85 L1736.0 794.84 L1737.0 794.83 L1738.0 794.82 L1739.0 794.81 L1740.0 794.80 L1741.0 794.79 L1742.0 794.78 L1743.0 794.77 L1744.0 794.75 L1745.0 794.74 L1746.0 794.72 L1747.0 794.70 L1748.0 794.69 L1749.0 794.67 L1750.0 794.64 L1751.0 794.62 L1752.0 794.60 L1753.0 794.57 L1754.0 794.55 L1755.0 794.52 L1756.0 794.48 L1757.0 794.45 L1758.0 794.42 L1759.0 794.38 L1760.0 794.34 L1761.0 794.30 L1762.0 794.25 L1763.0 794.20 L1764.0 794.15 L1765.0 794.10 L1766.0 794.04 L1767.0 793.98 L1768.0 793.92 L1769.0 793.85 L1770.0 793.78 L1771.0 793.70 L1772.0 793.63 L1773.0 793.54 L1774.0 793.45 L1775.0 793.36 L1776.0 793.26 L1777.0 793.16 L1778.0 793.05 L1779.0 792.94 L1780.0 792.82 L1781.0 792.70 L1782.0 792.57 L1783.0 792.43 L1784.0 792.29 L1785.0 792.13 L1786.0 791.98 L1787.0 791.81 L1788.0 791.64 L1789.0 791.46 L1790.0 791.27 L1791.0 791.07 L1792.0 790.87 L1793.0 790.65 L1794.0 790.43 L1795.0 790.20 L1796.0 789.95 L1797.0 789.70 L1798.0 789.44 L1799.0 789.17 L1800.0 788.88 L1801.0 788.58 L1802.0 788.28 L1803.0 787.96 L1804.0 787.63 L1805.0 787.28 L1806.0 786.93 L1807.0 786.56 L1808.0 786.18 L1809.0 785.78 L1810.0 785.37 L1811.0 784.94 L1812.0 784.50 L1813.0 784.05 L1814.0 783.58 L1815.0 783.09 L1816.0 782.59 L1817.0 782.07 L1818.0 781.54 L1819.0 780.99 L1820.0 780.42 L1821.0 779.83 L1822.0 779.23 L1823.0 778.61 L1824.0 777.97 L1825.0 777.31 L1826.0 776.63 L1827.0 775.93 L1828.0 775.21 L1829.0 774.47 L1830.0 773.71 L1831.0 772.93 L1832.0 772.13 L1833.0 771.31 L1834.0 770.47 L1835.0 769.60 L1836.0 768.72 L1837.0 767.81 L1838.0 766.87 L1839.0 765.92 L1840.0 764.94 L1841.0 763.94 L1842.0 762.91 L1843.0 761.86 L1844.0 760.79 L1845.0 759.69 L1846.0 758.57 L1847.0 757.42 L1848.0 756.25 L1849.0 755.05 L1850.0 753.83 L1851.0 752.58 L1852.0 751.30 L1853.0 750.00 L1854.0 748.67 L1855.0 747.32 L1856.0 745.94 L1857.0 744.54 L1858.0 743.10 L1859.0 741.64 L1860.0 740.16 L1861.0 738.64 L1862.0 737.10 L1863.0 735.53 L1864.0 733.94 L1865.0 732.31 L1866.0 730.66 L1867.0 728.98 L1868.0 727.28 L1869.0 725.54 L1870.0 723.78 L1871.0 721.99 L1872.0 720.18 L1873.0 718.33 L1874.0 716.46 L1875.0 714.56 L1876.0 712.63 L1877.0 710.68 L1878.0 708.69 L1879.0 706.68 L1880.0 704.64 L1881.0 702.58 L1882.0 700.49 L1883.0 698.37 L1884.0 696.22 L1885.0 694.04 L1886.0 691.84 L1887.0 689.61 L1888.0 687.36 L1889.0 685.08 L1890.0 682.77 L1891.0 680.43 L1892.0 678.07 L1893.0 675.69 L1894.0 673.27 L1895.0 670.83 L1896.0 668.37 L1897.0 665.88 L1898.0 663.37 L1899.0 660.83 L1900.0 658.26 L1901.0 655.67 L1902.0 653.06 L1903.0 650.42 L1904.0 647.76 L1905.0 645.08 L1906.0 642.37 L1907.0 639.64 L1908.0 636.89 L1909.0 634.11 L1910.0 631.31 L1911.0 628.49 L1912.0 625.65 L1913.0 622.79 L1914.0 619.90 L1915.0 617.00 L1916.0 614.07 L1917.0 611.12 L1918.0 608.16 L1919.0 605.17 L1920.0 602.17 L1921.0 599.14 L1922.0 596.10 L1923.0 593.04 L1924.0 589.96 L1925.0 586.87 L1926.0 583.75 L1927.0 580.62 L1928.0 577.47 L1929.0 574.31 L1930.0 571.13 L1931.0 567.94 L1932.0 564.72 L1933.0 561.50 L1934.0 558.26 L1935.0 555.01 L1936.0 551.74 L1937.0 548.46 L1938.0 545.16 L1939.0 541.86 L1940.0 538.54 L1941.0 535.20 L1942.0 531.86 L1943.0 528.51 L1944.0 525.14 L1945.0 521.76 L1946.0 518.38 L1947.0 514.98 L1948.0 511.58 L1949.0 508.16 L1950.0 504.74 L1951.0 501.31 L1952.0 497.87 L1953.0 494.42 L1954.0 490.96 L1955.0 487.50 L1956.0 484.03 L1957.0 480.56 L1958.0 477.08 L1959.0 473.59 L1960.0 470.10 L1961.0 466.60 L1962.0 463.10 L1963.0 459.59 L1964.0 456.08 L1965.0 452.57 L1966.0 449.05 L1967.0 445.54 L1968.0 442.01 L1969.0 438.49 L1970.0 434.96 L1971.0 431.44 L1972.0 427.91 L1973.0 424.38 L1974.0 420.85 L1975.0 417.32 L1976.0 413.79 L1977.0 410.26 L1978.0 406.73 L1979.0 403.20 L1980.0 399.67 L1981.0 396.15 L1982.0 392.63 L1983.0 389.10 L1984.0 385.59 L1985.0 382.07"/>
<path clip-path="url(#cl)" stroke="#ff00ff" d="M422.0 1257.20 L423.0 1254.81 L424.0 1252.43 L425.0 1250.05 L426.0 1247.66 L427.0 1245.28 L428.0 1242.90 L429.0 1240.52 L430.0 1238.15 L431.0 1235.77 L432.0 1233.39 L433.0 1231.02 L434.0 1228.64 L435.0 1226.27 L436.0 1223.90 L437.0 1221.53 L438.0 1219.17 L439.0 1216.80 L440.0 1214.44 L441.0 1212.08 L442.0 1209.72 L443.0 1207.36 L444.0 1205.00 L445.0 1202.65 L446.0 1200.30 L447.0 1197.95 L448.0 1195.60 L449.0 1193.26 L450.0 1190.92 L451.0 1188.58 L452.0 1186.24 L453.0 1183.91 L454.0 1181.58 L455.0 1179.25 L456.0 1176.92 L457.0 1174.60 L458.0 1172.28 L459.0 1169.96 L460.0 1167.65 L461.0 1165.34 L462.0 1163.04 L463.0 1160.73 L464.0 1158.44 L465.0 1156.14 L466.0 1153.85 L467.0 1151.56 L468.0 1149.28 L469.0 1147.00 L470.0 1144.72 L471.0 1142.45 L472.0 1140.18 L473.0 1137.91 L474.0 1135.65 L475.0 1133.40 L476.0 1131.15 L477.0 1128.90 L478.0 1126.66 L479.0 1124.42 L480.0 1122.19 L481.0 1119.96 L482.0 1117.74 L483.0 1115.52 L484.0 1113.30 L485.0 1111.10 L486.0 1108.89 L487.0 1106.69 L488.0 1104.50 L489.0 1102.31 L490.0 1100.13 L491.0 1097.95 L492.0 1095.78 L493.0 1093.61 L494.0 1091.45 L495.0 1089.30 L496.0 1087.15 L497.0 1085.01 L498.0 1082.87 L499.0 1080.74 L500.0 1078.61 L501.0 1076.49 L502.0 1074.38 L503.0 1072.27 L504.0 1070.17 L505.0 1068.08 L506.0 1065.99 L507.0 1063.91 L508.0 1061.83 L509.0 1059.76 L510.0 1057.70 L511.0 1055.64 L512.0 1053.60 L513.0 1051.55 L514.0 1049.52 L515.0 1047.49 L516.0 1045.47 L517.0 1043.46 L518.0 1041.45 L519.0 1039.45 L520.0 1037.46 L521.0 1035.47 L522.0 1033.49 L523.0 1031.52 L524.0 1029.56 L525.0 1027.60 L526.0 1025.65 L527.0 1023.71 L528.0 1021.78 L529.0 1019.85 L530.0 1017.94 L531.0 1016.03 L532.0 1014.12 L533.0 1012.23 L534.0 1010.34 L535.0 1008.46 L536.0 1006.59 L537.0 1004.73 L538.0 1002.88 L539.0 1001.03 L540.0 999.19 L541.0 997.36 L542.0 995.54 L543.0 993.73 L544.0 991.92 L545.0 990.13 L546.0 988.34 L547.0 986.56 L548.0 984.79 L549.0 983.03 L550.0 981.27 L551.0 979.53 L552.0 977.79 L553.0 976.06 L554.0 974.34 L555.0 972.63 L556.0 970.93 L557.0 969.24 L558.0 967.55 L559.0 965.88 L560.0 964.21 L561.0 962.56 L562.0 960.91 L563.0 959.27 L564.0 957.64 L565.0 956.02 L566.0 954.41 L567.0 952.80 L568.0 951.21 L569.0 949.63 L570.0 948.05 L571.0 946.48 L572.0 944.93 L573.0 943.38 L574.0 941.84 L575.0 940.31 L576.0 938.79 L577.0 937.28 L578.0 935.78 L579.0 934.29 L580.0 932.81 L581.0 931.34 L582.0 929.87 L583.0 928.42 L584.0 926.97 L585.0 925.54 L586.0 924.11 L587.0 922.70 L588.0 921.29 L589.0 919.89 L590.0 918.50 L591.0 917.13 L592.0 915.76 L593.0 914.40 L594.0 913.05 L595.0 911.71 L596.0 910.38 L597.0 909.05 L598.0 907.74 L599.0 906.44 L600.0 905.15 L601.0 903.86 L602.0 902.59 L603.0 901.33 L604.0 900.07 L605.0 898.83 L606.0 897.59 L607.0 896.36 L608.0 895.15 L609.0 893.94 L610.0 892.74 L611.0 891.55 L612.0 890.38 L613.0 889.21 L614.0 888.05 L615.0 886.90 L616.0 885.75 L617.0 884.62 L618.0 883.50 L619.0 882.39 L620.0 881.28 L621.0 880.19 L622.0 879.10 L623.0 878.03 L624.0 876.96 L625.0 875.90 L626.0 874.86 L627.0 873.82 L628.0 872.79 L629.0 871.77 L630.0 870.76 L631.0 869.75 L632.0 868.76 L633.0 867.78 L634.0 866.80 L635.0 865.83 L636.0 864.88 L637.0 863.93 L638.0 862.99 L639.0 862.06 L640.0 861.14 L641.0 860.23 L642.0 859.32 L643.0 858.43 L644.0 857.54 L645.0 856.67 L646.0 855.80 L647.0 854.94 L648.0 854.09 L649.0 853.24 L650.0 852.41 L651.0 851.58 L652.0 850.77 L653.0 849.96 L654.0 849.16 L655.0 848.37 L656.0 847.58 L657.0 846.81 L658.0 846.04 L659.0 845.28 L660.0 844.53 L661.0 843.79 L662.0 843.06 L663.0 842.33 L664.0 841.61 L665.0 840.90 L666.0 840.20 L667.0 839.51 L668.0 838.82 L669.0 838.14 L670.0 837.47 L671.0 836.81 L672.0 836.15 L673.0 835.50 L674.0 834.86 L675.0 834.23 L676.0 833.61 L677.0 832.99 L678.0 832.38 L679.0 831.77 L680.0 831.18 L681.0 830.59 L682.0 830.01 L683.0 829.44 L684.0 828.87 L685.0 828.31 L686.0 827.76 L687.0 827.21 L688.0 826.67 L689.0 826.14 L690.0 825.61 L691.0 825.10 L692.0 824.58 L693.0 824.08 L694.0 823.58 L695.0 823.09 L696.0 822.60 L697.0 822.12 L698.0 821.65 L699.0 821.19 L700.0 820.73 L701.0 820.27 L702.0 819.82 L703.0 819.38 L704.0 818.95 L705.0 818.52 L706.0 818.10 L707.0 817.68 L708.0 817.27 L709.0 816.86 L710.0 816.46 L711.0 816.07 L712.0 815.68 L713.0 815.30 L714.0 814.92 L715.0 814.55 L716.0 814.18 L717.0 813.82 L718.0 813.47 L719.0 813.12 L720.0 812.77 L721.0 812.43 L722.0 812.10 L723.0 811.77 L724.0 811.44 L725.0 811.12 L726.0 810.81 L727.0 810.50 L728.0 810.20 L729.0 809.90 L730.0 809.60 L731.0 809.31 L732.0 809.02 L733.0 808.74 L734.0 808.47 L735.0 808.20 L736.0 807.93 L737.0 807.66 L738.0 807.41 L739.0 807.15 L740.0 806.90 L741.0 806.65 L742.0 806.41 L743.0 806.17 L744.0 805.94 L745.0 805.71 L746.0 805.48 L747.0 805.26 L748.0 805.04 L749.0 804.83 L750.0 804.62 L751.0 804.41 L752.0 804.21 L753.0 804.01 L754.0 803.81 L755.0 803.62 L756.0 803.43 L757.0 803.24 L758.0 803.06 L759.0 802.88 L760.0 802.70 L761.0 802.53 L762.0 802.36 L763.0 802.20 L764.0 802.03 L765.0 801.87 L766.0 801.71 L767.0 801.56 L768.0 801.41 L769.0 801.26 L770.0 801.11 L771.0 800.97 L772.0 800.83 L773.0 800.69 L774.0 800.56 L775.0 800.43 L776.0 800.30 L777.0 800.17 L778.0 800.05 L779.0 799.93 L780.0 799.81 L781.0 799.69 L782.0 799.58 L783.0 799.46 L784.0 799.35 L785.0 799.25 L786.0 799.14 L787.0 799.04 L788.0 798.94 L789.0 798.84 L790.0 798.74 L791.0 798.65 L792.0 798.55 L793.0 798.46 L794.0 798.37 L795.0 798.29 L796.0 798.20 L797.0 798.12 L798.0 798.04 L799.0 797.96 L800.0 797.88 L801.0 797.80 L802.0 797.73 L803.0 797.65 L804.0 797.58 L805.0 797.51 L806.0 797.45 L807.0 797.38 L808.0 797.31 L809.0 797.25 L810.0 797.19 L811.0 797.13 L812.0 797.07 L813.0 797.01 L814.0 796.96 L815.0 796.90 L816.0 796.85 L817.0 796.79 L818.0 796.74 L819.0 796.69 L820.0 796.64 L821.0 796.60 L822.0 796.55 L823.0 796.50 L824.0 796.46 L825.0 796.42 L826.0 796.37 L827.0 796.33 L828.0 796.29 L829.0 796.25 L830.0 796.22 L831.0 796.18 L832.0 796.14 L833.0 796.11 L834.0 796.07 L835.0 796.04 L836.0 796.01 L837.0 795.98 L838.0 795.94 L839.0 795.91 L840.0 795.88 L841.0 795.86 L842.0 795.83 L843.0 795.80 L844.0 795.78 L845.0 795.75 L846.0 795.72 L847.0 795.70 L848.0 795.68 L849.0 795.65 L850.0 795.63 L851.0 795.61 L852.0 795.59 L853.0 795.57 L854.0 795.55 L855.0 795.53 L856.0 795.51 L857.0 795.49 L858.0 795.47 L859.0 795.46 L860.0 795.44 L861.0 795.42 L862.0 795.41 L863.0 795.39 L864.0 795.38 L865.0 795.36 L866.0 795.35 L867.0 795.33 L868.0 795.32 L869.0 795.31 L870.0 795.30 L871.0 795.28 L872.0 795.27 L873.0 795.26 L874.0 795.25 L875.0 795.24 L876.0 795.23 L877.0 795.22 L878.0 795.21 L879.0 795.20 L880.0 795.19 L881.0 795.18 L882.0 795.17 L883.0 795.16 L884.0 795.15 L885.0 795.15 L886.0 795.14 L887.0 795.13 L888.0 795.12 L889.0 795.12 L890.0 795.11 L891.0 795.10 L892.0 795.10 L893.0 795.09 L894.0 795.09 L895.0 795.08 L896.0 795.08 L897.0 795.07 L898.0 795.06 L899.0 795.06 L900.0 795.06 L901.0 795.05 L902.0 795.05 L903.0 795.04 L904.0 795.04 L905.0 795.03 L906.0 795.03 L907.0 795.03 L908.0 795.02 L909.0 795.02 L910.0 795.02 L911.0 795.01 L912.0 795.01 L913.0 795.01 L914.0 795.00 L915.0 795.00 L916.0 795.00 L917.0 794.99 L918.0 794.99 L919.0 794.99 L920.0 794.99 L921.0 794.99 L922.0 794.98 L923.0 794.98 L924.0 794.98 L925.0 794.98 L926.0 794.97 L927.0 794.97 L928.0 794.97 L929.0 794.97 L930.0 794.97 L931.0 794.97 L932.0 794.96 L933.0 794.96 L934.0 794.96 L935.0 794.96 L936.0 794.96 L937.0 794.96 L938.0 794.96 L939.0 794.96 L940.0 794.95 L941.0 794.95 L942.0 794.95 L943.0 794.95 L944.0 794.95 L945.0 794.95 L946.0 794.95 L947.0 794.95 L948.0 794.95 L949.0 794.95 L950.0 794.95 L951.0 794.95 L952.0 794.94 L953.0 794.94 L954.0 794.94 L955.0 794.94 L956.0 794.94 L957.0 794.94 L958.0 794.94 L959.0 794.94 L960.0 794.94 L961.0 794.94 L962.0 794.94 L963.0 794.94 L964.0 794.94 L965.0 794.94 L966.0 794.94 L967.0 794.94 L968.0 794.94 L969.0 794.94 L970.0 794.94 L971.0 794.94 L972.0 794.94 L973.0 794.94 L974.0 794.94 L975.0 794.93 L976.0 794.93 L977.0 794.93 L978.0 794.93 L979.0 794.93 L980.0 794.93 L981.0 794.93 L982.0 794.93 L983.0 794.93 L984.0 794.93 L985.0 794.93 L986.0 794.93 L987.0 794.93 L988.0 794.93 L989.0 794.93 L990.0 794.93 L991.0 794.93 L992.0 794.93 L993.0 794.93 L994.0 794.93 L995.0 794.93 L996.0 794.93 L997.0 794.93 L998.0 794.93 L999.0 794.93 L1000.0 794.93 L1001.0 794.93 L1002.0 794.93 L1003.0 794.93 L1004.0 794.93 L1005.0 794.93 L1006.0 794.93 L1007.0 794.93 L1008.0 794.93 L1009.0 794.93 L1010.0 794.93 L1011.0 794.93 L1012.0 794.93 L1013.0 794.93 L1014.0 794.93 L1015.0 794.93 L1016.0 794.93 L1017.0 794.93 L1018.0 794.93 L1019.0 794.93 L1020.0 794.93 L1021.0 794.93 L1022.0 794.93 L1023.0 794.93 L1024.0 794.93 L1025.0 794.93 L1026.0 794.93 L1027.0 794.93 L1028.0 794.93 L1029.0 794.93 L1030.0 794.93 L1031.0 794.93 L1032.0 794.93 L1033.0 794.93 L1034.0 794.93 L1035.0 794.93 L1036.0 794.93 L1037.0 794.93 L1038.0 794.93 L1039.0 794.93 L1040.0 794.93 L1041.0 794.93 L1042.0 794.93 L1043.0 794.93 L1044.0 794.93 L1045.0 794.93 L1046.0 794.93 L1047.0 794.93 L1048.0 794.93 L1049.0 794.93 L1050.0 794.93 L1051.0 794.93 L1052.0 794.93 L1053.0 794.93 L1054.0 794.93 L1055.0 794.93 L1056.0 794.93 L1057.0 794.93 L1058.0 794.93 L1059.0 794.93 L1060.0 794.93 L1061.0 794.93 L1062.0 794.93 L1063.0 794.93 L1064.0 794.93 L1065.0 794.93 L1066.0 794.93 L1067.0 794.93 L1068.0 794.93 L1069.0 794.93 L1070.0 794.93 L1071.0 794.93 L1072.0 794.93 L1073.0 794.93 L1074.0 794.93 L1075.0 794.93 L1076.0 794.93 L1077.0 794.93 L1078.0 794.93 L1079.0 794.93 L1080.0 794.93 L1081.0 794.93 L1082.0 794.93 L1083.0 794.93 L1084.0 794.93 L1085.0 794.93 L1086.0 794.93 L1087.0 794.93 L1088.0 794.93 L1089.0 794.93 L1090.0 794.93 L1091.0 794.93 L1092.0 794.93 L1093.0 794.93 L1094.0 794.93 L1095.0 794.93 L1096.0 794.93 L1097.0 794.93 L1098.0 794.93 L1099.0 794.93 L1100.0 794.93 L1101.0 794.93 L1102.0 794.93 L1103.0 794.93 L1104.0 794.93 L1105.0 794.93 L1106.0 794.93 L1107.0 794.93 L1108.0 794.93 L1109.0 794.93 L1110.0 794.93 L1111.0 794.93 L1112.0 794.93 L1113.0 794.93 L1114.0 794.93 L1115.0 794.93 L1116.0 794.93 L1117.0 794.93 L1118.0 794.93 L1119.0 794.93 L1120.0 794.93 L1121.0 794.93 L1122.0 794.93 L1123.0 794.93 L1124.0 794.93 L1125.0 794.93 L1126.0 794.93 L1127.0 794.93 L1128.0 794.93 L1129.0 794.93 L1130.0 794.93 L1131.0 794.93 L1132.0 794.93 L1133.0 794.93 L1134.0 794.93 L1135.0 794.93 L1136.0 794.93 L1137.0 794.93 L1138.0 794.93 L1139.0 794.93 L1140.0 794.93"/>
<path clip-path="url(#cr)" stroke="#ff00ff" d="M1150.0 794.93 L1151.0 794.93 L1152.0 794.93 L1153.0 794.93 L1154.0 794.93 L1155.0 794.93 L1156.0 794.93 L1157.0 794.93 L1158.0 794.93 L1159.0 794.93 L1160.0 794.93 L1161.0 794.93 L1162.0 794.93 L1163.0 794.93 L1164.0 794.93 L1165.0 794.93 L1166.0 794.93 L1167.0 794.93 L1168.0 794.93 L1169.0 794.93 L1170.0 794.93 L1171.0 794.93 L1172.0 794.93 L1173.0 794.93 L1174.0 794.93 L1175.0 794.93 L1176.0 794.93 L1177.0 794.93 L1178.0 794.93 L1179.0 794.93 L1180.0 794.93 L1181.0 794.93 L1182.0 794.93 L1183.0 794.93 L1184.0 794.93 L1185.0 794.93 L1186.0 794.93 L1187.0 794.93 L1188.0 794.93 L1189.0 794.93 L1190.0 794.93 L1191.0 794.93 L1192.0 794.93 L1193.0 794.93 L1194.0 794.93 L1195.0 794.93 L1196.0 794.93 L1197.0 794.93 L1198.0 794.93 L1199.0 794.93 L1200.0 794.93 L1201.0 794.93 L1202.0 794.93 L1203.0 794.93 L1204.0 794.93 L1205.0 794.93 L1206.0 794.93 L1207.0 794.93 L1208.0 794.93 L1209.0 794.93 L1210.0 794.93 L1211.0 794.93 L1212.0 794.93 L1213.0 794.93 L1214.0 794.93 L1215.0 794.93 L1216.0 794.93 L1217.0 794.93 L1218.0 794.93 L1219.0 794.93 L1220.0 794.93 L1221.0 794.93 L1222.0 794.93 L1223.0 794.93 L1224.0 794.93 L1225.0 794.93 L1226.0 794.93 L1227.0 794.93 L1228.0 794.93 L1229.0 794.93 L1230.0 794.93 L1231.0 794.93 L1232.0 794.93 L1233.0 794.93 L1234.0 794.93 L1235.0 794.93 L1236.0 794.93 L1237.0 794.93 L1238.0 794.93 L1239.0 794.93 L1240.0 794.93 L1241.0 794.93 L1242.0 794.93 L1243.0 794.93 L1244.0 794.93 L1245.0 794.93 L1246.0 794.93 L1247.0 794.93 L1248.0 794.93 L1249.0 794.93 L1250.0 794.93 L1251.0 794.93 L1252.0 794.93 L1253.0 794.93 L1254.0 794.93 L1255.0 794.93 L1256.0 794.93 L1257.0 794.93 L1258.0 794.93 L1259.0 794.93 L1260.0 794.93 L1261.0 794.93 L1262.0 794.93 L1263.0 794.93 L1264.0 794.93 L1265.0 794.93 L1266.0 794.93 L1267.0 794.93 L1268.0 794.93 L1269.0 794.93 L1270.0 794.93 L1271.0 794.93 L1272.0 794.93 L1273.0 794.93 L1274.0 794.93 L1275.0 794.93 L1276.0 794.93 L1277.0 794.93 L1278.0 794.93 L1279.0 794.93 L1280.0 794.93 L1281.0 794.93 L1282.0 794.93 L1283.0 794.93 L1284.0 794.93 L1285.0 794.93 L1286.0 794.93 L1287.0 794.93 L1288.0 794.93 L1289.0 794.93 L1290.0 794.93 L1291.0 794.93 L1292.0 794.93 L1293.0 794.93 L1294.0 794.93 L1295.0 794.93 L1296.0 794.93 L1297.0 794.93 L1298.0 794.93 L1299.0 794.93 L1300.0 794.93 L1301.0 794.93 L1302.0 794.93 L1303.0 794.93 L1304.0 794.93 L1305.0 794.93 L1306.0 794.93 L1307.0 794.93 L1308.0 794.93 L1309.0 794.93 L1310.0 794.93 L1311.0 794.93 L1312.0 794.93 L1313.0 794.93 L1314.0 794.93 L1315.0 794.93 L1316.0 794.93 L1317.0 794.93 L1318.0 794.93 L1319.0 794.93 L1320.0 794.93 L1321.0 794.93 L1322.0 794.93 L1323.0 794.93 L1324.0 794.93 L1325.0 794.93 L1326.0 794.93 L1327.0 794.93 L1328.0 794.93 L1329.0 794.93 L1330.0 794.93 L1331.0 794.93 L1332.0 794.93 L1333.0 794.93 L1334.0 794.93 L1335.0 794.93 L1336.0 794.93 L1337.0 794.93 L1338.0 794.93 L1339.0 794.93 L1340.0 794.93 L1341.0 794.93 L1342.0 794.93 L1343.0 794.93 L1344.0 794.93 L1345.0 794.93 L1346.0 794.93 L1347.0 794.93 L1348.0 794.93 L1349.0 794.93 L1350.0 794.93 L1351.0 794.93 L1352.0 794.93 L1353.0 794.93 L1354.0 794.93 L1355.0 794.93 L1356.0 794.93 L1357.0 794.93 L1358.0 794.93 L1359.0 794.93 L1360.0 794.93 L1361.0 794.93 L1362.0 794.93 L1363.0 794.93 L1364.0 794.93 L1365.0 794.93 L1366.0 794.93 L1367.0 794.93 L1368.0 794.93 L1369.0 794.93 L1370.0 794.93 L1371.0 794.93 L1372.0 794.93 L1373.0 794.93 L1374.0 794.93 L1375.0 794.93 L1376.0 794.93 L1377.0 794.93 L1378.0 794.93 L1379.0 794.93 L1380.0 794.93 L1381.0 794.93 L1382.0 794.93 L1383.0 794.93 L1384.0 794.93 L1385.0 794.93 L1386.0 794.93 L1387.0 794.93 L1388.0 794.93 L1389.0 794.93 L1390.0 794.93 L1391.0 794.93 L1392.0 794.93 L1393.0 794.93 L1394.0 794.93 L1395.0 794.93 L1396.0 794.93 L1397.0 794.93 L1398.0 794.93 L1399.0 794.93 L1400.0 794.93 L1401.0 794.93 L1402.0 794.93 L1403.0 794.93 L1404.0 794.93 L1405.0 794.93 L1406.0 794.93 L1407.0 794.93 L1408.0 794.93 L1409.0 794.93 L1410.0 794.93 L1411.0 794.93 L1412.0 794.93 L1413.0 794.93 L1414.0 794.93 L1415.0 794.93 L1416.0 794.93 L1417.0 794.93 L1418.0 794.93 L1419.0 794.93 L1420.0 794.93 L1421.0 794.93 L1422.0 794.93 L1423.0 794.93 L1424.0 794.93 L1425.0 794.93 L1426.0 794.93 L1427.0 794.93 L1428.0 794.93 L1429.0 794.93 L1430.0 794.93 L1431.0 794.93 L1432.0 794.93 L1433.0 794.93 L1434.0 794.93 L1435.0 794.93 L1436.0 794.93 L1437.0 794.93 L1438.0 794.93 L1439.0 794.93 L1440.0 794.93 L1441.0 794.93 L1442.0 794.93 L1443.0 794.93 L1444.0 794.93 L1445.0 794.93 L1446.0 794.93 L1447.0 794.93 L1448.0 794.93 L1449.0 794.93 L1450.0 794.93 L1451.0 794.93 L1452.0 794.93 L1453.0 794.93 L1454.0 794.93 L1455.0 794.93 L1456.0 794.93 L1457.0 794.93 L1458.0 794.93 L1459.0 794.93 L1460.0 794.93 L1461.0 794.93 L1462.0 794.93 L1463.0 794.93 L1464.0 794.93 L1465.0 794.93 L1466.0 794.93 L1467.0 794.93 L1468.0 794.93 L1469.0 794.93 L1470.0 794.93 L1471.0 794.93 L1472.0 794.93 L1473.0 794.93 L1474.0 794.93 L1475.0 794.93 L1476.0 794.93 L1477.0 794.93 L1478.0 794.93 L1479.0 794.93 L1480.0 794.93 L1481.0 794.93 L1482.0 794.93 L1483.0 794.93 L1484.0 794.93 L1485.0 794.93 L1486.0 794.93 L1487.0 794.93 L1488.0 794.93 L1489.0 794.93 L1490.0 794.93 L1491.0 794.93 L1492.0 794.93 L1493.0 794.93 L1494.0 794.93 L1495.0 794.93 L1496.0 794.93 L1497.0 794.93 L1498.0 794.93 L1499.0 794.93 L1500.0 794.93 L1501.0 794.93 L1502.0 794.93 L1503.0 794.93 L1504.0 794.93 L1505.0 794.93 L1506.0 794.93 L1507.0 794.93 L1508.0 794.93 L1509.0 794.93 L1510.0 794.93 L1511.0 794.93 L1512.0 794.93 L1513.0 794.93 L1514.0 794.93 L1515.0 794.93 L1516.0 794.93 L1517.0 794.93 L1518.0 794.93 L1519.0 794.93 L1520.0 794.93 L1521.0 794.93 L1522.0 794.93 L1523.0 794.93 L1524.0 794.93 L1525.0 794.93 L1526.0 794.93 L1527.0 794.93 L1528.0 794.93 L1529.0 794.93 L1530.0 794.93 L1531.0 794.93 L1532.0 794.93 L1533.0 794.93 L1534.0 794.93 L1535.0 794.93 L1536.0 794.93 L1537.0 794.93 L1538.0 794.93 L1539.0 794.93 L1540.0 794.93 L1541.0 794.93 L1542.0 794.93 L1543.0 794.93 L1544.0 794.93 L1545.0 794.93 L1546.0 794.93 L1547.0 794.93 L1548.0 794.93 L1549.0 794.93 L1550.0 794.93 L1551.0 794.93 L1552.0 794.93 L1553.0 794.93 L1554.0 794.93 L1555.0 794.93 L1556.0 794.93 L1557.0 794.93 L1558.0 794.93 L1559.0 794.93 L1560.0 794.93 L1561.0 794.93 L1562.0 794.93 L1563.0 794.93 L1564.0 794.93 L1565.0 794.93 L1566.0 794.93 L1567.0 794.93 L1568.0 794.93 L1569.0 794.93 L1570.0 794.93 L1571.0 794.93 L1572.0 794.93 L1573.0 794.93 L1574.0 794.93 L1575.0 794.93 L1576.0 794.93 L1577.0 794.93 L1578.0 794.93 L1579.0 794.93 L1580.0 794.93 L1581.0 794.93 L1582.0 794.93 L1583.0 794.93 L1584.0 794.93 L1585.0 794.93 L1586.0 794.93 L1587.0 794.93 L1588.0 794.93 L1589.0 794.93 L1590.0 794.93 L1591.0 794.93 L1592.0 794.93 L1593.0 794.93 L1594.0 794.93 L1595.0 794.93 L1596.0 794.93 L1597.0 794.93 L1598.0 794.93 L1599.0 794.93 L1600.0 794.93 L1601.0 794.93 L1602.0 794.93 L1603.0 794.93 L1604.0 794.93 L1605.0 794.93 L1606.0 794.93 L1607.0 794.93 L1608.0 794.93 L1609.0 794.93 L1610.0 794.93 L1611.0 794.93 L1612.0 794.93 L1613.0 794.93 L1614.0 794.93 L1615.0 794.93 L1616.0 794.93 L1617.0 794.93 L1618.0 794.93 L1619.0 794.93 L1620.0 794.93 L1621.0 794.93 L1622.0 794.93 L1623.0 794.93 L1624.0 794.93 L1625.0 794.93 L1626.0 794.93 L1627.0 794.93 L1628.0 794.93 L1629.0 794.93 L1630.0 794.93 L1631.0 794.93 L1632.0 794.93 L1633.0 794.93 L1634.0 794.93 L1635.0 794.93 L1636.0 794.93 L1637.0 794.93 L1638.0 794.93 L1639.0 794.93 L1640.0 794.93 L1641.0 794.93 L1642.0 794.93 L1643.0 794.93 L1644.0 794.93 L1645.0 794.93 L1646.0 794.93 L1647.0 794.93 L1648.0 794.93 L1649.0 794.93 L1650.0 794.93 L1651.0 794.93 L1652.0 794.93 L1653.0 794.93 L1654.0 794.93 L1655.0 794.93 L1656.0 794.93 L1657.0 794.93 L1658.0 794.93 L1659.0 794.93 L1660.0 794.93 L1661.0 794.93 L1662.0 794.93 L1663.0 794.93 L1664.0 794.93 L1665.0 794.93 L1666.0 794.93 L1667.0 794.93 L1668.0 794.93 L1669.0 794.93 L1670.0 794.93 L1671.0 794.93 L1672.0 794.93 L1673.0 794.93 L1674.0 794.93 L1675.0 794.93 L1676.0 794.93 L1677.0 794.93 L1678.0 794.93 L1679.0 794.93 L1680.0 794.93 L1681.0 794.93 L1682.0 794.93 L1683.0 794.93 L1684.0 794.93 L1685.0 794.93 L1686.0 794.93 L1687.0 794.93 L1688.0 794.93 L1689.0 794.93 L1690.0 794.93 L1691.0 794.93 L1692.0 794.93 L1693.0 794.93 L1694.0 794.93 L1695.0 794.93 L1696.0 794.93 L1697.0 794.93 L1698.0 794.93 L1699.0 794.93 L1700.0 794.93 L1701.0 794.93 L1702.0 794.93 L1703.0 794.93 L1704.0 794.93 L1705.0 794.92 L1706.0 794.92 L1707.0 794.92 L1708.0 794.92 L1709.0 794.92 L1710.0 794.92 L1711.0 794.92 L1712.0 794.92 L1713.0 794.92 L1714.0 794.91 L1715.0 794.91 L1716.0 794.91 L1717.0 794.91 L1718.0 794.91 L1719.0 794.90 L1720.0 794.90 L1721.0 794.90 L1722.0 794.90 L1723.0 794.89 L1724.0 794.89 L1725.0 794.88 L1726.0 794.88 L1727.0 794.87 L1728.0 794.87 L1729.0 794.86 L1730.0 794.85 L1731.0 794.85 L1732.0 794.84 L1733.0 794.83 L1734.0 794.82 L1735.0 794.81 L1736.0 794.80 L1737.0 794.79 L1738.0 794.77 L1739.0 794.76 L1740.0 794.74 L1741.0 794.73 L1742.0 794.71 L1743.0 794.69 L1744.0 794.67 L1745.0 794.65 L1746.0 794.62 L1747.0 794.60 L1748.0 794.57 L1749.0 794.54 L1750.0 794.51 L1751.0 794.47 L1752.0 794.44 L1753.0 794.40 L1754.0 794.36 L1755.0 794.31 L1756.0 794.27 L1757.0 794.22 L1758.0 794.16 L1759.0 794.10 L1760.0 794.04 L1761.0 793.98 L1762.0 793.91 L1763.0 793.84 L1764.0 793.76 L1765.0 793.68 L1766.0 793.59 L1767.0 793.50 L1768.0 793.40 L1769.0 793.30 L1770.0 793.19 L1771.0 793.07 L1772.0 792.95 L1773.0 792.82 L1774.0 792.69 L1775.0 792.54 L1776.0 792.39 L1777.0 792.23 L1778.0 792.07 L1779.0 791.89 L1780.0 791.71 L1781.0 791.51 L1782.0 791.31 L1783.0 791.09 L1784.0 790.87 L1785.0 790.64 L1786.0 790.39 L1787.0 790.13 L1788.0 789.86 L1789.0 789.58 L1790.0 789.28 L1791.0 788.98 L1792.0 788.65 L1793.0 788.32 L1794.0 787.97 L1795.0 787.60 L1796.0 787.22 L1797.0 786.82 L1798.0 786.41 L1799.0 785.98 L1800.0 785.53 L1801.0 785.06 L1802.0 784.58 L1803.0 784.07 L1804.0 783.55 L1805.0 783.01 L1806.0 782.44 L1807.0 781.86 L1808.0 781.25 L1809.0 780.62 L1810.0 779.97 L1811.0 779.30 L1812.0 778.60 L1813.0 777.88 L1814.0 777.13 L1815.0 776.36 L1816.0 775.56 L1817.0 774.74 L1818.0 773.89 L1819.0 773.01 L1820.0 772.10 L1821.0 771.17 L1822.0 770.21 L1823.0 769.21 L1824.0 768.19 L1825.0 767.14 L1826.0 766.05 L1827.0 764.94 L1828.0 763.79 L1829.0 762.61 L1830.0 761.39 L1831.0 760.14 L1832.0 758.86 L1833.0 757.55 L1834.0 756.19 L1835.0 754.81 L1836.0 753.38 L1837.0 751.92 L1838.0 750.43 L1839.0 748.89 L1840.0 747.32 L1841.0 745.71 L1842.0 744.06 L1843.0 742.38 L1844.0 740.65 L1845.0 738.88 L1846.0 737.08 L1847.0 735.23 L1848.0 733.34 L1849.0 731.41 L1850.0 729.44 L1851.0 727.43 L1852.0 725.37 L1853.0 723.28 L1854.0 721.14 L1855.0 718.95 L1856.0 716.73 L1857.0 714.46 L1858.0 712.14 L1859.0 709.79 L1860.0 707.38 L1861.0 704.94 L1862.0 702.45 L1863.0 699.91 L1864.0 697.33 L1865.0 694.71 L1866.0 692.04 L1867.0 689.32 L1868.0 686.56 L1869.0 683.76 L1870.0 680.91 L1871.0 678.01 L1872.0 675.07 L1873.0 672.08 L1874.0 669.05 L1875.0 665.97 L1876.0 662.85 L1877.0 659.68 L1878.0 656.46 L1879.0 653.21 L1880.0 649.90 L1881.0 646.55 L1882.0 643.16 L1883.0 639.72 L1884.0 636.23 L1885.0 632.71 L1886.0 629.13 L1887.0 625.52 L1888.0 621.86 L1889.0 618.15 L1890.0 614.40 L1891.0 610.61 L1892.0 606.78 L1893.0 602.90 L1894.0 598.98 L1895.0 595.02 L1896.0 591.02 L1897.0 586.97 L1898.0 582.89 L1899.0 578.76 L1900.0 574.59 L1901.0 570.38 L1902.0 566.14 L1903.0 561.85 L1904.0 557.52 L1905.0 553.16 L1906.0 548.76 L1907.0 544.31 L1908.0 539.84 L1909.0 535.32 L1910.0 530.77 L1911.0 526.18 L1912.0 521.56 L1913.0 516.90 L1914.0 512.21 L1915.0 507.48 L1916.0 502.72 L1917.0 497.92 L1918.0 493.10 L1919.0 488.24 L1920.0 483.35 L1921.0 478.43 L1922.0 473.47 L1923.0 468.49 L1924.0 463.48 L1925.0 458.44 L1926.0 453.37 L1927.0 448.28 L1928.0 443.15 L1929.0 438.00 L1930.0 432.82 L1931.0 427.62 L1932.0 422.39 L1933.0 417.14 L1934.0 411.87 L1935.0 406.57 L1936.0 401.25 L1937.0 395.91 L1938.0 390.54 L1939.0 385.16 L1940.0 379.75 L1941.0 374.33 L1942.0 368.88 L1943.0 363.42 L1944.0 357.94 L1945.0 352.44 L1946.0 346.93 L1947.0 341.39 L1948.0 335.85 L1949.0 330.29 L1950.0 324.71 L1951.0 319.12 L1952.0 313.52 L1953.0 307.91 L1954.0 302.28 L1955.0 296.64 L1956.0 290.99 L1957.0 285.33 L1958.0 279.67 L1959.0 273.99 L1960.0 268.30 L1961.0 262.61 L1962.0 256.91 L1963.0 251.20 L1964.0 245.49 L1965.0 239.77 L1966.0 234.04 L1967.0 228.31 L1968.0 222.58 L1969.0 216.84 L1970.0 211.10 L1971.0 205.36 L1972.0 199.62 L1973.0 193.87 L1974.0 188.13 L1975.0 182.38 L1976.0 176.63 L1977.0 170.89 L1978.0 165.14 L1979.0 159.40 L1980.0 153.66 L1981.0 147.92 L1982.0 142.19 L1983.0 136.46 L1984.0 130.73 L1985.0 125.01"/>
</g>
<g fill="none" stroke-width="9.2" stroke-linecap="round" shape-rendering="crispEdges">
<path stroke="#000000" d="M386.6 139.5 H529.4"/>
<path stroke="#ff0000" d="M386.6 217.2 H529.4"/>
<path stroke="#990000" d="M386.6 295.0 H529.4"/>
<path stroke="#0000ff" d="M385.6 378.7 H528.4"/>
<path stroke="#00ffff" d="M385.6 456.5 H528.4"/>
<path stroke="#ff00ff" d="M385.6 533.9 H528.4"/>
</g>
<text id="y400" x="157.04" y="80.60" font-size="80" textLength="120.60" lengthAdjust="spacing">400</text>
<text id="y300" x="155.57" y="265.00" font-size="80" textLength="122.00" lengthAdjust="spacing">300</text>
<text id="y200" x="154.78" y="448.80" font-size="80" textLength="122.40" lengthAdjust="spacing">200</text>
<text id="y100" x="159.47" y="633.40" font-size="80" textLength="118.00" lengthAdjust="spacing">100</text>
<text id="y0" x="237.65" y="818.20" font-size="80">0</text>
<text id="ym100" x="130.33" y="1001.60" font-size="80" textLength="147.04" lengthAdjust="spacing">-100</text>
<text id="ym200" x="130.33" y="1186.60" font-size="80" textLength="147.04" lengthAdjust="spacing">-200</text>
<text id="ym300" x="130.33" y="1370.60" font-size="80" textLength="147.04" lengthAdjust="spacing">-300</text>
<text id="x000" x="236.15" y="1425.10" font-size="80" textLength="140.40" lengthAdjust="spacing">0.00</text>
<text id="x500" x="567.45" y="1440.00" font-size="80" textLength="261.60" lengthAdjust="spacing">5.00x10</text>
<text id="x500s" x="829.06" y="1395.30" font-size="47" textLength="39.35" lengthAdjust="spacing">-6</text>
<text id="x130" x="1010.87" y="1440.00" font-size="80" textLength="259.60" lengthAdjust="spacing">1.30x10</text>
<text id="x130s" x="1270.56" y="1395.30" font-size="47" textLength="38.95" lengthAdjust="spacing">-4</text>
<text id="x135" x="1423.87" y="1440.00" font-size="80" textLength="259.40" lengthAdjust="spacing">1.35x10</text>
<text id="x135s" x="1682.96" y="1395.30" font-size="47" textLength="39.95" lengthAdjust="spacing">-4</text>
<text id="x140" x="1836.87" y="1440.00" font-size="80" textLength="259.60" lengthAdjust="spacing">1.40x10</text>
<text id="x140s" x="2095.46" y="1395.30" font-size="47" textLength="39.55" lengthAdjust="spacing">-4</text>
<text id="xt" x="995.25" y="1504.40" font-size="78" textLength="332.54" lengthAdjust="spacing">Depth (m)</text>
<text id="yt" transform="translate(98.50 1178.49) rotate(-90)" x="0" y="0" font-size="82" textLength="871.62" lengthAdjust="spacing">Space charge density (C/m</text>
<text id="yts" transform="translate(53.60 309.19) rotate(-90)" x="0" y="0" font-size="50">3</text>
<text id="ytp" transform="translate(98.50 284.84) rotate(-90)" x="0" y="0" font-size="82">)</text>
<text id="l1a" x="575.09" y="159.80" font-size="62" textLength="57.53" lengthAdjust="spacing">4s</text>
<text id="l1b" x="678.79" y="159.80" font-size="62" textLength="183.79" lengthAdjust="spacing">4kV dc</text>
<text id="l2a" x="577.54" y="237.60" font-size="62" textLength="54.33" lengthAdjust="spacing">8s</text>
<text id="l2b" x="680.64" y="237.60" font-size="62" textLength="181.79" lengthAdjust="spacing">8kV dc</text>
<text id="l3" x="546.65" y="315.40" font-size="62" textLength="316.22" lengthAdjust="spacing">11s 11kV dc</text>
<text id="l4a" x="546.25" y="399.20" font-size="62" textLength="369.09" lengthAdjust="spacing">15s 11kV dc +</text>
<text id="l4b" x="961.99" y="399.20" font-size="62" textLength="179.91" lengthAdjust="spacing">4kV ac</text>
<text id="l5a" x="546.25" y="476.60" font-size="62" textLength="369.09" lengthAdjust="spacing">19s 11kV dc +</text>
<text id="l5b" x="963.04" y="476.60" font-size="62" textLength="178.51" lengthAdjust="spacing">8kV ac</text>
<text id="l6a" x="542.48" y="554.70" font-size="62" textLength="373.29" lengthAdjust="spacing">22s 11kV dc +</text>
<text id="l6b" x="932.35" y="554.70" font-size="62" textLength="208.31" lengthAdjust="spacing">11kV ac</text>
</svg>
</body></html>
